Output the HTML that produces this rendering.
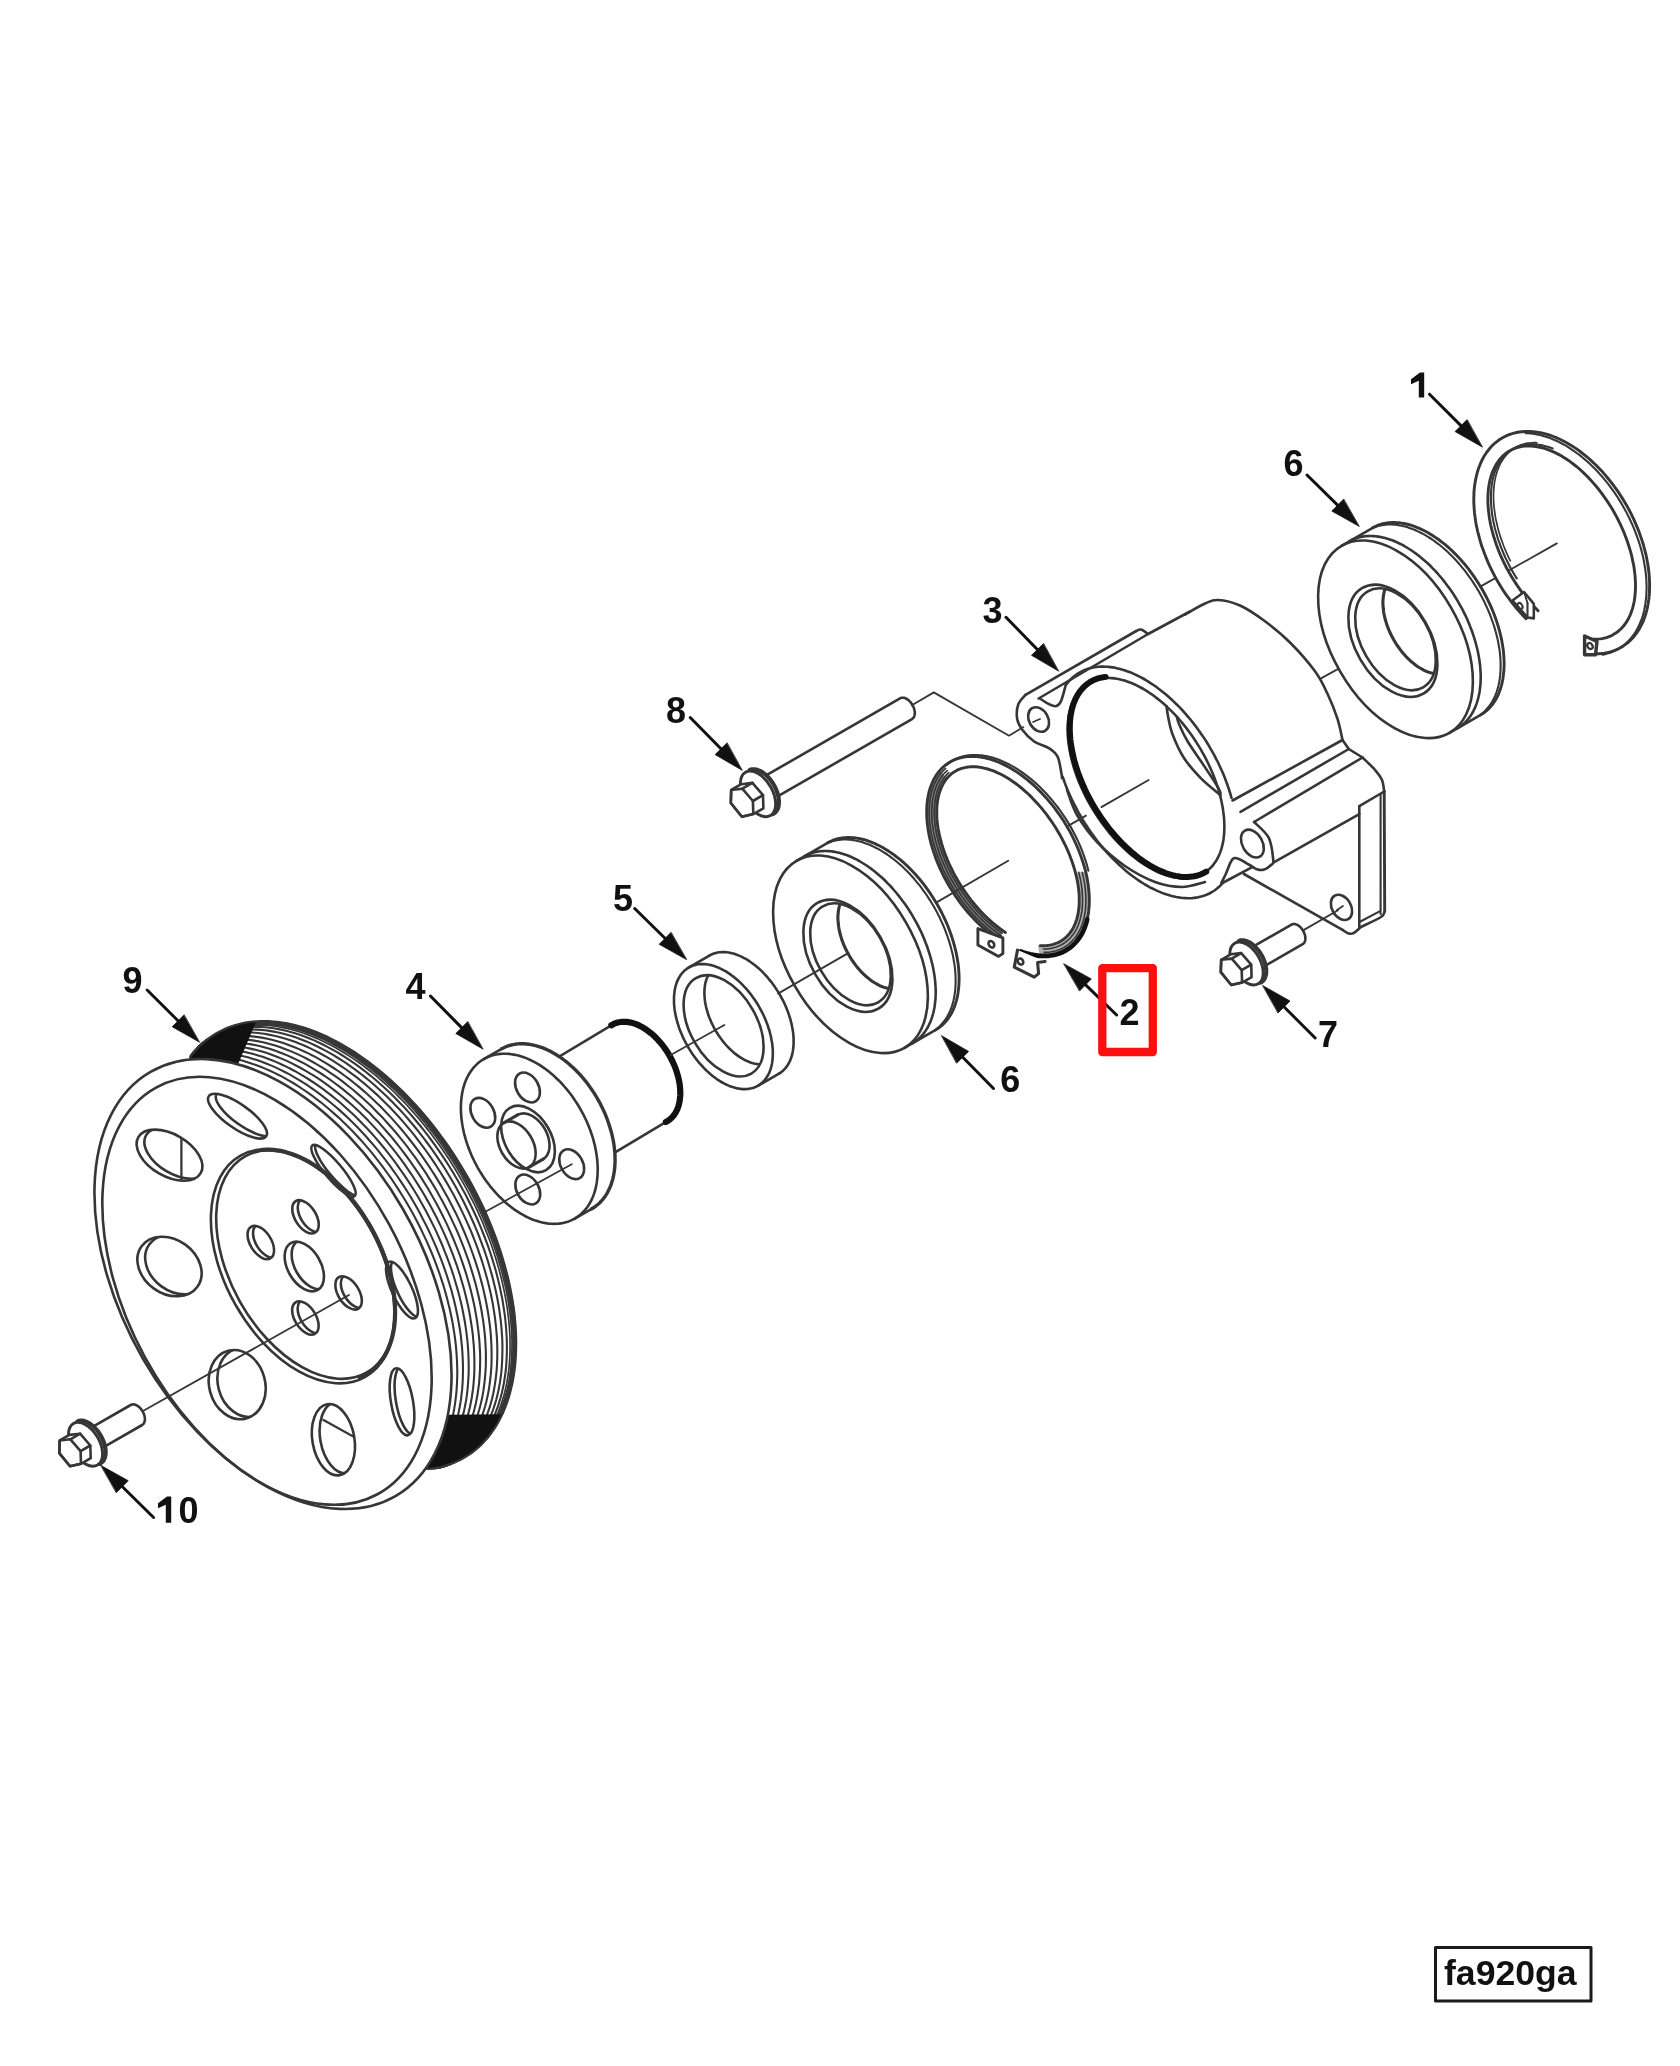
<!DOCTYPE html>
<html><head><meta charset="utf-8"><style>
html,body{margin:0;padding:0;background:#fff;width:1680px;height:2066px;overflow:hidden}
svg{display:block}
</style></head><body>
<svg xmlns="http://www.w3.org/2000/svg" width="1680" height="2066" viewBox="0 0 1680 2066" stroke-linecap="round" stroke-linejoin="round">
<rect width="1680" height="2066" fill="#fff"/>
<line x1="1321.4" y1="678.1" x2="1393" y2="638.8" stroke="#363636" stroke-width="1.8"/>
<line x1="1480.7" y1="586.4" x2="1556.8" y2="543.4" stroke="#363636" stroke-width="1.8"/>
<path d="M1526.1,618.7L1521.7,614.2L1517.5,609.5L1513.4,604.5L1509.5,599.4L1505.7,594.1L1502.1,588.6L1498.7,583L1495.4,577.3L1492.4,571.5L1489.5,565.6L1486.9,559.6L1484.5,553.6L1482.3,547.5L1480.4,541.4L1478.7,535.4L1477.2,529.3L1476,523.3L1475.1,517.4L1474.4,511.5L1474,505.7L1473.8,500L1473.9,494.5L1474.3,489.1L1474.9,483.8L1475.8,478.8L1476.9,473.9L1478.3,469.2L1479.9,464.8L1481.8,460.6L1483.9,456.6L1486.3,452.9L1488.9,449.4L1491.7,446.2L1494.7,443.3L1497.9,440.8L1501.3,438.5L1504.9,436.5L1508.6,434.8L1512.5,433.5L1516.6,432.5L1520.8,431.8L1525.1,431.5L1529.5,431.4L1534,431.7L1538.6,432.4L1543.3,433.4L1548,434.7L1552.7,436.3L1557.5,438.2L1562.3,440.5L1567.1,443L1571.9,445.9L1576.7,449L1581.4,452.4L1586,456.1L1590.6,460L1595.1,464.2L1599.5,468.7L1603.8,473.3L1607.9,478.2L1611.9,483.2L1615.8,488.4L1619.5,493.8L1623,499.3L1626.4,505L1629.5,510.8L1632.5,516.6L1635.2,522.6L1637.7,528.6L1640,534.6L1642.1,540.7L1643.9,546.8L1645.5,552.8L1646.8,558.8L1647.9,564.8L1648.7,570.7L1649.3,576.6L1649.6,582.3L1649.6,587.9L1649.4,593.4L1648.9,598.7L1648.1,603.9L1647.1,608.8L1645.8,613.6L1644.3,618.2L1642.6,622.5L1640.6,626.6L1638.3,630.5L1635.9,634.1L1633.2,637.4L1630.3,640.4L1627.2,643.2L1623.9,645.6L1620.4,647.7L1616.7,649.6L1612.9,651.1L1608.9,652.2L1604.8,653.1L1600.5,653.6L1596.2,653.8L1593.3,639.2L1596.9,639.2L1600.4,638.9L1603.8,638.3L1607,637.4L1610.2,636.2L1613.1,634.7L1615.9,633L1618.6,631L1621.1,628.7L1623.4,626.2L1625.5,623.4L1627.4,620.4L1629.2,617.1L1630.7,613.7L1632,610L1633.2,606.1L1634.1,602L1634.7,597.8L1635.2,593.4L1635.5,588.8L1635.5,584.1L1635.3,579.3L1634.9,574.3L1634.3,569.3L1633.4,564.2L1632.4,559L1631.1,553.8L1629.6,548.5L1628,543.3L1626.1,538L1624,532.7L1621.8,527.5L1619.3,522.3L1616.7,517.2L1614,512.1L1611,507.1L1608,502.3L1604.8,497.6L1601.4,493L1598,488.5L1594.4,484.2L1590.7,480.1L1587,476.2L1583.2,472.4L1579.3,468.9L1575.3,465.6L1571.3,462.5L1567.3,459.7L1563.3,457.1L1559.3,454.8L1555.3,452.7L1551.2,450.9L1547.3,449.4L1543.3,448.1L1539.5,447.1L1535.7,446.5L1531.9,446.1L1528.3,446L1524.7,446.1L1521.3,446.6L1518,447.4L1514.8,448.4L1511.8,449.7L1508.9,451.3L1506.1,453.2L1503.6,455.3L1501.2,457.7L1498.9,460.4L1496.9,463.2L1495.1,466.4L1493.4,469.7L1492,473.3L1490.8,477.1L1489.8,481.1L1489,485.2L1488.4,489.6L1488,494.1L1487.9,498.7L1488,503.5L1488.3,508.3L1488.8,513.3L1489.5,518.4L1490.5,523.5L1491.6,528.7L1493,534L1494.6,539.3L1496.3,544.5L1498.3,549.8L1500.5,555.1L1502.8,560.3L1505.3,565.4L1508,570.5L1510.9,575.5L1513.9,580.5L1517,585.3L1520.3,589.9L1523.7,594.5L1527.2,598.8L1530.8,603L1534.5,607.1Z" stroke="#363636" stroke-width="0" fill="#fff" stroke-opacity="0"/>
<path d="M1526.1,618.7L1523.4,615.9L1520.7,613L1518,610.1L1515.5,607L1512.9,603.9L1510.5,600.7L1508.1,597.4L1505.7,594.1L1503.4,590.7L1501.2,587.2L1499.1,583.7L1497,580.2L1495,576.6L1493.1,572.9L1491.3,569.3L1489.5,565.6L1487.8,561.8L1486.3,558.1L1484.8,554.3L1483.4,550.5L1482,546.8L1480.8,543L1479.7,539.2L1478.7,535.4L1477.7,531.6L1476.9,527.8L1476.1,524.1L1475.5,520.3L1475,516.6L1474.5,512.9L1474.2,509.3L1474,505.7L1473.8,502.1L1473.8,498.6L1473.9,495.2L1474,491.8L1474.3,488.4L1474.7,485.1L1475.2,481.9L1475.8,478.8L1476.5,475.7L1477.2,472.7L1478.1,469.8L1479.1,467L1480.2,464.2L1481.3,461.6L1482.6,459L1483.9,456.6L1485.4,454.2L1486.9,452L1488.6,449.8L1490.3,447.8L1492,445.9L1493.9,444L1495.9,442.3L1497.9,440.8L1500,439.3L1502.2,438L1504.4,436.7L1506.7,435.6L1509.1,434.7L1511.5,433.8L1514,433.1L1516.6,432.5L1519.2,432L1521.8,431.7L1524.5,431.5L1527.3,431.4L1530,431.5L1532.9,431.6L1535.7,431.9L1538.6,432.4L1541.5,433L1544.4,433.7L1547.4,434.5L1550.4,435.4L1553.3,436.5L1556.3,437.7L1559.3,439L1562.3,440.5L1565.3,442L1568.3,443.7L1571.3,445.5L1574.3,447.4L1577.3,449.4L1580.2,451.5L1583.1,453.8L1586,456.1L1588.9,458.5L1591.7,461.1L1594.5,463.7L1597.3,466.4L1600,469.2L1602.7,472.1L1605.3,475.1L1607.9,478.2L1610.4,481.3L1612.9,484.5L1615.3,487.8L1617.7,491.1L1619.9,494.5L1622.1,497.9L1624.3,501.4L1626.4,505L1628.4,508.6L1630.3,512.2L1632.1,515.9L1633.9,519.6L1635.5,523.3L1637.1,527.1L1638.6,530.8L1640,534.6L1641.3,538.4L1642.6,542.2L1643.7,546L1644.7,549.8L1645.7,553.6L1646.5,557.3L1647.2,561.1L1647.9,564.8L1648.4,568.5L1648.9,572.2L1649.2,575.8L1649.4,579.5L1649.6,583L1649.6,586.5L1649.5,590L1649.4,593.4L1649.1,596.7L1648.7,600L1648.2,603.2L1647.6,606.4L1647,609.5L1646.2,612.5L1645.3,615.4L1644.3,618.2L1643.3,620.9L1642.1,623.6L1640.8,626.1L1639.5,628.6L1638,630.9L1636.5,633.2L1634.9,635.3L1633.2,637.4L1631.4,639.3L1629.5,641.1L1627.6,642.8L1625.5,644.4L1623.4,645.9L1621.3,647.2L1619,648.5L1616.7,649.6L1614.3,650.5L1611.9,651.4L1609.4,652.1L1606.9,652.7L1604.3,653.2L1601.6,653.5L1598.9,653.7L1596.2,653.8" stroke="#363636" stroke-width="2.9" fill="none"/>
<path d="M1538.1,610.7L1535.7,608.3L1533.3,605.8L1531,603.3L1528.7,600.6L1526.4,597.9L1524.2,595.1L1522,592.3L1519.9,589.4L1517.8,586.4L1515.8,583.4L1513.8,580.3L1511.9,577.2L1510,574.1L1508.2,570.9L1506.5,567.7L1504.8,564.4L1503.2,561.1L1501.7,557.8L1500.2,554.5L1498.8,551.2L1497.5,547.8L1496.3,544.5L1495.2,541.1L1494.1,537.8L1493.1,534.4L1492.2,531.1L1491.4,527.8L1490.6,524.5L1490,521.2L1489.4,517.9L1489,514.7L1488.6,511.5L1488.3,508.4L1488,505.2L1487.9,502.2L1487.9,499.2L1487.9,496.2L1488.1,493.3L1488.3,490.4L1488.6,487.6L1489,484.9L1489.5,482.3L1490.1,479.7L1490.8,477.2L1491.5,474.7L1492.4,472.4L1493.3,470.1L1494.3,468L1495.4,465.9L1496.5,463.9L1497.8,462L1499.1,460.2L1500.5,458.5L1501.9,456.9L1503.5,455.4L1505.1,454L1506.8,452.7L1508.5,451.5L1510.3,450.5L1512.2,449.5L1514.1,448.7L1516.1,447.9L1518.1,447.3L1520.2,446.8L1522.4,446.4L1524.6,446.1L1526.8,446L1529.1,446L1531.4,446L1533.7,446.2L1536.1,446.5L1538.5,447L1541,447.5L1543.5,448.1L1546,448.9L1548.5,449.8L1551,450.8L1553.5,451.9L1556.1,453.1L1558.6,454.4L1561.2,455.8L1563.8,457.4L1566.3,459L1568.9,460.7L1571.4,462.6L1573.9,464.5L1576.5,466.5L1579,468.6L1581.4,470.8L1583.9,473.1L1586.3,475.5L1588.7,477.9L1591.1,480.5L1593.4,483.1L1595.7,485.8L1598,488.5L1600.2,491.3L1602.3,494.2L1604.4,497.1L1606.5,500.1L1608.5,503.1L1610.5,506.2L1612.4,509.3L1614.2,512.5L1616,515.7L1617.7,519L1619.3,522.2L1620.9,525.5L1622.4,528.8L1623.8,532.1L1625.1,535.5L1626.4,538.8L1627.6,542.2L1628.7,545.5L1629.7,548.9L1630.7,552.2L1631.6,555.5L1632.3,558.9L1633,562.2L1633.7,565.4L1634.2,568.7L1634.6,571.9L1635,575.1L1635.2,578.2L1635.4,581.3L1635.5,584.3L1635.5,587.3L1635.4,590.3L1635.2,593.2L1635,596L1634.6,598.8L1634.2,601.5L1633.6,604.1L1633,606.6L1632.3,609.1L1631.5,611.5L1630.7,613.8L1629.7,616L1628.7,618.2L1627.5,620.2L1626.4,622.2L1625.1,624L1623.7,625.8L1622.3,627.4L1620.8,629L1619.2,630.4L1617.6,631.8L1615.9,633L1614.1,634.1L1612.3,635.2L1610.4,636.1L1608.4,636.9L1606.4,637.6L1604.4,638.1L1602.2,638.6L1600.1,638.9L1597.9,639.1L1595.6,639.2L1593.3,639.2L1591,639.1" stroke="#363636" stroke-width="2.9" fill="none"/>
<path d="M1525.6,433.2L1528.1,433.3L1530.6,433.5L1533.1,433.7L1535.6,434.1L1538.2,434.6L1540.7,435.2L1543.3,435.9L1545.9,436.7L1548.5,437.6L1551.2,438.6L1553.8,439.7L1556.4,440.8L1559.1,442.1L1561.7,443.5L1564.4,444.9L1567,446.4L1569.6,448.1L1572.2,449.8L1574.8,451.6L1577.4,453.5L1580,455.4L1582.5,457.5L1585.1,459.6L1587.6,461.8L1590,464.1L1592.5,466.4L1594.9,468.8L1597.3,471.3L1599.6,473.9L1602,476.5L1604.2,479.1L1606.5,481.9L1608.7,484.7L1610.8,487.5L1612.9,490.4L1615,493.3L1617,496.3L1618.9,499.4L1620.8,502.4L1622.6,505.5L1624.4,508.7L1626.2,511.9L1627.8,515.1L1629.4,518.3L1630.9,521.6L1632.4,524.8L1633.8,528.1L1635.1,531.4L1636.4,534.8L1637.6,538.1L1638.7,541.4L1639.8,544.8L1640.8,548.1L1641.7,551.4L1642.5,554.8L1643.3,558.1L1643.9,561.4L1644.5,564.7L1645.1,568L1645.5,571.2L1645.9,574.4L1646.2,577.6L1646.4,580.8L1646.5,583.9L1646.6,587L1646.5,590.1L1646.4,593.1L1646.3,596.1L1646,599L1645.6,601.9L1645.2,604.7L1644.7,607.5L1644.2,610.2L1643.5,612.9L1642.8,615.5L1642,618L1641.1,620.5L1640.1,622.9L1639.1,625.2L1638,627.5L1636.8,629.7L1635.6,631.8L1634.3,633.8L1632.9,635.7L1631.4,637.6L1629.9,639.4L1628.4,641L1626.7,642.7L1625,644.2L1623.3,645.6L1621.4,646.9L1619.6,648.2L1617.6,649.3L1615.7,650.4L1613.6,651.3L1611.5,652.2L1609.4,653L1607.2,653.6L1605,654.2L1602.7,654.7" stroke="#363636" stroke-width="2.1" fill="none"/>
<path d="M1516.7,578.4L1515.1,575.8L1513.6,573.3L1512.1,570.7L1510.6,568L1509.2,565.4L1507.9,562.7L1506.6,560.1L1505.3,557.4L1504.1,554.7L1502.9,551.9L1501.8,549.2L1500.7,546.5L1499.7,543.7L1498.7,541L1497.8,538.3L1497,535.5L1496.2,532.8L1495.4,530.1L1494.7,527.3L1494.1,524.6L1493.5,521.9L1493,519.3L1492.5,516.6L1492.1,514L1491.8,511.3L1491.5,508.7L1491.3,506.2L1491.1,503.6L1491,501.1L1490.9,498.6L1490.9,496.2L1491,493.8L1491.1,491.4L1491.3,489L1491.5,486.8L1491.8,484.5L1492.2,482.3L1492.6,480.1L1493.1,478L1493.6,476L1494.2,474L1494.9,472L1495.6,470.1L1496.3,468.3L1497.2,466.5L1498,464.8L1499,463.1L1499.9,461.5L1501,460L1502,458.5L1503.2,457.1L1504.4,455.8L1505.6,454.5L1506.9,453.3L1508.2,452.2L1509.5,451.1L1511,450.2L1512.4,449.2L1513.9,448.4L1515.5,447.6L1517,447L1518.6,446.3L1520.3,445.8L1522,445.4L1523.7,445L1525.5,444.7L1527.3,444.4L1529.1,444.3L1530.9,444.2L1532.8,444.2L1534.7,444.3L1536.6,444.5L1538.6,444.7L1540.5,445L1542.5,445.4L1544.5,445.9L1546.6,446.4L1548.6,447L1550.6,447.7L1552.7,448.5" stroke="#363636" stroke-width="2.1" fill="none"/>
<path d="M1510.3,560.8L1509.2,558.7L1508.2,556.5L1507.2,554.3L1506.2,552.1L1505.3,549.9L1504.4,547.7L1503.5,545.5L1502.7,543.3L1501.9,541.1L1501.1,538.9L1500.4,536.7L1499.7,534.4L1499,532.2L1498.4,530L1497.8,527.8L1497.3,525.6L1496.8,523.4L1496.3,521.3L1495.8,519.1L1495.4,516.9L1495.1,514.8L1494.8,512.7L1494.5,510.5L1494.2,508.4L1494,506.3L1493.8,504.3L1493.7,502.2L1493.6,500.2L1493.5,498.2L1493.5,496.2L1493.5,494.2L1493.6,492.3L1493.7,490.3L1493.8,488.4L1494,486.6L1494.2,484.7L1494.5,482.9L1494.7,481.1L1495.1,479.4L1495.4,477.7L1495.8,476L1496.3,474.3L1496.8,472.7L1497.3,471.1L1497.8,469.6L1498.4,468.1L1499,466.6L1499.7,465.1L1500.4,463.7L1501.1,462.4L1501.9,461.1L1502.7,459.8L1503.5,458.6L1504.4,457.4L1505.3,456.2L1506.2,455.1L1507.2,454L1508.2,453L1509.2,452.1L1510.3,451.1L1511.4,450.2L1512.5,449.4L1513.6,448.6L1514.8,447.9L1516,447.2L1517.2,446.6L1518.5,446L1519.8,445.4L1521.1,444.9L1522.4,444.5L1523.7,444.1L1525.1,443.7L1526.5,443.4L1527.9,443.2L1529.4,443L1530.8,442.8L1532.3,442.8L1533.8,442.7L1535.3,442.7L1536.9,442.8" stroke="#363636" stroke-width="1.7" fill="none"/>
<path d="M1512.5,600.5L1527.5,617.5L1533.8,618.4L1533.8,603.9L1524,592Z" stroke="#363636" stroke-width="2.6" fill="#fff"/>
<line x1="1527.5" y1="617.5" x2="1527.5" y2="603" stroke="#363636" stroke-width="2.1"/>
<line x1="1524" y1="592" x2="1527.5" y2="603" stroke="#363636" stroke-width="1.8"/>
<ellipse cx="1520" cy="606" rx="3.2" ry="2.2" transform="rotate(55 1520 606)" stroke="#363636" stroke-width="2.1" fill="none"/>
<path d="M1584.6,636L1584.6,654.7L1595.5,654.7L1597,641.5Z" stroke="#363636" stroke-width="3.4" fill="#fff"/>
<ellipse cx="1590" cy="646" rx="3.2" ry="2.4" transform="rotate(55 1590 646)" stroke="#363636" stroke-width="2.3" fill="none"/>
<path d="M1449.5,732.8L1447,734.1L1444.5,735.3L1441.8,736.2L1439.1,737L1436.2,737.5L1433.3,737.9L1430.3,738.1L1427.3,738.1L1424.2,738L1421,737.6L1417.8,737L1414.6,736.3L1411.3,735.4L1407.9,734.3L1404.6,733L1401.2,731.5L1397.9,729.9L1394.5,728.1L1391.1,726.1L1387.8,723.9L1384.4,721.6L1381.1,719.2L1377.8,716.5L1374.5,713.8L1371.3,710.9L1368.1,707.8L1365,704.7L1361.9,701.4L1358.9,697.9L1355.9,694.4L1353.1,690.8L1350.3,687.1L1347.6,683.2L1345,679.3L1342.5,675.3L1340.1,671.3L1337.8,667.2L1335.6,663L1333.5,658.8L1331.5,654.6L1329.7,650.3L1328,646L1326.4,641.7L1324.9,637.4L1323.6,633.1L1322.4,628.8L1321.4,624.5L1320.5,620.2L1319.7,616L1319.1,611.9L1318.7,607.7L1318.3,603.7L1318.2,599.7L1318.1,595.8L1318.2,592L1318.5,588.2L1318.9,584.6L1319.5,581L1320.2,577.6L1321,574.3L1322,571.1L1323.1,568.1L1324.4,565.1L1325.8,562.4L1327.3,559.7L1329,557.2L1330.8,554.9L1332.7,552.7L1334.7,550.7L1336.9,548.9L1339.1,547.3L1341.5,545.8L1372.7,527.8L1375.2,526.5L1377.7,525.4L1380.4,524.4L1383.1,523.7L1386,523.1L1388.9,522.7L1391.9,522.5L1394.9,522.5L1398,522.7L1401.2,523L1404.4,523.6L1407.6,524.3L1410.9,525.3L1414.3,526.4L1417.6,527.7L1421,529.1L1424.3,530.8L1427.7,532.6L1431.1,534.6L1434.4,536.7L1437.8,539L1441.1,541.5L1444.4,544.1L1447.7,546.9L1450.9,549.8L1454.1,552.8L1457.2,556L1460.3,559.3L1463.3,562.7L1466.3,566.2L1469.1,569.9L1471.9,573.6L1474.6,577.4L1477.2,581.3L1479.7,585.3L1482.1,589.3L1484.4,593.4L1486.6,597.6L1488.7,601.8L1490.7,606.1L1492.5,610.3L1494.2,614.6L1495.8,618.9L1497.3,623.3L1498.6,627.6L1499.8,631.9L1500.8,636.1L1501.7,640.4L1502.5,644.6L1503.1,648.8L1503.5,652.9L1503.9,656.9L1504,660.9L1504.1,664.8L1504,668.7L1503.7,672.4L1503.3,676.1L1502.7,679.6L1502,683L1501.2,686.3L1500.2,689.5L1499.1,692.6L1497.8,695.5L1496.4,698.3L1494.9,700.9L1493.2,703.4L1491.4,705.7L1489.5,707.9L1487.5,709.9L1485.3,711.7L1483.1,713.4L1480.7,714.9Z" stroke="#363636" stroke-width="0" fill="#fff" stroke-opacity="0"/>
<path d="M1372.7,527.8L1374.5,526.8L1376.3,526L1378.2,525.2L1380.1,524.5L1382,524L1384,523.5L1386.1,523.1L1388.2,522.8L1390.3,522.6L1392.5,522.5L1394.7,522.5L1396.9,522.6L1399.2,522.8L1401.4,523.1L1403.7,523.5L1406.1,524L1408.4,524.5L1410.8,525.2L1413.2,526L1415.6,526.9L1418,527.8L1420.4,528.9L1422.8,530L1425.3,531.3L1427.7,532.6L1430.1,534L1432.6,535.5L1435,537.1L1437.4,538.7L1439.8,540.5L1442.2,542.3L1444.6,544.2L1446.9,546.2L1449.3,548.2L1451.6,550.4L1453.9,552.6L1456.1,554.8L1458.4,557.2L1460.6,559.5L1462.7,562L1464.9,564.5L1467,567.1L1469,569.7L1471,572.4L1473,575.1L1474.9,577.9L1476.8,580.7L1478.6,583.5L1480.4,586.4L1482.1,589.3L1483.8,592.3L1485.4,595.3L1487,598.3L1488.5,601.3L1489.9,604.4L1491.3,607.4L1492.6,610.5L1493.8,613.6L1495,616.7L1496.1,619.8L1497.1,622.9L1498.1,626L1499,629.1L1499.8,632.2L1500.6,635.3L1501.3,638.4L1501.9,641.4L1502.4,644.4L1502.9,647.4L1503.3,650.4L1503.6,653.4L1503.8,656.3L1504,659.2L1504.1,662L1504.1,664.8L1504,667.6L1503.9,670.3L1503.6,673L1503.3,675.6L1503,678.2L1502.5,680.7L1502,683.2L1501.4,685.6L1500.7,687.9L1500,690.1L1499.2,692.3L1498.3,694.5L1497.3,696.5L1496.3,698.5L1495.2,700.4L1494,702.2L1492.8,704L1491.5,705.6L1490.1,707.2L1488.7,708.7L1487.2,710.1L1485.7,711.4L1484.1,712.7L1482.4,713.8L1480.7,714.9" stroke="#363636" stroke-width="2.9" fill="none"/>
<path d="M1374.3,527.4L1376.1,526.7L1377.9,526.1L1379.8,525.6L1381.7,525.2L1383.7,524.9L1385.7,524.7L1387.7,524.5L1389.7,524.5L1391.8,524.5L1393.9,524.6L1396.1,524.8L1398.2,525.1L1400.4,525.5L1402.6,526L1404.8,526.5L1407.1,527.1L1409.3,527.9L1411.6,528.7L1413.9,529.5L1416.1,530.5L1418.4,531.6L1420.7,532.7L1423,533.9L1425.3,535.2L1427.6,536.6L1429.9,538L1432.2,539.5L1434.5,541.1L1436.7,542.8L1439,544.5L1441.2,546.3L1443.5,548.2L1445.7,550.1L1447.8,552.1L1450,554.2L1452.2,556.3L1454.3,558.5L1456.4,560.7L1458.4,563L1460.4,565.4L1462.4,567.8L1464.4,570.2L1466.3,572.7L1468.2,575.3L1470.1,577.9L1471.9,580.5L1473.6,583.1L1475.4,585.8L1477,588.6L1478.7,591.3L1480.2,594.1L1481.8,596.9L1483.2,599.8L1484.7,602.6L1486,605.5L1487.3,608.4L1488.6,611.3L1489.8,614.2L1490.9,617.1L1492,620.1L1493,623L1494,625.9L1494.9,628.9L1495.7,631.8L1496.5,634.7L1497.2,637.6L1497.9,640.5L1498.4,643.4L1498.9,646.3L1499.4,649.1L1499.8,651.9L1500.1,654.7L1500.3,657.5L1500.5,660.2L1500.6,662.9L1500.6,665.6L1500.6,668.2L1500.5,670.8L1500.3,673.4L1500.1,675.9L1499.8,678.3L1499.4,680.8L1499,683.1L1498.5,685.4L1497.9,687.7L1497.3,689.9L1496.6,692L1495.8,694.1L1495,696.1L1494.1,698.1L1493.1,700L1492.1,701.8L1491,703.5L1489.9,705.2L1488.7,706.8L1487.4,708.3L1486.1,709.8L1484.7,711.2L1483.3,712.5L1481.9,713.7" stroke="#363636" stroke-width="2.1" fill="none"/>
<line x1="1449.5" y1="732.8" x2="1480.7" y2="714.9" stroke="#363636" stroke-width="2.6"/>
<line x1="1341.5" y1="545.8" x2="1372.7" y2="527.8" stroke="#363636" stroke-width="2.6"/>
<path d="M1349.3,541.3L1351.1,540.3L1352.9,539.5L1354.8,538.7L1356.7,538L1358.6,537.4L1360.6,536.9L1362.7,536.6L1364.8,536.3L1366.9,536.1L1369.1,536L1371.3,536L1373.5,536.1L1375.8,536.3L1378,536.6L1380.3,536.9L1382.7,537.4L1385,538L1387.4,538.7L1389.8,539.5L1392.2,540.3L1394.6,541.3L1397,542.3L1399.4,543.5L1401.9,544.7L1404.3,546L1406.7,547.5L1409.2,549L1411.6,550.5L1414,552.2L1416.4,553.9L1418.8,555.8L1421.2,557.7L1423.5,559.7L1425.9,561.7L1428.2,563.8L1430.5,566L1432.7,568.3L1435,570.6L1437.2,573L1439.3,575.5L1441.5,578L1443.6,580.6L1445.6,583.2L1447.6,585.9L1449.6,588.6L1451.5,591.3L1453.4,594.1L1455.2,597L1457,599.9L1458.7,602.8L1460.4,605.8L1462,608.7L1463.6,611.8L1465.1,614.8L1466.5,617.8L1467.9,620.9L1469.2,624L1470.4,627.1L1471.6,630.2L1472.7,633.3L1473.7,636.4L1474.7,639.5L1475.6,642.6L1476.4,645.7L1477.2,648.8L1477.9,651.8L1478.5,654.9L1479,657.9L1479.5,660.9L1479.9,663.9L1480.2,666.9L1480.4,669.8L1480.6,672.7L1480.7,675.5L1480.7,678.3L1480.6,681.1L1480.5,683.8L1480.2,686.5L1479.9,689.1L1479.6,691.7L1479.1,694.2L1478.6,696.6L1478,699L1477.3,701.4L1476.6,703.6L1475.8,705.8L1474.9,707.9L1473.9,710L1472.9,712L1471.8,713.9L1470.6,715.7L1469.4,717.4L1468.1,719.1L1466.7,720.7L1465.3,722.2L1463.8,723.6L1462.3,724.9L1460.7,726.1L1459,727.3L1457.3,728.3" stroke="#363636" stroke-width="2.6" fill="none"/>
<ellipse cx="1395.5" cy="639.3" rx="108" ry="64" transform="rotate(60 1395.5 639.3)" stroke="#363636" stroke-width="2.6" fill="none"/>
<ellipse cx="1392.9" cy="640.8" rx="61" ry="37.5" transform="rotate(60 1392.9 640.8)" stroke="#363636" stroke-width="2.6" fill="none"/>
<ellipse cx="1395.5" cy="639.3" rx="55.4" ry="33.8" transform="rotate(60 1395.5 639.3)" stroke="#363636" stroke-width="2.6" fill="none"/>
<clipPath id="c1"><path d="M1423.2,687.3L1421.6,688.1L1420,688.8L1418.3,689.3L1416.5,689.7L1414.7,690L1412.8,690.2L1410.9,690.1L1408.9,690L1406.9,689.7L1404.9,689.3L1402.8,688.7L1400.7,688L1398.6,687.2L1396.5,686.3L1394.4,685.2L1392.3,684L1390.2,682.6L1388.1,681.2L1386,679.6L1384,677.9L1382,676.1L1380,674.3L1378.1,672.3L1376.2,670.2L1374.4,668L1372.6,665.8L1370.9,663.5L1369.3,661.1L1367.7,658.7L1366.2,656.2L1364.8,653.7L1363.5,651.1L1362.3,648.5L1361.1,645.9L1360.1,643.2L1359.1,640.5L1358.2,637.9L1357.5,635.2L1356.8,632.6L1356.3,629.9L1355.9,627.3L1355.5,624.8L1355.3,622.2L1355.2,619.8L1355.2,617.3L1355.3,615L1355.6,612.6L1355.9,610.4L1356.3,608.3L1356.9,606.2L1357.5,604.2L1358.3,602.3L1359.1,600.6L1360.1,598.9L1361.2,597.3L1362.3,595.9L1363.6,594.6L1364.9,593.4L1366.3,592.3L1367.8,591.3L1369.4,590.5L1371,589.8L1372.7,589.3L1374.5,588.9L1376.3,588.6L1378.2,588.4L1380.1,588.5L1382.1,588.6L1384.1,588.9L1386.1,589.3L1388.2,589.9L1390.3,590.6L1392.4,591.4L1394.5,592.3L1396.6,593.4L1398.7,594.6L1400.8,596L1402.9,597.4L1405,599L1407,600.7L1409,602.5L1411,604.3L1412.9,606.3L1414.8,608.4L1416.6,610.6L1418.4,612.8L1420.1,615.1L1421.7,617.5L1423.3,619.9L1424.8,622.4L1426.2,624.9L1427.5,627.5L1428.7,630.1L1429.9,632.7L1430.9,635.4L1431.9,638.1L1432.8,640.7L1433.5,643.4L1434.2,646L1434.7,648.7L1435.1,651.3L1435.5,653.8L1435.7,656.4L1435.8,658.8L1435.8,661.3L1435.7,663.6L1435.4,666L1435.1,668.2L1434.7,670.3L1434.1,672.4L1433.5,674.4L1432.7,676.3L1431.9,678L1430.9,679.7L1429.8,681.3L1428.7,682.7L1427.4,684L1426.1,685.2L1424.7,686.3L1423.2,687.3Z"/></clipPath>
<g clip-path="url(#c1)">
<path d="M1450.9,671.3L1449.4,672.1L1447.7,672.8L1446,673.4L1444.2,673.8L1442.4,674.1L1440.5,674.2L1438.6,674.2L1436.6,674L1434.6,673.8L1432.6,673.3L1430.5,672.8L1428.4,672.1L1426.3,671.3L1424.2,670.3L1422.1,669.2L1420,668L1417.9,666.7L1415.8,665.2L1413.8,663.6L1411.7,662L1409.7,660.2L1407.8,658.3L1405.8,656.3L1404,654.2L1402.1,652.1L1400.4,649.8L1398.7,647.5L1397,645.2L1395.5,642.7L1394,640.2L1392.6,637.7L1391.2,635.1L1390,632.5L1388.8,629.9L1387.8,627.2L1386.8,624.6L1386,621.9L1385.2,619.3L1384.6,616.6L1384,614L1383.6,611.4L1383.3,608.8L1383.1,606.3L1382.9,603.8L1382.9,601.4L1383.1,599L1383.3,596.7L1383.6,594.5L1384.1,592.3L1384.6,590.2L1385.3,588.3L1386,586.4L1386.9,584.6L1387.8,582.9L1388.9,581.4L1390.1,579.9L1391.3,578.6L1392.6,577.4L1394,576.3L1395.5,575.4L1397.1,574.5L1398.7,573.9L1400.5,573.3L1402.2,572.9L1404.1,572.6L1405.9,572.5L1407.9,572.5L1409.8,572.6L1411.8,572.9L1413.9,573.3L1415.9,573.9L1418,574.6L1420.1,575.4L1422.2,576.4L1424.3,577.5L1426.5,578.7L1428.5,580L1430.6,581.5L1432.7,583L1434.7,584.7L1436.7,586.5L1438.7,588.4L1440.6,590.4L1442.5,592.4L1444.3,594.6L1446.1,596.8L1447.8,599.1L1449.4,601.5L1451,603.9L1452.5,606.4L1453.9,609L1455.2,611.5L1456.5,614.1L1457.6,616.8L1458.7,619.4L1459.6,622.1L1460.5,624.8L1461.2,627.4L1461.9,630.1L1462.4,632.7L1462.9,635.3L1463.2,637.9L1463.4,640.4L1463.5,642.9L1463.5,645.3L1463.4,647.7L1463.2,650L1462.8,652.2L1462.4,654.4L1461.9,656.4L1461.2,658.4L1460.4,660.3L1459.6,662.1L1458.6,663.7L1457.6,665.3L1456.4,666.7L1455.2,668.1L1453.8,669.3L1452.4,670.4L1450.9,671.3Z" stroke="#363636" stroke-width="3.1" fill="none"/>
</g>
<path d="M1025.5,694.8L1136.2,631L1141,629.9L1148.1,634L1210,600.7L1240,607.5L1265,621.3L1290,642.5L1315,671.3L1337.5,718.8L1342.5,740L1362.5,757.5L1375.1,770L1384.2,787L1384.7,911.4L1360.4,927.2L1351.4,933L1343,930.2L1243.9,874L1221.3,883.1L1223.2,882.4L1221.4,884.5L1219.5,886.4L1217.5,888.2L1215.3,889.9L1213.1,891.4L1210.8,892.7L1208.4,893.9L1205.9,895L1203.4,895.9L1200.7,896.7L1198,897.3L1195.2,897.7L1192.4,898L1189.5,898.2L1186.5,898.2L1183.5,898L1180.4,897.7L1177.3,897.2L1174.1,896.6L1170.9,895.8L1167.7,894.8L1164.4,893.7L1161.1,892.5L1157.8,891.1L1154.5,889.6L1151.1,887.9L1147.8,886.1L1144.4,884.1L1141.1,882L1137.7,879.8L1134.4,877.4L1131.1,874.9L1127.8,872.3L1124.5,869.6L1121.2,866.8L1118,863.8L1114.9,860.7L1111.7,857.5L1108.6,854.3L1105.6,850.9L1102.6,847.4L1099.7,843.9L1096.8,840.2L1094,836.5L1091.3,832.7L1088.6,828.9L1086,825L1083.5,821L1081.1,816.9L1078.8,812.9L1076.5,808.8L1074.4,804.6L1072.3,800.4L1070.3,796.2L1068.5,792L1066.7,787.8L1065.1,783.5L1063.5,779.3L1062.1,775L1060.8,770.8L1057.6,756.7L1049.3,748.3L1033.8,741.2L1021.9,729.3L1017.1,718.6L1018.3,704.3Z" stroke="#363636" stroke-width="0" fill="#fff" stroke-opacity="0"/>
<path d="M1066.3,684.5L1067.6,682.8L1069,681.1L1070.5,679.6L1072,678.1L1073.6,676.7L1075.2,675.4L1076.9,674.2L1078.6,673.1L1080.4,672.1L1082.3,671.1L1084.2,670.2L1086.1,669.5L1088.1,668.8L1090.1,668.2L1092.2,667.7L1094.4,667.3L1096.5,667L1098.7,666.8L1101,666.6L1103.3,666.6L1105.6,666.7L1107.9,666.8L1110.3,667.1L1112.7,667.4L1115.2,667.8L1117.6,668.4L1120.1,669L1122.6,669.7L1125.1,670.5L1127.7,671.4L1130.2,672.3L1132.8,673.4L1135.3,674.6L1137.9,675.8L1140.5,677.1L1143.1,678.5L1145.7,680L1148.3,681.6L1150.9,683.3L1153.5,685L1156.1,686.8L1158.6,688.7L1161.2,690.7L1163.7,692.7L1166.3,694.8L1168.8,697L1171.3,699.3L1173.8,701.6L1176.2,704L1178.7,706.4L1181.1,708.9L1183.5,711.5L1185.8,714.1L1188.1,716.8L1190.4,719.5L1192.6,722.3L1194.8,725.1L1197,728L1199.1,730.9L1201.2,733.9L1203.3,736.9L1205.3,739.9L1207.2,743L1209.1,746.1L1210.9,749.3L1212.7,752.4L1214.5,755.6L1216.1,758.8L1217.8,762L1219.3,765.3L1220.8,768.5L1222.3,771.8L1223.7,775.1L1225,778.3L1226.2,781.6L1227.4,784.9L1228.6,788.2L1229.6,791.5L1230.6,794.7L1231.5,798" stroke="#363636" stroke-width="2.6" fill="none"/>
<path d="M1223.2,882.4L1221.9,883.9L1220.5,885.4L1219.1,886.8L1217.6,888.1L1216.1,889.3L1214.5,890.5L1212.8,891.5L1211.2,892.5L1209.4,893.5L1207.6,894.3L1205.8,895.1L1203.9,895.7L1202,896.3L1200.1,896.8L1198.1,897.3L1196.1,897.6L1194,897.9L1191.9,898.1L1189.7,898.2L1187.6,898.2L1185.4,898.1L1183.2,898L1180.9,897.7L1178.6,897.4L1176.3,897L1174,896.5L1171.7,896L1169.3,895.3L1166.9,894.6L1164.5,893.8L1162.1,892.9L1159.7,891.9L1157.3,890.9L1154.8,889.7L1152.4,888.5L1149.9,887.3L1147.5,885.9L1145,884.5L1142.6,883L1140.1,881.4L1137.7,879.8L1135.2,878L1132.8,876.3L1130.4,874.4L1127.9,872.5L1125.5,870.5L1123.2,868.4L1120.8,866.3L1118.4,864.2L1116.1,861.9L1113.8,859.6L1111.5,857.3L1109.2,854.9L1107,852.5L1104.8,850L1102.6,847.4L1100.4,844.8L1098.3,842.2L1096.2,839.5L1094.2,836.8L1092.2,834L1090.2,831.2L1088.3,828.4L1086.4,825.5L1084.5,822.6L1082.7,819.7L1081,816.7L1079.2,813.8L1077.6,810.8L1076,807.7L1074.4,804.7L1072.9,801.6L1071.4,798.6L1070,795.5L1068.6,792.4L1067.3,789.3L1066.1,786.2L1064.9,783.1L1063.8,780L1062.7,776.9" stroke="#363636" stroke-width="2.6" fill="none"/>
<path d="M1067,790C1068.7,794.2 1071.8,806.2 1077,815C1082.2,823.8 1090,834.5 1098,843C1106,851.5 1115.5,859.5 1125,866C1134.5,872.5 1145.5,878.5 1155,882C1164.5,885.5 1173.7,887 1182,887C1190.3,887 1201.2,882.8 1205,882" stroke="#363636" stroke-width="2.6" fill="none"/>
<path d="M1204.1,872.9L1202.2,874L1200.3,874.9L1198.3,875.8L1196.2,876.5L1194.1,877.1L1191.9,877.5L1189.6,877.9L1187.4,878.1L1185,878.2L1182.6,878.2L1180.2,878.1L1177.7,877.8L1175.2,877.5L1172.6,877L1170,876.3L1167.4,875.6L1164.8,874.7L1162.1,873.8L1159.4,872.7L1156.7,871.5L1154,870.1L1151.3,868.7L1148.5,867.2L1145.8,865.5L1143,863.7L1140.3,861.9L1137.6,859.9L1134.9,857.8L1132.2,855.7L1129.5,853.4L1126.8,851.1L1124.2,848.6L1121.6,846.1L1119,843.5L1116.4,840.8L1113.9,838.1L1111.4,835.2L1109,832.3L1106.6,829.3L1104.3,826.3L1102,823.2L1099.8,820.1L1097.6,816.9L1095.5,813.6L1093.4,810.3L1091.4,807L1089.5,803.6L1087.6,800.3L1085.8,796.8L1084.1,793.4L1082.5,789.9L1080.9,786.4L1079.4,783L1078,779.5L1076.7,776L1075.5,772.5L1074.3,769L1073.2,765.5L1072.3,762.1L1071.4,758.6L1070.6,755.2L1069.9,751.8L1069.3,748.5L1068.8,745.1L1068.4,741.9L1068,738.6L1067.8,735.4L1067.7,732.3L1067.6,729.2L1067.7,726.2L1067.8,723.2L1068.1,720.3L1068.4,717.5L1068.8,714.8L1069.4,712.1L1070,709.5L1070.7,707L1071.5,704.6L1072.4,702.3L1073.4,700L1074.5,697.9L1075.6,695.8L1076.9,693.9L1078.2,692.1L1079.6,690.3L1081.1,688.7L1082.7,687.2L1084.4,685.8L1086.1,684.5L1087.9,683.3L1089.8,682.2L1091.7,681.3L1093.7,680.4L1095.8,679.7L1097.9,679.1L1100.1,678.7L1102.4,678.3L1104.6,678.1L1107,678L1109.4,678L1111.8,678.1L1114.3,678.4L1116.8,678.7L1119.4,679.2L1122,679.9L1124.6,680.6L1127.2,681.5L1129.9,682.4L1132.6,683.5L1135.3,684.7L1138,686.1L1140.7,687.5L1143.5,689L1146.2,690.7L1149,692.5L1151.7,694.3L1154.4,696.3L1157.1,698.4L1159.8,700.5L1162.5,702.8L1165.2,705.1L1167.8,707.6L1170.4,710.1L1173,712.7L1175.6,715.4L1178.1,718.1L1180.6,721L1183,723.9L1185.4,726.9L1187.7,729.9L1190,733L1192.2,736.1L1194.4,739.3L1196.5,742.6L1198.6,745.9L1200.6,749.2L1202.5,752.6L1204.4,755.9L1206.2,759.4L1207.9,762.8L1209.5,766.3L1211.1,769.8L1212.6,773.2L1214,776.7L1215.3,780.2L1216.5,783.7L1217.7,787.2L1218.8,790.7L1219.7,794.1L1220.6,797.6L1221.4,801L1222.1,804.4L1222.7,807.7L1223.2,811.1L1223.6,814.3L1224,817.6L1224.2,820.8L1224.3,823.9L1224.4,827L1224.3,830L1224.2,833L1223.9,835.9L1223.6,838.7L1223.2,841.4L1222.6,844.1L1222,846.7L1221.3,849.2L1220.5,851.6L1219.6,853.9L1218.6,856.2L1217.5,858.3L1216.4,860.4L1215.1,862.3L1213.8,864.1L1212.4,865.9L1210.9,867.5L1209.3,869L1207.6,870.4L1205.9,871.7L1204.1,872.9" stroke="#363636" stroke-width="2.6" fill="none"/>
<path d="M1206.3,871.7L1204.4,872.7L1202.6,873.6L1200.6,874.5L1198.6,875.2L1196.5,875.8L1194.4,876.2L1192.2,876.6L1190,876.8L1187.7,877L1185.4,877L1183,876.9L1180.6,876.7L1178.1,876.3L1175.7,875.9L1173.2,875.3L1170.6,874.7L1168,873.9L1165.5,873L1162.8,871.9L1160.2,870.8L1157.6,869.6L1154.9,868.3L1152.3,866.8L1149.6,865.3L1146.9,863.6L1144.3,861.9L1141.6,860L1138.9,858.1L1136.3,856L1133.7,853.9L1131.1,851.7L1128.5,849.3L1125.9,847L1123.3,844.5L1120.8,841.9L1118.4,839.3L1115.9,836.6L1113.5,833.8L1111.1,831L1108.8,828.1L1106.5,825.1L1104.3,822.1L1102.1,819.1L1100,815.9L1097.9,812.8L1095.9,809.6L1093.9,806.3L1092,803.1L1090.2,799.8L1088.4,796.4L1086.7,793.1L1085.1,789.7L1083.6,786.3L1082.1,782.9L1080.7,779.5L1079.4,776.1L1078.1,772.7L1077,769.3L1075.9,765.9L1074.9,762.5L1074,759.2L1073.2,755.8L1072.5,752.5L1071.8,749.2L1071.3,746L1070.8,742.7L1070.4,739.5L1070.1,736.4L1069.9,733.3L1069.8,730.3L1069.8,727.3L1069.9,724.3L1070,721.5L1070.3,718.7L1070.6,715.9L1071.1,713.3L1071.6,710.7L1072.2,708.1L1072.9,705.7L1073.7,703.3L1074.6,701.1L1075.5,698.9L1076.6,696.8L1077.7,694.8L1078.9,692.9L1080.2,691.1L1081.6,689.4L1083,687.8L1084.5,686.3L1086.1,684.9L1087.8,683.6L1089.5,682.4L1091.3,681.3L1093.2,680.3L1095.1,679.5L1097.1,678.7L1099.2,678.1L1101.3,677.6L1103.4,677.2L1105.7,676.9" stroke="#111" stroke-width="6" fill="none"/>
<path d="M1166.5,706C1166.8,707.7 1167,711.3 1168,716C1169,720.7 1169.8,727.2 1172.5,734.2C1175.2,741.2 1179.2,750.6 1184,758C1188.8,765.4 1194.9,772.1 1201,778.3C1207.1,784.5 1217.3,792.4 1220.6,795.2" stroke="#363636" stroke-width="2.6" fill="none"/>
<path d="M1177,717C1177.3,718.2 1177.3,720 1179,724C1180.7,728 1183.7,734.8 1187.4,741C1191.1,747.2 1196.1,754 1201,761.3C1205.9,768.6 1213.3,779.7 1216.6,785C1219.9,790.3 1219.9,791.7 1220.6,793" stroke="#363636" stroke-width="2.6" fill="none"/>
<path d="M1025.5,694.8C1024.3,696.4 1019.7,700.3 1018.3,704.3C1016.9,708.3 1016.5,714.4 1017.1,718.6C1017.7,722.8 1019.1,725.5 1021.9,729.3C1024.7,733.1 1029.2,738 1033.8,741.2C1038.4,744.4 1045.3,745.7 1049.3,748.3C1053.3,750.9 1055.6,752.7 1057.6,756.7C1059.6,760.7 1060.5,768.6 1061.2,772.1C1061.9,775.6 1061.9,777 1062,778" stroke="#363636" stroke-width="2.6" fill="none"/>
<path d="M1025.5,694.8L1136.2,631" stroke="#363636" stroke-width="2.6" fill="none"/>
<path d="M1136.2,631C1137,630.8 1139,629.1 1141,629.6C1143,630.1 1146.9,633.3 1148.1,634" stroke="#363636" stroke-width="2.6" fill="none"/>
<path d="M1038.6,698.5L1148.1,634L1190,611.5" stroke="#363636" stroke-width="2.6" fill="none"/>
<path d="M1039.8,698.5C1041.4,699.5 1046.5,703 1049.3,704.3C1052.1,705.6 1054.4,706.7 1056.4,706.1C1058.4,705.5 1059.6,704.4 1061.2,700.7C1062.8,697 1065.2,686.8 1066,684" stroke="#363636" stroke-width="2.6" fill="none"/>
<ellipse cx="1038.6" cy="719.5" rx="13" ry="9.5" transform="rotate(60 1038.6 719.5)" stroke="#363636" stroke-width="2.6" fill="none"/>
<line x1="1033" y1="722" x2="1040" y2="719" stroke="#363636" stroke-width="1.8"/>
<path d="M1185,614.5C1188.3,612.7 1199.5,605.9 1205,603.5C1210.5,601.1 1212.2,599.7 1218,600C1223.8,600.3 1232.2,602 1240,605.5C1247.8,609 1256.7,615.1 1265,621.3C1273.3,627.5 1281.7,634.2 1290,642.5C1298.3,650.8 1308.8,662.8 1315,671.3C1321.2,679.8 1323.8,685.9 1327.5,693.8C1331.2,701.7 1335,711.1 1337.5,718.8C1340,726.5 1341.7,736.5 1342.5,740" stroke="#363636" stroke-width="2.6" fill="none"/>
<path d="M1342.5,740L1232.6,800.5" stroke="#363636" stroke-width="2.6" fill="none"/>
<path d="M1342.5,740L1348.8,749L1240.5,811.8" stroke="#363636" stroke-width="2.6" fill="none"/>
<path d="M1348.8,749L1362.5,757.5L1254.1,822" stroke="#363636" stroke-width="2.6" fill="none"/>
<path d="M1362.5,757.5C1364.6,759.6 1371.8,766.2 1375.1,770C1378.3,773.8 1380.5,776.4 1382,780C1383.5,783.6 1383.8,789.6 1384.2,791.5" stroke="#363636" stroke-width="2.6" fill="none"/>
<path d="M1254.1,822C1256.5,824.6 1265.6,831.5 1268.8,837.9C1272,844.3 1272.9,856 1273.3,860.5C1273.7,865 1272.5,863.5 1271,865C1269.5,866.5 1266.5,868.8 1264.3,869.5C1262,870.2 1260,870.2 1257.5,869.5C1255,868.8 1252.6,866.7 1249.6,865C1246.6,863.3 1242,860.4 1239.4,859.3C1236.8,858.2 1235.3,857.6 1233.8,858.2C1232.3,858.8 1231.7,860.1 1230.4,862.7C1229.1,865.3 1227.3,870.6 1225.8,874C1224.3,877.4 1222,881.6 1221.3,883.1" stroke="#363636" stroke-width="2.6" fill="none"/>
<ellipse cx="1252.4" cy="843.6" rx="15" ry="10" transform="rotate(60 1252.4 843.6)" stroke="#363636" stroke-width="2.6" fill="none"/>
<path d="M1273.3,862.7L1359.3,814.1" stroke="#363636" stroke-width="2.6" fill="none"/>
<path d="M1222.4,883L1251.8,867.3" stroke="#363636" stroke-width="2.6" fill="none"/>
<path d="M1359.3,806.2L1384.2,791.5" stroke="#363636" stroke-width="2.6" fill="none"/>
<path d="M1359.3,806.2L1359.3,927.2" stroke="#363636" stroke-width="2.6" fill="none"/>
<path d="M1384.2,791.5L1384.7,911.4" stroke="#363636" stroke-width="2.9" fill="none"/>
<path d="M1380.6,794L1380.6,914" stroke="#363636" stroke-width="2.1" fill="none"/>
<path d="M1384.7,911.4C1384.1,912.3 1385,914.4 1381,917C1377,919.6 1363.8,925.5 1360.4,927.2" stroke="#363636" stroke-width="2.6" fill="none"/>
<path d="M1360.4,921.5L1379.6,911.4" stroke="#363636" stroke-width="2.1" fill="none"/>
<path d="M1243.9,874L1343,930.2" stroke="#363636" stroke-width="2.6" fill="none"/>
<path d="M1343,930.2C1343.8,930.7 1346.3,932.7 1348,933.2C1349.7,933.7 1350.9,934.3 1353,933.4C1355.1,932.5 1359.2,928.6 1360.4,927.6" stroke="#363636" stroke-width="2.6" fill="none"/>
<ellipse cx="1341.5" cy="907.4" rx="13.5" ry="9.5" transform="rotate(60 1341.5 907.4)" stroke="#363636" stroke-width="2.6" fill="none"/>
<line x1="1337" y1="910" x2="1343" y2="906" stroke="#363636" stroke-width="1.7"/>
<path d="M763,777.2L900,698.3L900,698.3L900.8,698L901.5,697.8L902.3,697.7L903.2,697.7L904.1,697.8L905,698.1L905.9,698.5L906.8,699L907.7,699.6L908.6,700.3L909.5,701.1L910.3,701.9L911.1,702.9L911.8,703.9L912.5,705L913,706.1L913.6,707.2L914,708.4L914.3,709.5L914.6,710.7L914.7,711.8L914.8,712.9L914.8,713.9L914.6,714.9L914.4,715.8L914.1,716.7L913.7,717.4L913.2,718.1L912.6,718.6L912,719.1L912,719.1L775,797.9Z" stroke="#363636" stroke-width="2.6" fill="#fff"/>
<path d="M770.5,815.5L769.4,816L768.3,816.3L767.2,816.6L766,816.7L764.7,816.6L763.4,816.4L762,816.1L760.7,815.6L759.3,815L757.9,814.3L756.5,813.4L755.1,812.5L753.8,811.4L752.4,810.2L751.1,808.9L749.9,807.5L748.7,806L747.5,804.4L746.4,802.8L745.4,801.2L744.5,799.4L743.6,797.7L742.9,795.9L742.2,794.1L741.6,792.4L741.1,790.6L740.8,788.8L740.5,787.1L740.3,785.4L740.3,783.8L740.4,782.2L740.5,780.7L740.8,779.3L741.2,778L741.7,776.7L742.3,775.6L743,774.6L743.7,773.7L744.6,773L745.5,772.3L748.8,770.5L749.8,770L750.9,769.6L752,769.4L753.3,769.3L754.5,769.3L755.8,769.5L757.2,769.9L758.5,770.3L759.9,770.9L761.3,771.7L762.7,772.5L764.1,773.5L765.4,774.6L766.8,775.8L768.1,777.1L769.3,778.5L770.5,780L771.7,781.5L772.8,783.1L773.8,784.8L774.7,786.5L775.6,788.3L776.4,790L777,791.8L777.6,793.6L778.1,795.4L778.4,797.1L778.7,798.9L778.9,800.5L778.9,802.2L778.9,803.7L778.7,805.2L778.4,806.6L778,808L777.5,809.2L776.9,810.3L776.3,811.3L775.5,812.2L774.6,813L773.7,813.6Z" stroke="#363636" stroke-width="0" fill="#fff" stroke-opacity="0"/>
<path d="M749.9,769.9L751,769.6L752.2,769.4L753.4,769.3L754.7,769.4L756,769.6L757.3,769.9L758.7,770.4L760.1,771L761.5,771.7L762.8,772.6L764.2,773.6L765.6,774.7L766.9,775.9L768.2,777.2L769.5,778.6L770.7,780.1L771.8,781.7L772.9,783.3L773.9,785L774.8,786.7L775.7,788.4L776.4,790.2L777.1,792L777.7,793.8L778.1,795.6L778.5,797.3L778.7,799L778.9,800.7L778.9,802.3L778.8,803.9L778.7,805.4L778.4,806.8L778,808.1L777.5,809.3L776.9,810.4L776.2,811.4L775.4,812.3L774.5,813.1L773.6,813.7L772.5,814.2" stroke="#363636" stroke-width="4.2" fill="none"/>
<ellipse cx="758" cy="793.9" rx="24.9" ry="14.5" transform="rotate(60 758 793.9)" stroke="#363636" stroke-width="2.9" fill="#fff"/>
<path d="M731.2,790L741.3,784.2L752.4,782.9L763,795.2L763.4,808.3L753.3,814.1L741.9,816.7L730.8,803Z" stroke="#363636" stroke-width="2.6" fill="#fff"/>
<path d="M731.2,790L742.3,788.7L752.9,801L753.3,814.1L741.9,816.7L730.8,803Z" stroke="#363636" stroke-width="2.6" fill="none"/>
<line x1="742.3" y1="788.7" x2="752.4" y2="782.9" stroke="#363636" stroke-width="2.6"/>
<line x1="752.9" y1="801" x2="763" y2="795.2" stroke="#363636" stroke-width="2.6"/>
<path d="M911.9,705.2L933.8,692.4L1009,735.7L1023.3,727.1" stroke="#363636" stroke-width="1.8" fill="none"/>
<path d="M1251.3,947.7L1291.5,924.6L1291.5,924.6L1292.1,924.3L1292.9,924.1L1293.6,924L1294.4,924L1295.3,924.1L1296.1,924.4L1297,924.7L1297.9,925.2L1298.7,925.8L1299.6,926.4L1300.4,927.2L1301.1,928L1301.9,928.9L1302.6,929.9L1303.2,930.9L1303.7,931.9L1304.2,933L1304.6,934.1L1305,935.2L1305.2,936.2L1305.3,937.3L1305.4,938.3L1305.4,939.3L1305.2,940.2L1305,941.1L1304.7,941.9L1304.3,942.6L1303.9,943.2L1303.4,943.7L1302.7,944.2L1302.7,944.2L1262.5,967.3Z" stroke="#363636" stroke-width="2.6" fill="#fff"/>
<path d="M1258.2,983.9L1257.3,984.3L1256.2,984.7L1255.2,984.9L1254,985L1252.8,984.9L1251.6,984.7L1250.3,984.4L1249,984L1247.7,983.4L1246.4,982.7L1245.1,981.9L1243.8,981L1242.5,980L1241.3,978.8L1240,977.6L1238.8,976.3L1237.7,974.9L1236.6,973.4L1235.6,971.9L1234.6,970.4L1233.8,968.7L1232.9,967.1L1232.2,965.4L1231.6,963.7L1231,962L1230.6,960.4L1230.2,958.7L1230,957.1L1229.8,955.5L1229.8,954L1229.9,952.5L1230,951.1L1230.3,949.7L1230.6,948.5L1231.1,947.3L1231.7,946.3L1232.3,945.3L1233,944.5L1233.9,943.7L1234.8,943.1L1237.8,941.4L1238.8,940.9L1239.8,940.6L1240.9,940.4L1242,940.3L1243.2,940.3L1244.5,940.5L1245.7,940.8L1247,941.3L1248.3,941.8L1249.6,942.5L1250.9,943.3L1252.2,944.2L1253.5,945.3L1254.8,946.4L1256,947.6L1257.2,948.9L1258.3,950.3L1259.4,951.8L1260.4,953.3L1261.4,954.9L1262.3,956.5L1263.1,958.2L1263.8,959.8L1264.4,961.5L1265,963.2L1265.4,964.9L1265.8,966.5L1266,968.2L1266.2,969.8L1266.2,971.3L1266.2,972.8L1266,974.2L1265.8,975.5L1265.4,976.8L1264.9,977.9L1264.4,979L1263.7,979.9L1263,980.8L1262.2,981.5L1261.3,982.1Z" stroke="#363636" stroke-width="0" fill="#fff" stroke-opacity="0"/>
<path d="M1238.9,940.9L1239.9,940.6L1241,940.3L1242.2,940.3L1243.4,940.3L1244.6,940.5L1245.9,940.9L1247.1,941.3L1248.4,941.9L1249.8,942.6L1251.1,943.4L1252.4,944.4L1253.7,945.4L1254.9,946.5L1256.1,947.8L1257.3,949.1L1258.5,950.5L1259.5,952L1260.5,953.5L1261.5,955.1L1262.4,956.7L1263.2,958.4L1263.9,960L1264.5,961.7L1265,963.4L1265.5,965.1L1265.8,966.7L1266.1,968.4L1266.2,969.9L1266.2,971.5L1266.2,972.9L1266,974.3L1265.7,975.7L1265.3,976.9L1264.9,978.1L1264.3,979.1L1263.7,980L1262.9,980.9L1262.1,981.6L1261.2,982.2L1260.2,982.6" stroke="#363636" stroke-width="4.2" fill="none"/>
<ellipse cx="1246.5" cy="963.5" rx="23.5" ry="13.7" transform="rotate(60 1246.5 963.5)" stroke="#363636" stroke-width="2.9" fill="#fff"/>
<path d="M1221.2,959.8L1230.7,954.3L1241.2,953.1L1251.2,964.7L1251.6,977.1L1242.1,982.6L1231.3,985L1220.8,972.1Z" stroke="#363636" stroke-width="2.6" fill="#fff"/>
<path d="M1221.2,959.8L1231.7,958.6L1241.7,970.2L1242.1,982.6L1231.3,985L1220.8,972.1Z" stroke="#363636" stroke-width="2.6" fill="none"/>
<line x1="1231.7" y1="958.6" x2="1241.2" y2="953.1" stroke="#363636" stroke-width="2.6"/>
<line x1="1241.7" y1="970.2" x2="1251.2" y2="964.7" stroke="#363636" stroke-width="2.6"/>
<line x1="1302.7" y1="930.6" x2="1338" y2="910.2" stroke="#363636" stroke-width="1.8"/>
<line x1="1068.6" y1="825.6" x2="1086" y2="815.6" stroke="#363636" stroke-width="1.8"/>
<line x1="1101.4" y1="807.1" x2="1148.6" y2="780" stroke="#363636" stroke-width="1.8"/>
<path d="M999.4,940.6L994.8,937.4L990.2,933.9L985.6,930.1L981.2,926.1L976.8,921.9L972.5,917.5L968.3,912.8L964.3,908L960.4,903L956.7,897.8L953.1,892.5L949.7,887.1L946.6,881.6L943.6,875.9L940.8,870.3L938.3,864.5L936,858.8L933.9,853L932.1,847.3L930.6,841.6L929.3,835.9L928.2,830.3L927.4,824.8L926.9,819.3L926.7,814.1L926.7,808.9L927.1,803.9L927.6,799.1L928.5,794.5L929.6,790L931,785.8L932.6,781.9L934.5,778.2L936.6,774.7L939,771.5L941.6,768.6L944.4,766L947.4,763.7L950.6,761.7L954.1,760L957.7,758.6L961.4,757.6L965.4,756.9L969.4,756.5L973.6,756.5L977.9,756.8L982.4,757.4L986.8,758.3L991.4,759.6L996,761.2L1000.7,763.1L1005.4,765.3L1010.1,767.9L1014.8,770.7L1019.4,773.8L1024.1,777.2L1028.6,780.8L1033.2,784.7L1037.6,788.8L1041.9,793.2L1046.1,797.8L1050.2,802.5L1054.1,807.5L1057.9,812.6L1061.5,817.9L1065,823.2L1068.2,828.7L1071.3,834.3L1074.1,840L1076.8,845.7L1079.1,851.4L1081.3,857.2L1083.2,862.9L1084.9,868.7L1086.3,874.4L1087.4,880L1088.3,885.6L1088.9,891L1089.2,896.3L1089.3,901.6L1089.1,906.6L1088.6,911.5L1087.9,916.2L1086.9,920.7L1085.6,925L1084.1,929L1082.3,932.9L1080.2,936.4L1078,939.7L1075.5,942.7L1072.7,945.4L1069.8,947.9L1066.6,950L1063.3,951.8L1059.7,953.3L1056,954.4L1052.2,955.3L1048.1,955.8L1044,956L1039.7,955.8L1038,945.4L1041.7,945.6L1045.3,945.6L1048.7,945.3L1052,944.6L1055.2,943.7L1058.2,942.5L1061,941L1063.7,939.2L1066.2,937.1L1068.5,934.8L1070.5,932.2L1072.4,929.3L1074.1,926.2L1075.5,922.9L1076.7,919.3L1077.7,915.6L1078.4,911.6L1078.9,907.4L1079.2,903.1L1079.2,898.6L1079,894L1078.6,889.3L1077.9,884.4L1077,879.5L1075.9,874.5L1074.5,869.4L1072.9,864.2L1071.1,859.1L1069.1,853.9L1066.9,848.8L1064.5,843.6L1061.9,838.5L1059.1,833.5L1056.2,828.5L1053,823.7L1049.8,818.9L1046.4,814.3L1042.9,809.8L1039.2,805.5L1035.5,801.3L1031.6,797.3L1027.7,793.5L1023.7,789.9L1019.7,786.6L1015.6,783.4L1011.5,780.6L1007.4,777.9L1003.3,775.6L999.2,773.5L995.1,771.6L991.1,770.1L987.1,768.8L983.2,767.9L979.4,767.2L975.7,766.8L972,766.8L968.6,767L965.2,767.5L962,768.3L958.9,769.4L956,770.8L953.3,772.5L950.7,774.5L948.4,776.7L946.2,779.2L944.3,782L942.5,785L941,788.2L939.7,791.7L938.7,795.4L937.8,799.3L937.2,803.4L936.9,807.6L936.7,812L936.9,816.6L937.2,821.3L937.8,826.1L938.6,831L939.6,836L940.9,841.1L942.4,846.2L944.1,851.4L946.1,856.5L948.2,861.7L950.6,866.8L953.1,871.9L955.8,877L958.7,882L961.7,886.9L965,891.7L968.3,896.4L971.8,900.9L975.4,905.3L979.1,909.6L982.9,913.6L986.8,917.5L990.8,921.1L994.8,924.6L998.9,927.8L1003,930.8Z" stroke="#363636" stroke-width="0" fill="#fff" stroke-opacity="0"/>
<path d="M999.4,940.6L997.8,939.5L996.1,938.3L994.5,937.2L992.9,935.9L991.2,934.7L989.6,933.4L988,932.1L986.4,930.8L984.8,929.4L983.2,928L981.6,926.6L980.1,925.1L978.5,923.7L977,922.1L975.5,920.6L973.9,919L972.4,917.4L971,915.8L969.5,914.2L968,912.5L966.6,910.8L965.2,909.1L963.8,907.3L962.4,905.6L961,903.8L959.7,902L958.4,900.2L957.1,898.4L955.8,896.5L954.5,894.6L953.3,892.7L952.1,890.8L950.9,888.9L949.7,887L948.5,885L947.4,883.1L946.3,881.1L945.3,879.1L944.2,877.2L943.2,875.2L942.2,873.2L941.2,871.1L940.3,869.1L939.4,867.1L938.5,865.1L937.7,863.1L936.9,861L936.1,859L935.3,856.9L934.6,854.9L933.9,852.9L933.2,850.8L932.6,848.8L932,846.8L931.4,844.7L930.9,842.7L930.4,840.7L929.9,838.7L929.4,836.7L929,834.7L928.6,832.7L928.3,830.7L928,828.8L927.7,826.8L927.5,824.9L927.3,823L927.1,821L926.9,819.2L926.8,817.3L926.7,815.4L926.7,813.5L926.7,811.7L926.7,809.9L926.8,808.1L926.9,806.3L927,804.6L927.2,802.8L927.4,801.1L927.6,799.5L927.8,797.8L928.1,796.1L928.5,794.5L928.8,792.9L929.2,791.4L929.6,789.9L930.1,788.3L930.6,786.9L931.1,785.4L931.7,784L932.3,782.6L932.9,781.2L933.5,779.9L934.2,778.6L934.9,777.4L935.7,776.1L936.5,774.9L937.3,773.8L938.1,772.6L938.9,771.5L939.8,770.5L947,778.3L946.2,779.2L945.5,780.2L944.8,781.2L944.2,782.2L943.5,783.2L942.9,784.3L942.3,785.4L941.8,786.5L941.3,787.7L940.8,788.9L940.3,790.1L939.9,791.3L939.5,792.6L939.1,793.9L938.7,795.2L938.4,796.6L938.1,797.9L937.8,799.3L937.6,800.8L937.4,802.2L937.2,803.7L937,805.2L936.9,806.7L936.8,808.2L936.8,809.8L936.7,811.3L936.7,812.9L936.8,814.5L936.8,816.1L936.9,817.8L937,819.4L937.2,821.1L937.4,822.8L937.6,824.5L937.8,826.2L938.1,828L938.4,829.7L938.7,831.4L939,833.2L939.4,835L939.8,836.8L940.3,838.5L940.7,840.3L941.2,842.1L941.7,843.9L942.3,845.8L942.9,847.6L943.5,849.4L944.1,851.2L944.8,853L945.4,854.9L946.2,856.7L946.9,858.5L947.6,860.3L948.4,862.2L949.2,864L950.1,865.8L950.9,867.6L951.8,869.4L952.7,871.2L953.7,873L954.6,874.8L955.6,876.6L956.6,878.4L957.6,880.1L958.6,881.9L959.7,883.6L960.8,885.4L961.9,887.1L963,888.8L964.1,890.5L965.3,892.2L966.5,893.8L967.7,895.5L968.9,897.1L970.1,898.7L971.3,900.3L972.6,901.9L973.9,903.5L975.1,905L976.4,906.5L977.7,908L979.1,909.5L980.4,911L981.8,912.4L983.1,913.8L984.5,915.2L985.9,916.6L987.2,917.9L988.6,919.2L990,920.5L991.5,921.7L992.9,923L994.3,924.2L995.7,925.3L997.2,926.5L998.6,927.6L1000.1,928.7L1001.5,929.7L1003,930.8Z" stroke="#363636" stroke-width="0" fill="#8a8a8a" stroke-opacity="0"/>
<path d="M1085.8,872.2L1086.1,873.7L1086.4,875.1L1086.7,876.5L1087,878L1087.3,879.4L1087.6,880.8L1087.8,882.2L1088,883.6L1088.2,885L1088.4,886.4L1088.6,887.8L1088.7,889.2L1088.9,890.6L1089,892L1089.1,893.3L1089.2,894.7L1089.2,896L1089.3,897.3L1089.3,898.7L1089.3,900L1089.3,901.3L1089.3,902.6L1089.2,903.9L1089.2,905.2L1089.1,906.4L1089,907.7L1088.9,908.9L1088.8,910.2L1088.6,911.4L1088.5,912.6L1088.3,913.8L1088.1,915L1087.9,916.2L1087.6,917.3L1087.4,918.5L1087.1,919.6L1086.9,920.7L1086.6,921.9L1086.2,923L1085.9,924L1085.6,925.1L1085.2,926.1L1084.8,927.2L1084.4,928.2L1084,929.2L1083.6,930.2L1083.1,931.2L1082.6,932.1L1082.2,933.1L1081.7,934L1081.2,934.9L1080.6,935.8L1080.1,936.7L1079.5,937.5L1078.9,938.4L1078.4,939.2L1077.8,940L1077.1,940.8L1076.5,941.5L1075.8,942.3L1075.2,943L1074.5,943.7L1073.8,944.4L1073.1,945.1L1072.4,945.7L1071.6,946.4L1070.9,947L1070.1,947.6L1069.4,948.2L1068.6,948.7L1067.8,949.3L1067,949.8L1066.1,950.3L1065.3,950.7L1064.4,951.2L1063.6,951.6L1062.7,952.1L1061.8,952.4L1060.9,952.8L1060,953.2L1059.1,953.5L1058.1,953.8L1057.2,954.1L1056.2,954.4L1055.3,954.6L1054.3,954.9L1053.3,955.1L1052.3,955.2L1051.3,955.4L1050.3,955.6L1049.3,955.7L1048.3,955.8L1047.2,955.8L1046.2,955.9L1045.1,955.9L1044,956L1043,955.9L1041.9,955.9L1040.8,955.9L1039.7,955.8L1038,945.4L1039,945.5L1039.9,945.5L1040.9,945.6L1041.8,945.6L1042.7,945.7L1043.6,945.7L1044.5,945.6L1045.4,945.6L1046.3,945.5L1047.2,945.5L1048,945.4L1048.9,945.2L1049.7,945.1L1050.6,944.9L1051.4,944.8L1052.2,944.6L1053.1,944.4L1053.9,944.1L1054.7,943.9L1055.4,943.6L1056.2,943.3L1057,943L1057.7,942.7L1058.5,942.3L1059.2,942L1059.9,941.6L1060.6,941.2L1061.3,940.8L1062,940.4L1062.7,939.9L1063.4,939.4L1064,938.9L1064.7,938.4L1065.3,937.9L1065.9,937.4L1066.5,936.8L1067.1,936.2L1067.7,935.6L1068.2,935L1068.8,934.4L1069.3,933.7L1069.8,933.1L1070.4,932.4L1070.9,931.7L1071.3,931L1071.8,930.3L1072.3,929.5L1072.7,928.8L1073.1,928L1073.6,927.2L1074,926.4L1074.4,925.6L1074.7,924.7L1075.1,923.9L1075.4,923L1075.8,922.1L1076.1,921.2L1076.4,920.3L1076.7,919.4L1076.9,918.5L1077.2,917.5L1077.4,916.6L1077.7,915.6L1077.9,914.6L1078.1,913.6L1078.3,912.6L1078.4,911.6L1078.6,910.5L1078.7,909.5L1078.8,908.4L1078.9,907.4L1079,906.3L1079.1,905.2L1079.2,904.1L1079.2,903L1079.2,901.9L1079.3,900.7L1079.3,899.6L1079.2,898.4L1079.2,897.3L1079.2,896.1L1079.1,894.9L1079,893.7L1078.9,892.5L1078.8,891.3L1078.7,890.1L1078.6,888.9L1078.4,887.7L1078.2,886.5L1078.1,885.2L1077.9,884L1077.6,882.7L1077.4,881.5L1077.2,880.2L1076.9,878.9L1076.6,877.7L1076.4,876.4L1076.1,875.1L1075.7,873.8L1075.4,872.5Z" stroke="#363636" stroke-width="0" fill="#b0b0b0" stroke-opacity="0"/>
<path d="M1002.1,933.2L1000.1,931.9L998.2,930.4L996.2,929L994.3,927.4L992.4,925.9L990.5,924.2L988.6,922.6L986.7,920.8L984.8,919.1L982.9,917.3L981.1,915.4L979.3,913.5L977.5,911.6L975.7,909.6L974,907.6L972.2,905.5L970.5,903.5L968.8,901.3L967.2,899.2L965.6,897L964,894.8L962.4,892.6L960.9,890.3L959.4,888L957.9,885.7L956.5,883.4L955.1,881L953.8,878.7L952.5,876.3L951.2,873.9L950,871.5L948.8,869L947.6,866.6L946.5,864.2L945.5,861.7L944.4,859.3L943.5,856.8L942.5,854.4L941.7,851.9L940.8,849.5L940,847.1L939.3,844.6L938.6,842.2L938,839.8L937.4,837.4L936.8,835L936.3,832.6L935.9,830.2L935.5,827.9L935.2,825.6L934.9,823.3L934.7,821L934.5,818.8L934.3,816.5L934.3,814.3L934.2,812.2L934.3,810L934.3,807.9L934.5,805.9L934.7,803.8L934.9,801.8L935.2,799.9L935.5,798L935.9,796.1L936.3,794.3L936.8,792.5L937.4,790.7L938,789L938.6,787.4L939.3,785.8L940,784.2L940.8,782.7L941.7,781.3L942.5,779.9L943.5,778.5L944.4,777.3L945.5,776L946.5,774.8L947.6,773.7L948.8,772.7" stroke="#363636" stroke-width="1.7" fill="none"/>
<path d="M1001.2,935.7L999.2,934.3L997.2,932.8L995.2,931.3L993.2,929.8L991.2,928.2L989.2,926.5L987.2,924.8L985.3,923L983.4,921.2L981.5,919.4L979.6,917.5L977.7,915.5L975.8,913.6L974,911.5L972.2,909.5L970.4,907.4L968.7,905.2L966.9,903.1L965.2,900.9L963.6,898.6L961.9,896.4L960.3,894.1L958.8,891.8L957.2,889.4L955.7,887L954.3,884.6L952.9,882.2L951.5,879.8L950.1,877.4L948.8,874.9L947.6,872.4L946.4,869.9L945.2,867.4L944.1,864.9L943,862.4L941.9,859.9L940.9,857.4L940,854.9L939.1,852.4L938.3,849.8L937.5,847.3L936.7,844.8L936,842.3L935.4,839.9L934.8,837.4L934.2,834.9L933.7,832.5L933.3,830L932.9,827.6L932.6,825.2L932.3,822.9L932.1,820.5L931.9,818.2L931.8,815.9L931.7,813.7L931.7,811.4L931.8,809.2L931.9,807.1L932,804.9L932.2,802.8L932.5,800.8L932.8,798.7L933.2,796.8L933.6,794.8L934.1,792.9L934.6,791.1L935.2,789.3L935.8,787.5L936.5,785.8L937.2,784.2L938,782.6L938.8,781L939.7,779.5L940.6,778.1L941.6,776.7L942.6,775.3L943.7,774L944.8,772.8L946,771.7L947.2,770.6" stroke="#363636" stroke-width="1.7" fill="none"/>
<path d="M1000.3,938.1L998.2,936.7L996.2,935.2L994.1,933.7L992,932.1L990,930.5L987.9,928.8L985.9,927L983.9,925.2L981.9,923.4L980,921.5L978,919.6L976.1,917.6L974.2,915.5L972.3,913.5L970.4,911.4L968.6,909.2L966.8,907L965,904.8L963.3,902.5L961.6,900.3L959.9,897.9L958.3,895.6L956.7,893.2L955.1,890.8L953.5,888.4L952.1,885.9L950.6,883.5L949.2,881L947.8,878.5L946.5,875.9L945.2,873.4L943.9,870.8L942.7,868.3L941.6,865.7L940.5,863.1L939.4,860.5L938.4,858L937.5,855.4L936.6,852.8L935.7,850.2L934.9,847.6L934.1,845.1L933.4,842.5L932.8,839.9L932.2,837.4L931.6,834.9L931.1,832.3L930.7,829.8L930.3,827.4L930,824.9L929.7,822.5L929.5,820.1L929.4,817.7L929.3,815.3L929.2,813L929.2,810.7L929.3,808.4L929.4,806.2L929.6,804L929.8,801.8L930.1,799.7L930.4,797.6L930.8,795.6L931.3,793.6L931.8,791.6L932.4,789.7L933,787.8L933.6,786L934.4,784.3L935.1,782.5L936,780.9L936.8,779.3L937.7,777.7L938.7,776.2L939.7,774.8L940.8,773.4L941.9,772.1L943.1,770.8L944.3,769.6L945.6,768.5" stroke="#363636" stroke-width="1.7" fill="none"/>
<path d="M1078.8,872.4L1079.3,874.6L1079.8,876.7L1080.3,878.8L1080.7,880.9L1081.1,882.9L1081.4,885L1081.7,887L1081.9,889.1L1082.1,891.1L1082.3,893.1L1082.4,895.1L1082.5,897L1082.6,898.9L1082.6,900.8L1082.5,902.7L1082.5,904.6L1082.3,906.4L1082.2,908.2L1082,910L1081.8,911.7L1081.5,913.5L1081.2,915.1L1080.8,916.8L1080.4,918.4L1080,920L1079.5,921.6L1079,923.1L1078.5,924.6L1077.9,926L1077.2,927.4L1076.6,928.8L1075.9,930.1L1075.1,931.4L1074.4,932.6L1073.6,933.8L1072.7,935L1071.8,936.1L1070.9,937.2L1070,938.2L1069,939.2L1068,940.2L1066.9,941.1L1065.9,941.9L1064.8,942.7L1063.6,943.5L1062.4,944.2L1061.2,944.9L1060,945.5L1058.8,946.1L1057.5,946.6L1056.2,947L1054.8,947.5L1053.5,947.8L1052.1,948.2L1050.7,948.4L1049.2,948.7L1047.8,948.8L1046.3,949L1044.8,949L1043.3,949" stroke="#363636" stroke-width="1.6" fill="none"/>
<path d="M1082.2,872.3L1082.8,874.5L1083.3,876.7L1083.7,878.9L1084.1,881.1L1084.5,883.2L1084.8,885.4L1085.1,887.5L1085.3,889.6L1085.5,891.7L1085.7,893.8L1085.8,895.8L1085.9,897.9L1085.9,899.9L1085.9,901.9L1085.8,903.8L1085.7,905.7L1085.6,907.7L1085.4,909.5L1085.2,911.4L1084.9,913.2L1084.6,915L1084.2,916.7L1083.9,918.5L1083.4,920.2L1083,921.8L1082.4,923.4L1081.9,925L1081.3,926.6L1080.7,928.1L1080,929.5L1079.3,931L1078.5,932.4L1077.7,933.7L1076.9,935L1076.1,936.3L1075.2,937.5L1074.2,938.7L1073.2,939.8L1072.2,940.9L1071.2,941.9L1070.1,942.9L1069,943.9L1067.9,944.8L1066.7,945.6L1065.5,946.4L1064.3,947.2L1063,947.9L1061.7,948.6L1060.4,949.2L1059,949.7L1057.6,950.2L1056.2,950.7L1054.8,951.1L1053.3,951.4L1051.8,951.7L1050.3,952L1048.8,952.2L1047.2,952.3L1045.6,952.4L1044.1,952.4" stroke="#363636" stroke-width="1.6" fill="none"/>
<path d="M999.4,940.6L996.4,938.5L993.4,936.3L990.4,934L987.4,931.6L984.5,929.1L981.6,926.5L978.7,923.8L975.9,921L973.1,918.1L970.3,915.1L967.6,912L965,908.9L962.4,905.7L959.9,902.4L957.5,899L955.1,895.6L952.9,892.1L950.7,888.6L948.5,885L946.5,881.4L944.5,877.8L942.7,874.1L940.9,870.4L939.2,866.6L937.6,862.9L936.1,859.2L934.8,855.4L933.5,851.6L932.3,847.9L931.2,844.2L930.3,840.4L929.4,836.8L928.7,833.1L928.1,829.4L927.6,825.9L927.2,822.3L926.9,818.8L926.7,815.3L926.7,811.9L926.8,808.6L926.9,805.3L927.2,802.2L927.6,799L928.2,796L928.8,793.1L929.5,790.2L930.4,787.4L931.4,784.8L932.5,782.2L933.6,779.7L934.9,777.4L936.3,775.1L937.8,773L939.4,771L941.1,769.1L942.9,767.3L944.8,765.7L946.7,764.2L948.8,762.8L950.9,761.5L953.1,760.4L955.4,759.4L957.8,758.6L960.3,757.9L962.8,757.3L965.3,756.9L968,756.6L970.7,756.5L973.4,756.5L976.2,756.6L979,756.9L981.9,757.3L984.8,757.9L987.8,758.6L990.8,759.4L993.8,760.4L996.8,761.5L999.8,762.7L1002.9,764.1L1005.9,765.6L1009,767.2L1012,769L1015.1,770.9L1018.1,772.9L1021.2,775L1024.2,777.3L1027.2,779.6L1030.1,782.1L1033.1,784.6L1035.9,787.3L1038.8,790.1L1041.6,792.9L1044.4,795.9L1047.1,798.9L1049.7,802L1052.3,805.2L1054.9,808.4L1057.3,811.8L1059.7,815.2L1062.1,818.6L1064.3,822.1L1066.5,825.7L1068.6,829.3L1070.6,832.9L1072.5,836.6L1074.3,840.3L1076,844L1077.6,847.7L1079.2,851.5L1080.6,855.2L1081.9,859L1083.1,862.7L1084.3,866.5L1085.3,870.2L1086.2,873.9L1087,877.6L1087.6,881.2L1088.2,884.8L1088.6,888.4L1089,891.9L1089.2,895.4L1089.3,898.8L1089.3,902.2L1089.2,905.5L1088.9,908.7L1088.6,911.9L1088.1,915L1087.5,917.9L1086.8,920.9L1086,923.7L1085.1,926.4L1084.1,929L1082.9,931.5L1081.7,933.9L1080.4,936.2L1078.9,938.4L1077.4,940.5L1075.7,942.4L1074,944.2L1072.1,945.9L1070.2,947.5L1068.2,949L1066.1,950.3L1063.9,951.5L1061.7,952.5L1059.3,953.4L1056.9,954.2L1054.4,954.8L1051.9,955.3L1049.3,955.7L1046.6,955.9L1043.9,956L1041.1,955.9L1038.3,955.7L1035.5,955.3L1032.6,954.8L1029.6,954.2L1026.7,953.4L1023.7,952.5L1020.7,951.5" stroke="#363636" stroke-width="2.9" fill="none"/>
<path d="M1087.2,919.3L1086.8,920.8L1086.4,922.3L1086,923.8L1085.5,925.2L1085,926.6L1084.5,928L1083.9,929.4L1083.3,930.7L1082.7,932L1082.1,933.3L1081.4,934.5L1080.7,935.7L1079.9,936.9L1079.2,938L1078.4,939.1L1077.6,940.2L1076.7,941.3L1075.8,942.3L1074.9,943.3L1074,944.2L1073.1,945.1L1072.1,946L1071.1,946.8L1070.1,947.6L1069,948.4L1067.9,949.1L1066.8,949.8L1065.7,950.5L1064.6,951.1L1063.4,951.7L1062.2,952.3L1061,952.8L1059.8,953.3L1058.5,953.7L1057.3,954.1L1056,954.5L1054.7,954.8L1053.3,955.1L1052,955.3L1050.6,955.5L1049.3,955.7L1047.9,955.8L1046.5,955.9L1045,955.9L1043.6,956L1042.1,955.9L1040.7,955.9L1039.2,955.8L1037.7,955.6L1036.2,955.4L1034.7,955.2L1033.2,954.9L1031.6,954.6L1030.1,954.3L1028.5,953.9L1027,953.5L1025.4,953.1L1023.8,952.6L1022.2,952L1020.7,951.5" stroke="#111" stroke-width="4.7" fill="none"/>
<path d="M1005.4,932.5L1002.9,930.7L1000.3,928.9L997.8,926.9L995.2,924.9L992.7,922.8L990.2,920.6L987.7,918.3L985.3,916L982.8,913.5L980.4,911L978.1,908.4L975.8,905.8L973.5,903L971.3,900.3L969.1,897.4L967,894.5L964.9,891.6L962.9,888.6L960.9,885.6L959,882.5L957.2,879.4L955.4,876.3L953.7,873.1L952.1,869.9L950.5,866.7L949,863.5L947.6,860.3L946.3,857.1L945,853.8L943.9,850.6L942.8,847.4L941.8,844.2L940.9,841L940.1,837.8L939.3,834.7L938.7,831.5L938.1,828.5L937.7,825.4L937.3,822.4L937,819.4L936.8,816.5L936.8,813.6L936.8,810.8L936.8,808.1L937,805.4L937.3,802.8L937.7,800.2L938.1,797.7L938.7,795.3L939.3,793L940.1,790.7L940.9,788.6L941.8,786.5L942.8,784.5L943.9,782.6L945,780.9L946.3,779.2L947.6,777.6L949,776.1L950.5,774.7L952,773.4L953.7,772.3L955.4,771.2L957.1,770.2L959,769.4L960.9,768.7L962.8,768.1L964.9,767.6L966.9,767.2L969.1,766.9L971.2,766.8L973.5,766.7L975.7,766.8L978.1,767L980.4,767.4L982.8,767.8L985.2,768.3L987.7,769L990.1,769.8L992.7,770.7L995.2,771.7L997.7,772.8L1000.3,774L1002.8,775.3L1005.4,776.8L1008,778.3L1010.5,779.9L1013.1,781.7L1015.7,783.5L1018.2,785.4L1020.8,787.5L1023.3,789.6L1025.8,791.8L1028.3,794L1030.7,796.4L1033.1,798.9L1035.5,801.4L1037.9,804L1040.2,806.6L1042.5,809.3L1044.7,812.1L1046.9,814.9L1049,817.8L1051.1,820.8L1053.1,823.8L1055.1,826.8L1057,829.9L1058.8,833L1060.6,836.1L1062.3,839.3L1063.9,842.5L1065.5,845.7L1067,848.9L1068.4,852.1L1069.7,855.3L1070.9,858.5L1072.1,861.8L1073.2,865L1074.2,868.2L1075.1,871.4L1075.9,874.6L1076.7,877.7L1077.3,880.8L1077.9,883.9L1078.3,887L1078.7,890L1079,893L1079.2,895.9L1079.2,898.7L1079.2,901.6L1079.2,904.3L1079,907L1078.7,909.6L1078.3,912.2L1077.9,914.7L1077.3,917.1L1076.7,919.4L1075.9,921.6L1075.1,923.8L1074.2,925.9L1073.2,927.9L1072.1,929.7L1071,931.5L1069.7,933.2L1068.4,934.8L1067,936.3L1065.5,937.7L1064,939L1062.3,940.1L1060.6,941.2L1058.9,942.2L1057,943L1055.1,943.7L1053.2,944.3L1051.2,944.8L1049.1,945.2L1047,945.5L1044.8,945.6L1042.6,945.7L1040.3,945.6" stroke="#363636" stroke-width="2.9" fill="none"/>
<path d="M946.6,764.9L948,763.7L949.4,762.6L950.9,761.6L952.4,760.7L954,759.8L955.6,759L957.2,758.3L958.9,757.6L960.7,757L962.4,756.5L964.2,756.1L966.1,755.7L967.9,755.4L969.8,755.2L971.8,755L973.7,755L975.7,755L977.7,755L979.8,755.2L981.8,755.4L983.9,755.7L986,756.1L988.2,756.5L990.3,757L992.5,757.6L994.6,758.3L996.8,759L999,759.8L1001.2,760.7L1003.4,761.6L1005.6,762.7L1007.8,763.7L1010,764.9L1012.3,766.1L1014.5,767.4L1016.7,768.7L1018.9,770.2L1021.1,771.6L1023.3,773.2L1025.5,774.8L1027.6,776.4L1029.8,778.1L1032,779.9L1034.1,781.7L1036.2,783.6L1038.3,785.6L1040.4,787.5L1042.4,789.6L1044.5,791.7L1046.5,793.8L1048.4,796L1050.4,798.2L1052.3,800.5L1054.2,802.8L1056,805.1L1057.9,807.5L1059.7,809.9L1061.4,812.3L1063.1,814.8L1064.8,817.3L1066.4,819.9L1068,822.4L1069.6,825L1071.1,827.6L1072.5,830.2L1073.9,832.9L1075.3,835.5L1076.6,838.2L1077.9,840.9L1079.1,843.6L1080.3,846.3L1081.4,849L1082.5,851.8L1083.5,854.5L1084.4,857.2L1085.3,859.9L1086.2,862.6L1087,865.3L1087.7,868L1088.4,870.7" stroke="#363636" stroke-width="2.1" fill="none"/>
<path d="M977.9,928.6L977.9,945L998.6,956.4L1002.9,953.6L1002.9,937.9Z" stroke="#363636" stroke-width="2.9" fill="#fff"/>
<ellipse cx="991.4" cy="944.3" rx="3.5" ry="2.5" transform="rotate(55 991.4 944.3)" stroke="#363636" stroke-width="2.6" fill="none"/>
<path d="M1017.5,950L1014.3,967.1L1034.3,977.1L1038.6,973.6L1037.6,962.5L1045,961.5" stroke="#363636" stroke-width="3.1" fill="#fff"/>
<ellipse cx="1020.5" cy="961.5" rx="3.3" ry="2.5" transform="rotate(55 1020.5 961.5)" stroke="#363636" stroke-width="2.6" fill="none"/>
<path d="M904.5,1047.8L902,1049.1L899.5,1050.3L896.8,1051.2L894.1,1052L891.2,1052.5L888.3,1052.9L885.3,1053.1L882.3,1053.1L879.2,1053L876,1052.6L872.8,1052L869.6,1051.3L866.3,1050.4L862.9,1049.3L859.6,1048L856.2,1046.5L852.9,1044.9L849.5,1043.1L846.1,1041.1L842.8,1038.9L839.4,1036.6L836.1,1034.2L832.8,1031.5L829.5,1028.8L826.3,1025.9L823.1,1022.8L820,1019.7L816.9,1016.4L813.9,1012.9L810.9,1009.4L808.1,1005.8L805.3,1002.1L802.6,998.2L800,994.3L797.5,990.3L795.1,986.3L792.8,982.2L790.6,978L788.5,973.8L786.5,969.6L784.7,965.3L783,961L781.4,956.7L779.9,952.4L778.6,948.1L777.4,943.8L776.4,939.5L775.5,935.2L774.7,931L774.1,926.9L773.7,922.7L773.3,918.7L773.2,914.7L773.1,910.8L773.2,907L773.5,903.2L773.9,899.6L774.5,896L775.2,892.6L776,889.3L777,886.1L778.1,883.1L779.4,880.1L780.8,877.4L782.3,874.7L784,872.2L785.8,869.9L787.7,867.7L789.7,865.7L791.9,863.9L794.1,862.3L796.5,860.8L827.7,842.8L830.2,841.5L832.7,840.4L835.4,839.4L838.1,838.7L841,838.1L843.9,837.7L846.9,837.5L849.9,837.5L853,837.7L856.2,838L859.4,838.6L862.6,839.3L865.9,840.3L869.3,841.4L872.6,842.7L876,844.1L879.3,845.8L882.7,847.6L886.1,849.6L889.4,851.7L892.8,854L896.1,856.5L899.4,859.1L902.7,861.9L905.9,864.8L909.1,867.8L912.2,871L915.3,874.3L918.3,877.7L921.3,881.2L924.1,884.9L926.9,888.6L929.6,892.4L932.2,896.3L934.7,900.3L937.1,904.3L939.4,908.4L941.6,912.6L943.7,916.8L945.7,921.1L947.5,925.3L949.2,929.6L950.8,933.9L952.3,938.3L953.6,942.6L954.8,946.9L955.8,951.1L956.7,955.4L957.5,959.6L958.1,963.8L958.5,967.9L958.9,971.9L959,975.9L959.1,979.8L959,983.7L958.7,987.4L958.3,991.1L957.7,994.6L957,998L956.2,1001.3L955.2,1004.5L954.1,1007.6L952.8,1010.5L951.4,1013.3L949.9,1015.9L948.2,1018.4L946.4,1020.7L944.5,1022.9L942.5,1024.9L940.3,1026.7L938.1,1028.4L935.7,1029.9Z" stroke="#363636" stroke-width="0" fill="#fff" stroke-opacity="0"/>
<path d="M827.7,842.8L829.5,841.8L831.3,841L833.2,840.2L835.1,839.5L837,839L839,838.5L841.1,838.1L843.2,837.8L845.3,837.6L847.5,837.5L849.7,837.5L851.9,837.6L854.2,837.8L856.4,838.1L858.7,838.5L861.1,839L863.4,839.5L865.8,840.2L868.2,841L870.6,841.9L873,842.8L875.4,843.9L877.8,845L880.3,846.3L882.7,847.6L885.1,849L887.6,850.5L890,852.1L892.4,853.7L894.8,855.5L897.2,857.3L899.6,859.2L901.9,861.2L904.3,863.2L906.6,865.4L908.9,867.6L911.1,869.8L913.4,872.2L915.6,874.5L917.7,877L919.9,879.5L922,882.1L924,884.7L926,887.4L928,890.1L929.9,892.9L931.8,895.7L933.6,898.5L935.4,901.4L937.1,904.3L938.8,907.3L940.4,910.3L942,913.3L943.5,916.3L944.9,919.4L946.3,922.4L947.6,925.5L948.8,928.6L950,931.7L951.1,934.8L952.1,937.9L953.1,941L954,944.1L954.8,947.2L955.6,950.3L956.3,953.4L956.9,956.4L957.4,959.4L957.9,962.4L958.3,965.4L958.6,968.4L958.8,971.3L959,974.2L959.1,977L959.1,979.8L959,982.6L958.9,985.3L958.6,988L958.3,990.6L958,993.2L957.5,995.7L957,998.2L956.4,1000.6L955.7,1002.9L955,1005.1L954.2,1007.3L953.3,1009.5L952.3,1011.5L951.3,1013.5L950.2,1015.4L949,1017.2L947.8,1019L946.5,1020.6L945.1,1022.2L943.7,1023.7L942.2,1025.1L940.7,1026.4L939.1,1027.7L937.4,1028.8L935.7,1029.9" stroke="#363636" stroke-width="2.9" fill="none"/>
<path d="M829.3,842.4L831.1,841.7L832.9,841.1L834.8,840.6L836.7,840.2L838.7,839.9L840.7,839.7L842.7,839.5L844.7,839.5L846.8,839.5L848.9,839.6L851.1,839.8L853.2,840.1L855.4,840.5L857.6,841L859.8,841.5L862.1,842.1L864.3,842.9L866.6,843.7L868.9,844.5L871.1,845.5L873.4,846.6L875.7,847.7L878,848.9L880.3,850.2L882.6,851.6L884.9,853L887.2,854.5L889.5,856.1L891.7,857.8L894,859.5L896.2,861.3L898.5,863.2L900.7,865.1L902.8,867.1L905,869.2L907.2,871.3L909.3,873.5L911.4,875.7L913.4,878L915.4,880.4L917.4,882.8L919.4,885.2L921.3,887.7L923.2,890.3L925.1,892.9L926.9,895.5L928.6,898.1L930.4,900.8L932,903.6L933.7,906.3L935.2,909.1L936.8,911.9L938.2,914.8L939.7,917.6L941,920.5L942.3,923.4L943.6,926.3L944.8,929.2L945.9,932.1L947,935.1L948,938L949,940.9L949.9,943.9L950.7,946.8L951.5,949.7L952.2,952.6L952.9,955.5L953.4,958.4L953.9,961.3L954.4,964.1L954.8,966.9L955.1,969.7L955.3,972.5L955.5,975.2L955.6,977.9L955.6,980.6L955.6,983.2L955.5,985.8L955.3,988.4L955.1,990.9L954.8,993.3L954.4,995.8L954,998.1L953.5,1000.4L952.9,1002.7L952.3,1004.9L951.6,1007L950.8,1009.1L950,1011.1L949.1,1013.1L948.1,1015L947.1,1016.8L946,1018.5L944.9,1020.2L943.7,1021.8L942.4,1023.3L941.1,1024.8L939.7,1026.2L938.3,1027.5L936.9,1028.7" stroke="#363636" stroke-width="2.1" fill="none"/>
<line x1="904.5" y1="1047.8" x2="935.7" y2="1029.9" stroke="#363636" stroke-width="2.6"/>
<line x1="796.5" y1="860.8" x2="827.7" y2="842.8" stroke="#363636" stroke-width="2.6"/>
<path d="M804.3,856.3L806.1,855.3L807.9,854.5L809.8,853.7L811.7,853L813.6,852.4L815.6,851.9L817.7,851.6L819.8,851.3L821.9,851.1L824.1,851L826.3,851L828.5,851.1L830.8,851.3L833,851.6L835.3,851.9L837.7,852.4L840,853L842.4,853.7L844.8,854.5L847.2,855.3L849.6,856.3L852,857.3L854.4,858.5L856.9,859.7L859.3,861L861.7,862.5L864.2,864L866.6,865.5L869,867.2L871.4,868.9L873.8,870.8L876.2,872.7L878.5,874.7L880.9,876.7L883.2,878.8L885.5,881L887.7,883.3L890,885.6L892.2,888L894.3,890.5L896.5,893L898.6,895.6L900.6,898.2L902.6,900.9L904.6,903.6L906.5,906.3L908.4,909.1L910.2,912L912,914.9L913.7,917.8L915.4,920.8L917,923.7L918.6,926.8L920.1,929.8L921.5,932.8L922.9,935.9L924.2,939L925.4,942.1L926.6,945.2L927.7,948.3L928.7,951.4L929.7,954.5L930.6,957.6L931.4,960.7L932.2,963.8L932.9,966.8L933.5,969.9L934,972.9L934.5,975.9L934.9,978.9L935.2,981.9L935.4,984.8L935.6,987.7L935.7,990.5L935.7,993.3L935.6,996.1L935.5,998.8L935.2,1001.5L934.9,1004.1L934.6,1006.7L934.1,1009.2L933.6,1011.6L933,1014L932.3,1016.4L931.6,1018.6L930.8,1020.8L929.9,1022.9L928.9,1025L927.9,1027L926.8,1028.9L925.6,1030.7L924.4,1032.4L923.1,1034.1L921.7,1035.7L920.3,1037.2L918.8,1038.6L917.3,1039.9L915.7,1041.1L914,1042.3L912.3,1043.3" stroke="#363636" stroke-width="2.6" fill="none"/>
<ellipse cx="850.5" cy="954.3" rx="108" ry="64" transform="rotate(60 850.5 954.3)" stroke="#363636" stroke-width="2.6" fill="none"/>
<ellipse cx="847.9" cy="955.8" rx="61" ry="37.5" transform="rotate(60 847.9 955.8)" stroke="#363636" stroke-width="2.6" fill="none"/>
<ellipse cx="850.5" cy="954.3" rx="55.4" ry="33.8" transform="rotate(60 850.5 954.3)" stroke="#363636" stroke-width="2.6" fill="none"/>
<clipPath id="c2"><path d="M878.2,1002.3L876.6,1003.1L875,1003.8L873.3,1004.3L871.5,1004.7L869.7,1005L867.8,1005.2L865.9,1005.1L863.9,1005L861.9,1004.7L859.9,1004.3L857.8,1003.7L855.7,1003L853.6,1002.2L851.5,1001.3L849.4,1000.2L847.3,999L845.2,997.6L843.1,996.2L841,994.6L839,992.9L837,991.1L835,989.3L833.1,987.3L831.2,985.2L829.4,983L827.6,980.8L825.9,978.5L824.3,976.1L822.7,973.7L821.2,971.2L819.8,968.7L818.5,966.1L817.3,963.5L816.1,960.9L815.1,958.2L814.1,955.5L813.2,952.9L812.5,950.2L811.8,947.6L811.3,944.9L810.9,942.3L810.5,939.8L810.3,937.2L810.2,934.8L810.2,932.3L810.3,930L810.6,927.6L810.9,925.4L811.3,923.3L811.9,921.2L812.5,919.2L813.3,917.3L814.1,915.6L815.1,913.9L816.2,912.3L817.3,910.9L818.6,909.6L819.9,908.4L821.3,907.3L822.8,906.3L824.4,905.5L826,904.8L827.7,904.3L829.5,903.9L831.3,903.6L833.2,903.4L835.1,903.5L837.1,903.6L839.1,903.9L841.1,904.3L843.2,904.9L845.3,905.6L847.4,906.4L849.5,907.3L851.6,908.4L853.7,909.6L855.8,911L857.9,912.4L860,914L862,915.7L864,917.5L866,919.3L867.9,921.3L869.8,923.4L871.6,925.6L873.4,927.8L875.1,930.1L876.7,932.5L878.3,934.9L879.8,937.4L881.2,939.9L882.5,942.5L883.7,945.1L884.9,947.7L885.9,950.4L886.9,953.1L887.8,955.7L888.5,958.4L889.2,961L889.7,963.7L890.1,966.3L890.5,968.8L890.7,971.4L890.8,973.8L890.8,976.3L890.7,978.6L890.4,981L890.1,983.2L889.7,985.3L889.1,987.4L888.5,989.4L887.7,991.3L886.9,993L885.9,994.7L884.8,996.3L883.7,997.7L882.4,999L881.1,1000.2L879.7,1001.3L878.2,1002.3Z"/></clipPath>
<g clip-path="url(#c2)">
<path d="M905.9,986.3L904.4,987.1L902.7,987.8L901,988.4L899.2,988.8L897.4,989.1L895.5,989.2L893.6,989.2L891.6,989L889.6,988.8L887.6,988.3L885.5,987.8L883.4,987.1L881.3,986.3L879.2,985.3L877.1,984.2L875,983L872.9,981.7L870.8,980.2L868.8,978.6L866.7,977L864.7,975.2L862.8,973.3L860.8,971.3L859,969.2L857.1,967.1L855.4,964.8L853.7,962.5L852,960.2L850.5,957.7L849,955.2L847.6,952.7L846.2,950.1L845,947.5L843.8,944.9L842.8,942.2L841.8,939.6L841,936.9L840.2,934.3L839.6,931.6L839,929L838.6,926.4L838.3,923.8L838.1,921.3L837.9,918.8L837.9,916.4L838.1,914L838.3,911.7L838.6,909.5L839.1,907.3L839.6,905.2L840.3,903.3L841,901.4L841.9,899.6L842.8,897.9L843.9,896.4L845.1,894.9L846.3,893.6L847.6,892.4L849,891.3L850.5,890.4L852.1,889.5L853.7,888.9L855.5,888.3L857.2,887.9L859.1,887.6L860.9,887.5L862.9,887.5L864.8,887.6L866.8,887.9L868.9,888.3L870.9,888.9L873,889.6L875.1,890.4L877.2,891.4L879.3,892.5L881.5,893.7L883.5,895L885.6,896.5L887.7,898L889.7,899.7L891.7,901.5L893.7,903.4L895.6,905.4L897.5,907.4L899.3,909.6L901.1,911.8L902.8,914.1L904.4,916.5L906,918.9L907.5,921.4L908.9,924L910.2,926.5L911.5,929.1L912.6,931.8L913.7,934.4L914.6,937.1L915.5,939.8L916.2,942.4L916.9,945.1L917.4,947.7L917.9,950.3L918.2,952.9L918.4,955.4L918.5,957.9L918.5,960.3L918.4,962.7L918.2,965L917.8,967.2L917.4,969.4L916.9,971.4L916.2,973.4L915.4,975.3L914.6,977.1L913.6,978.7L912.6,980.3L911.4,981.7L910.2,983.1L908.8,984.3L907.4,985.4L905.9,986.3Z" stroke="#363636" stroke-width="3.1" fill="none"/>
</g>
<path d="M758.2,1085.6L756.6,1086.5L755,1087.2L753.3,1087.8L751.5,1088.3L749.7,1088.7L747.9,1089L746,1089.1L744,1089.1L742.1,1089.1L740.1,1088.8L738,1088.5L735.9,1088.1L733.8,1087.5L731.7,1086.8L729.6,1086L727.4,1085.1L725.3,1084.1L723.1,1083L721,1081.7L718.8,1080.4L716.7,1079L714.5,1077.4L712.4,1075.8L710.3,1074L708.3,1072.2L706.2,1070.3L704.2,1068.3L702.3,1066.2L700.3,1064.1L698.4,1061.9L696.6,1059.6L694.8,1057.2L693.1,1054.8L691.4,1052.4L689.8,1049.9L688.2,1047.3L686.8,1044.7L685.3,1042.1L684,1039.4L682.7,1036.7L681.6,1034L680.4,1031.3L679.4,1028.6L678.5,1025.9L677.6,1023.1L676.8,1020.4L676.2,1017.7L675.6,1015L675.1,1012.4L674.7,1009.7L674.3,1007.1L674.1,1004.5L674,1002L674,999.5L674,997.1L674.2,994.7L674.4,992.4L674.8,990.1L675.2,987.9L675.7,985.8L676.3,983.8L677,981.9L677.8,980L678.7,978.2L679.7,976.5L680.7,974.9L681.8,973.5L683.1,972.1L684.3,970.8L685.7,969.6L687.1,968.5L688.6,967.6L709.4,955.6L711,954.8L712.6,954L714.3,953.4L716.1,952.9L717.9,952.5L719.7,952.3L721.6,952.1L723.6,952.1L725.5,952.2L727.5,952.4L729.6,952.7L731.7,953.2L733.8,953.7L735.9,954.4L738,955.2L740.2,956.1L742.3,957.1L744.5,958.2L746.6,959.5L748.8,960.8L750.9,962.3L753.1,963.8L755.2,965.4L757.3,967.2L759.3,969L761.4,970.9L763.4,972.9L765.3,975L767.3,977.1L769.2,979.3L771,981.6L772.8,984L774.5,986.4L776.2,988.9L777.8,991.4L779.4,993.9L780.8,996.5L782.3,999.1L783.6,1001.8L784.9,1004.5L786,1007.2L787.2,1009.9L788.2,1012.6L789.1,1015.4L790,1018.1L790.8,1020.8L791.4,1023.5L792,1026.2L792.5,1028.9L792.9,1031.5L793.3,1034.1L793.5,1036.7L793.6,1039.2L793.6,1041.7L793.6,1044.2L793.4,1046.5L793.2,1048.8L792.8,1051.1L792.4,1053.3L791.9,1055.4L791.3,1057.4L790.6,1059.4L789.8,1061.2L788.9,1063L787.9,1064.7L786.9,1066.3L785.8,1067.8L784.5,1069.2L783.3,1070.4L781.9,1071.6L780.5,1072.7L779,1073.6Z" stroke="#363636" stroke-width="0" fill="#fff" stroke-opacity="0"/>
<path d="M709.4,955.6L710.7,954.9L712,954.3L713.3,953.8L714.7,953.3L716.1,952.9L717.5,952.6L719,952.3L720.5,952.2L722,952.1L723.6,952.1L725.1,952.1L726.7,952.3L728.4,952.5L730,952.8L731.7,953.2L733.3,953.6L735,954.1L736.7,954.7L738.4,955.4L740.2,956.1L741.9,956.9L743.6,957.8L745.3,958.7L747.1,959.7L748.8,960.8L750.5,962L752.2,963.2L753.9,964.5L755.6,965.8L757.3,967.2L758.9,968.6L760.6,970.1L762.2,971.7L763.8,973.3L765.3,975L766.9,976.7L768.4,978.5L769.9,980.3L771.4,982.1L772.8,984L774.2,985.9L775.5,987.9L776.8,989.9L778.1,991.9L779.4,993.9L780.5,996L781.7,998.1L782.8,1000.2L783.9,1002.3L784.9,1004.5L785.8,1006.6L786.7,1008.8L787.6,1011L788.4,1013.2L789.1,1015.4L789.8,1017.5L790.5,1019.7L791,1021.9L791.6,1024.1L792,1026.2L792.4,1028.3L792.8,1030.5L793.1,1032.6L793.3,1034.6L793.5,1036.7L793.6,1038.7L793.6,1040.7L793.6,1042.7L793.6,1044.6L793.4,1046.5L793.2,1048.4L793,1050.2L792.7,1052L792.3,1053.7L791.9,1055.4L791.4,1057L790.9,1058.6L790.3,1060.1L789.6,1061.6L788.9,1063L788.1,1064.4L787.3,1065.7L786.4,1066.9L785.5,1068.1L784.5,1069.2L783.5,1070.2L782.4,1071.2L781.3,1072.1L780.2,1072.9L779,1073.6" stroke="#363636" stroke-width="2.6" fill="none"/>
<line x1="758.2" y1="1085.6" x2="779" y2="1073.6" stroke="#363636" stroke-width="2.6"/>
<line x1="688.6" y1="967.6" x2="709.4" y2="955.6" stroke="#363636" stroke-width="2.6"/>
<path d="M758.2,1085.6L756.9,1086.3L755.6,1086.9L754.3,1087.5L752.9,1087.9L751.5,1088.3L750.1,1088.6L748.6,1088.9L747.1,1089L745.6,1089.1L744,1089.1L742.5,1089.1L740.9,1088.9L739.2,1088.7L737.6,1088.4L735.9,1088.1L734.3,1087.6L732.6,1087.1L730.9,1086.5L729.2,1085.9L727.4,1085.1L725.7,1084.3L724,1083.4L722.3,1082.5L720.5,1081.5L718.8,1080.4L717.1,1079.3L715.4,1078L713.7,1076.8L712,1075.4L710.3,1074L708.7,1072.6L707,1071.1L705.4,1069.5L703.8,1067.9L702.3,1066.2L700.7,1064.5L699.2,1062.8L697.7,1061L696.2,1059.1L694.8,1057.2L693.4,1055.3L692.1,1053.4L690.8,1051.4L689.5,1049.4L688.2,1047.3L687.1,1045.2L685.9,1043.1L684.8,1041L683.7,1038.9L682.7,1036.7L681.8,1034.6L680.9,1032.4L680,1030.2L679.2,1028.1L678.5,1025.9L677.8,1023.7L677.1,1021.5L676.6,1019.3L676,1017.2L675.6,1015L675.2,1012.9L674.8,1010.8L674.5,1008.7L674.3,1006.6L674.1,1004.5L674,1002.5L674,1000.5L674,998.5L674,996.6L674.2,994.7L674.4,992.8L674.6,991L674.9,989.2L675.3,987.5L675.7,985.8L676.2,984.2L676.7,982.6L677.3,981.1L678,979.6L678.7,978.2L679.5,976.9L680.3,975.6L681.2,974.3L682.1,973.2L683.1,972.1L684.1,971L685.1,970.1L686.3,969.2L687.4,968.3L688.6,967.6L689.9,966.9L691.2,966.3L692.5,965.7L693.9,965.3L695.3,964.9L696.7,964.6L698.2,964.3L699.7,964.2L701.2,964.1L702.8,964.1L704.3,964.1L705.9,964.3L707.6,964.5L709.2,964.8L710.9,965.1L712.5,965.6L714.2,966.1L715.9,966.7L717.6,967.3L719.4,968.1L721.1,968.9L722.8,969.8L724.5,970.7L726.3,971.7L728,972.8L729.7,973.9L731.4,975.2L733.1,976.4L734.8,977.8L736.5,979.2L738.1,980.6L739.8,982.1L741.4,983.7L743,985.3L744.5,987L746.1,988.7L747.6,990.4L749.1,992.2L750.6,994.1L752,996L753.4,997.9L754.7,999.8L756,1001.8L757.3,1003.8L758.6,1005.9L759.7,1008L760.9,1010.1L762,1012.2L763.1,1014.3L764.1,1016.5L765,1018.6L765.9,1020.8L766.8,1023L767.6,1025.1L768.3,1027.3L769,1029.5L769.7,1031.7L770.2,1033.9L770.8,1036L771.2,1038.2L771.6,1040.3L772,1042.4L772.3,1044.5L772.5,1046.6L772.7,1048.7L772.8,1050.7L772.8,1052.7L772.8,1054.7L772.8,1056.6L772.6,1058.5L772.4,1060.4L772.2,1062.2L771.9,1064L771.5,1065.7L771.1,1067.4L770.6,1069L770.1,1070.6L769.5,1072.1L768.8,1073.6L768.1,1075L767.3,1076.3L766.5,1077.6L765.6,1078.9L764.7,1080L763.7,1081.1L762.7,1082.2L761.7,1083.1L760.5,1084L759.4,1084.9L758.2,1085.6Z" stroke="#363636" stroke-width="2.6" fill="none"/>
<ellipse cx="723.6" cy="1025.8" rx="55.2" ry="33.3" transform="rotate(59.8 723.6 1025.8)" stroke="#363636" stroke-width="2.6" fill="none"/>
<clipPath id="c3"><path d="M751.4,1073.5L749.8,1074.3L748.2,1075L746.5,1075.5L744.8,1075.9L743,1076.2L741.1,1076.3L739.2,1076.3L737.3,1076.2L735.3,1075.9L733.3,1075.5L731.2,1074.9L729.1,1074.2L727.1,1073.4L725,1072.5L722.9,1071.4L720.8,1070.2L718.7,1068.8L716.6,1067.4L714.6,1065.8L712.6,1064.2L710.6,1062.4L708.6,1060.5L706.7,1058.5L704.8,1056.5L703,1054.3L701.2,1052.1L699.5,1049.8L697.9,1047.4L696.3,1045L694.8,1042.6L693.4,1040L692.1,1037.5L690.8,1034.9L689.7,1032.3L688.6,1029.6L687.6,1027L686.8,1024.3L686,1021.7L685.4,1019.1L684.8,1016.5L684.3,1013.9L684,1011.3L683.8,1008.8L683.6,1006.3L683.6,1003.9L683.7,1001.6L683.9,999.3L684.2,997L684.6,994.9L685.2,992.9L685.8,990.9L686.5,989L687.4,987.3L688.3,985.6L689.3,984.1L690.5,982.6L691.7,981.3L693,980.1L694.4,979L695.8,978.1L697.4,977.3L699,976.6L700.7,976.1L702.4,975.7L704.2,975.4L706.1,975.3L708,975.3L709.9,975.4L711.9,975.7L713.9,976.1L716,976.7L718.1,977.4L720.1,978.2L722.2,979.1L724.3,980.2L726.4,981.4L728.5,982.8L730.6,984.2L732.6,985.8L734.6,987.4L736.6,989.2L738.6,991.1L740.5,993.1L742.4,995.1L744.2,997.3L746,999.5L747.7,1001.8L749.3,1004.2L750.9,1006.6L752.4,1009L753.8,1011.6L755.1,1014.1L756.4,1016.7L757.5,1019.3L758.6,1022L759.6,1024.6L760.4,1027.3L761.2,1029.9L761.8,1032.5L762.4,1035.1L762.9,1037.7L763.2,1040.3L763.4,1042.8L763.6,1045.3L763.6,1047.7L763.5,1050L763.3,1052.3L763,1054.6L762.6,1056.7L762,1058.7L761.4,1060.7L760.7,1062.6L759.8,1064.3L758.9,1066L757.9,1067.5L756.7,1069L755.5,1070.3L754.2,1071.5L752.8,1072.6L751.4,1073.5Z"/></clipPath>
<g clip-path="url(#c3)">
<path d="M772.2,1061.5L770.6,1062.3L769,1063L767.3,1063.6L765.6,1064L763.8,1064.2L761.9,1064.4L760,1064.4L758.1,1064.2L756.1,1063.9L754.1,1063.5L752,1063L749.9,1062.3L747.9,1061.4L745.8,1060.5L743.7,1059.4L741.6,1058.2L739.5,1056.9L737.4,1055.4L735.4,1053.9L733.4,1052.2L731.4,1050.4L729.4,1048.5L727.5,1046.6L725.6,1044.5L723.8,1042.4L722,1040.1L720.3,1037.8L718.7,1035.5L717.1,1033L715.6,1030.6L714.2,1028.1L712.9,1025.5L711.6,1022.9L710.5,1020.3L709.4,1017.7L708.4,1015L707.6,1012.4L706.8,1009.7L706.1,1007.1L705.6,1004.5L705.1,1001.9L704.8,999.3L704.6,996.8L704.4,994.4L704.4,991.9L704.5,989.6L704.7,987.3L705,985.1L705.4,982.9L706,980.9L706.6,978.9L707.3,977.1L708.2,975.3L709.1,973.6L710.1,972.1L711.3,970.6L712.5,969.3L713.8,968.1L715.2,967.1L716.6,966.1L718.2,965.3L719.8,964.6L721.5,964.1L723.2,963.7L725,963.4L726.9,963.3L728.8,963.3L730.7,963.4L732.7,963.7L734.7,964.1L736.8,964.7L738.9,965.4L740.9,966.2L743,967.2L745.1,968.2L747.2,969.5L749.3,970.8L751.4,972.2L753.4,973.8L755.4,975.5L757.4,977.2L759.4,979.1L761.3,981.1L763.2,983.2L765,985.3L766.8,987.5L768.5,989.8L770.1,992.2L771.7,994.6L773.2,997.1L774.6,999.6L775.9,1002.2L777.2,1004.7L778.3,1007.4L779.4,1010L780.4,1012.6L781.2,1015.3L782,1017.9L782.6,1020.6L783.2,1023.2L783.7,1025.8L784,1028.3L784.2,1030.8L784.4,1033.3L784.4,1035.7L784.3,1038.1L784.1,1040.4L783.8,1042.6L783.4,1044.7L782.8,1046.8L782.2,1048.7L781.5,1050.6L780.6,1052.4L779.7,1054L778.7,1055.6L777.5,1057L776.3,1058.3L775,1059.5L773.6,1060.6L772.2,1061.5Z" stroke="#363636" stroke-width="2.6" fill="none"/>
</g>
<path d="M572.1,1178.2L570.8,1178.9L569.4,1179.5L568,1180L566.5,1180.4L565,1180.7L563.4,1180.9L561.8,1181L560.2,1181.1L558.6,1181L556.9,1180.8L555.2,1180.5L553.5,1180.2L551.7,1179.7L550,1179.1L548.2,1178.5L546.5,1177.7L544.7,1176.9L542.9,1176L541.1,1175L539.4,1173.9L537.6,1172.7L535.9,1171.4L534.2,1170.1L532.5,1168.7L530.8,1167.2L529.2,1165.6L527.6,1164L526,1162.3L524.4,1160.5L522.9,1158.7L521.5,1156.8L520,1154.9L518.7,1152.9L517.3,1150.9L516.1,1148.9L514.8,1146.8L513.7,1144.6L512.6,1142.5L511.5,1140.3L510.6,1138.1L509.7,1135.9L508.8,1133.7L508,1131.4L507.3,1129.2L506.7,1127L506.1,1124.7L505.7,1122.5L505.2,1120.3L504.9,1118.1L504.7,1116L504.5,1113.8L504.4,1111.7L504.3,1109.6L504.4,1107.6L504.5,1105.6L504.7,1103.7L505,1101.8L505.3,1099.9L505.8,1098.1L506.3,1096.4L506.9,1094.8L507.5,1093.2L508.2,1091.6L509,1090.2L509.9,1088.8L510.8,1087.5L511.8,1086.3L512.9,1085.1L514,1084.1L515.1,1083.1L516.4,1082.3L517.7,1081.5L613.4,1026.3L614.8,1025.6L616.2,1025L617.6,1024.5L619.1,1024.1L620.6,1023.8L622.1,1023.6L623.7,1023.5L625.4,1023.4L627,1023.5L628.7,1023.7L630.4,1024L632.1,1024.3L633.9,1024.8L635.6,1025.4L637.4,1026L639.1,1026.8L640.9,1027.6L642.7,1028.5L644.4,1029.5L646.2,1030.6L647.9,1031.8L649.7,1033.1L651.4,1034.4L653.1,1035.8L654.8,1037.3L656.4,1038.9L658,1040.5L659.6,1042.2L661.2,1044L662.7,1045.8L664.1,1047.7L665.6,1049.6L666.9,1051.6L668.3,1053.6L669.5,1055.6L670.7,1057.7L671.9,1059.9L673,1062L674,1064.2L675,1066.4L675.9,1068.6L676.8,1070.8L677.5,1073.1L678.2,1075.3L678.9,1077.5L679.4,1079.8L679.9,1082L680.3,1084.2L680.7,1086.4L680.9,1088.5L681.1,1090.7L681.2,1092.8L681.3,1094.9L681.2,1096.9L681.1,1098.9L680.9,1100.8L680.6,1102.7L680.2,1104.6L679.8,1106.4L679.3,1108.1L678.7,1109.7L678.1,1111.3L677.4,1112.9L676.6,1114.3L675.7,1115.7L674.8,1117L673.8,1118.2L672.7,1119.4L671.6,1120.4L670.4,1121.4L669.2,1122.2L667.9,1123Z" stroke="#363636" stroke-width="0" fill="#fff" stroke-opacity="0"/>
<line x1="572.1" y1="1178.2" x2="666.9" y2="1121.4" stroke="#363636" stroke-width="2.6"/>
<line x1="517.7" y1="1081.5" x2="612.5" y2="1024.6" stroke="#363636" stroke-width="2.6"/>
<path d="M611.4,1025.3L612.6,1024.6L613.8,1023.9L615.1,1023.4L616.4,1022.9L617.8,1022.5L619.2,1022.2L620.6,1022L622,1021.8L623.5,1021.8L625,1021.8L626.6,1021.9L628.1,1022.1L629.7,1022.3L631.3,1022.7L632.9,1023.1L634.5,1023.6L636.1,1024.2L637.7,1024.9L639.4,1025.6L641,1026.5L642.6,1027.3L644.2,1028.3L645.8,1029.4L647.4,1030.5L649,1031.7L650.6,1032.9L652.2,1034.2L653.7,1035.6L655.2,1037L656.7,1038.5L658.2,1040.1L659.6,1041.7L661,1043.3L662.4,1045L663.7,1046.8L665,1048.6L666.3,1050.4L667.5,1052.2L668.6,1054.1L669.8,1056.1L670.8,1058L671.8,1060L672.8,1062L673.7,1064L674.6,1066L675.4,1068.1L676.1,1070.1L676.8,1072.2L677.4,1074.2L678,1076.3L678.5,1078.4L679,1080.4L679.3,1082.4L679.7,1084.4L679.9,1086.4L680.1,1088.4L680.2,1090.4L680.3,1092.3L680.3,1094.2L680.2,1096L680,1097.8L679.8,1099.6L679.6,1101.3L679.2,1103L678.8,1104.7L678.4,1106.3L677.8,1107.8L677.3,1109.3L676.6,1110.7L675.9,1112.1L675.1,1113.4L674.3,1114.6L673.4,1115.8L672.5,1116.9L671.5,1117.9L670.5,1118.8L669.4,1119.7L668.3,1120.5L667.1,1121.3L665.9,1121.9" stroke="#111" stroke-width="6.2" fill="none"/>
<path d="M574.4,1218.8L572.1,1220L569.7,1221L567.3,1221.9L564.7,1222.6L562.2,1223.2L559.5,1223.6L556.8,1223.8L554,1223.9L551.2,1223.8L548.4,1223.5L545.5,1223.1L542.6,1222.6L539.6,1221.8L536.7,1221L533.7,1219.9L530.7,1218.7L527.7,1217.4L524.8,1215.9L521.8,1214.2L518.8,1212.4L515.9,1210.5L513,1208.4L510.1,1206.2L507.2,1203.9L504.4,1201.5L501.7,1198.9L499,1196.2L496.3,1193.4L493.7,1190.5L491.2,1187.5L488.8,1184.4L486.4,1181.3L484.1,1178L481.9,1174.7L479.8,1171.3L477.8,1167.8L475.9,1164.3L474.1,1160.7L472.4,1157.1L470.8,1153.5L469.3,1149.8L467.9,1146.1L466.6,1142.4L465.5,1138.7L464.5,1135L463.6,1131.3L462.8,1127.6L462.2,1123.9L461.7,1120.3L461.3,1116.7L461,1113.1L460.9,1109.6L460.9,1106.2L461,1102.8L461.3,1099.4L461.7,1096.2L462.2,1093L462.9,1089.9L463.6,1086.9L464.5,1084L465.6,1081.3L466.7,1078.6L468,1076L469.3,1073.6L470.8,1071.2L472.4,1069.1L474.2,1067L476,1065.1L477.9,1063.3L479.9,1061.7L482,1060.2L484.2,1058.8L501.6,1048.8L503.9,1047.7L506.2,1046.6L508.7,1045.7L511.2,1045L513.8,1044.5L516.4,1044.1L519.1,1043.8L521.9,1043.7L524.7,1043.8L527.6,1044.1L530.4,1044.5L533.3,1045.1L536.3,1045.8L539.3,1046.7L542.2,1047.7L545.2,1048.9L548.2,1050.3L551.2,1051.8L554.1,1053.4L557.1,1055.2L560,1057.1L563,1059.2L565.8,1061.4L568.7,1063.7L571.5,1066.2L574.3,1068.7L577,1071.4L579.6,1074.2L582.2,1077.1L584.7,1080.1L587.1,1083.2L589.5,1086.4L591.8,1089.6L594,1092.9L596.1,1096.3L598.1,1099.8L600,1103.3L601.9,1106.9L603.6,1110.5L605.2,1114.1L606.7,1117.8L608,1121.5L609.3,1125.2L610.4,1128.9L611.4,1132.6L612.3,1136.3L613.1,1140L613.8,1143.7L614.3,1147.3L614.7,1150.9L614.9,1154.5L615,1158L615,1161.5L614.9,1164.9L614.6,1168.2L614.3,1171.4L613.7,1174.6L613.1,1177.7L612.3,1180.7L611.4,1183.6L610.4,1186.4L609.2,1189L608,1191.6L606.6,1194.1L605.1,1196.4L603.5,1198.6L601.8,1200.6L600,1202.5L598,1204.3L596,1206L593.9,1207.5L591.7,1208.8Z" stroke="#363636" stroke-width="0" fill="#fff" stroke-opacity="0"/>
<path d="M501.6,1048.8L503.4,1047.9L505.3,1047L507.2,1046.2L509.2,1045.6L511.2,1045L513.3,1044.6L515.4,1044.2L517.5,1043.9L519.7,1043.8L521.9,1043.7L524.1,1043.8L526.4,1044L528.7,1044.2L531,1044.6L533.3,1045.1L535.7,1045.6L538.1,1046.3L540.4,1047.1L542.8,1047.9L545.2,1048.9L547.6,1050L550,1051.1L552.4,1052.4L554.7,1053.7L557.1,1055.2L559.5,1056.7L561.8,1058.3L564.1,1060L566.4,1061.8L568.7,1063.7L570.9,1065.7L573.2,1067.7L575.3,1069.8L577.5,1072L579.6,1074.2L581.7,1076.5L583.7,1078.9L585.7,1081.3L587.6,1083.8L589.5,1086.4L591.3,1089L593.1,1091.6L594.9,1094.3L596.5,1097L598.1,1099.8L599.7,1102.6L601.1,1105.5L602.5,1108.3L603.9,1111.2L605.2,1114.1L606.4,1117.1L607.5,1120L608.5,1123L609.5,1125.9L610.4,1128.9L611.3,1131.9L612,1134.8L612.7,1137.8L613.3,1140.8L613.8,1143.7L614.2,1146.6L614.5,1149.5L614.8,1152.4L615,1155.2L615,1158L615.1,1160.8L615,1163.5L614.8,1166.2L614.6,1168.8L614.3,1171.4L613.8,1174L613.4,1176.5L612.8,1178.9L612.1,1181.3L611.4,1183.6L610.6,1185.8L609.7,1188L608.7,1190.1L607.7,1192.1L606.6,1194.1L605.4,1195.9L604.1,1197.7L602.8,1199.4L601.4,1201L600,1202.5L598.4,1204L596.8,1205.3L595.2,1206.6L593.5,1207.7L591.7,1208.8" stroke="#363636" stroke-width="3.4" fill="none"/>
<line x1="574.4" y1="1218.8" x2="591.7" y2="1208.8" stroke="#363636" stroke-width="2.6"/>
<line x1="484.2" y1="1058.8" x2="501.6" y2="1048.8" stroke="#363636" stroke-width="2.6"/>
<path d="M574.4,1218.8L572.5,1219.7L570.7,1220.6L568.7,1221.4L566.8,1222L564.7,1222.6L562.7,1223.1L560.6,1223.4L558.4,1223.7L556.2,1223.8L554,1223.9L551.8,1223.8L549.5,1223.7L547.2,1223.4L544.9,1223L542.6,1222.6L540.2,1222L537.9,1221.3L535.5,1220.6L533.1,1219.7L530.7,1218.7L528.3,1217.6L525.9,1216.5L523.6,1215.2L521.2,1213.9L518.8,1212.4L516.5,1210.9L514.1,1209.3L511.8,1207.6L509.5,1205.8L507.2,1203.9L505,1202L502.8,1199.9L500.6,1197.8L498.4,1195.7L496.3,1193.4L494.3,1191.1L492.2,1188.7L490.2,1186.3L488.3,1183.8L486.4,1181.3L484.6,1178.7L482.8,1176L481.1,1173.3L479.4,1170.6L477.8,1167.8L476.3,1165L474.8,1162.2L473.4,1159.3L472,1156.4L470.8,1153.5L469.6,1150.6L468.4,1147.6L467.4,1144.6L466.4,1141.7L465.5,1138.7L464.7,1135.7L463.9,1132.8L463.3,1129.8L462.7,1126.9L462.2,1123.9L461.8,1121L461.4,1118.1L461.2,1115.3L461,1112.4L460.9,1109.6L460.9,1106.8L461,1104.1L461.1,1101.4L461.4,1098.8L461.7,1096.2L462.1,1093.6L462.6,1091.1L463.1,1088.7L463.8,1086.3L464.5,1084L465.3,1081.8L466.2,1079.6L467.2,1077.5L468.2,1075.5L469.3,1073.6L470.5,1071.7L471.8,1069.9L473.1,1068.2L474.5,1066.6L476,1065.1L477.5,1063.6L479.1,1062.3L480.8,1061L482.5,1059.9L484.2,1058.8L486.1,1057.9L487.9,1057L489.9,1056.2L491.8,1055.6L493.9,1055L495.9,1054.5L498,1054.2L500.2,1053.9L502.4,1053.8L504.6,1053.7L506.8,1053.8L509.1,1053.9L511.4,1054.2L513.7,1054.6L516,1055L518.4,1055.6L520.7,1056.3L523.1,1057L525.5,1057.9L527.9,1058.9L530.3,1060L532.7,1061.1L535,1062.4L537.4,1063.7L539.8,1065.2L542.1,1066.7L544.5,1068.3L546.8,1070L549.1,1071.8L551.4,1073.7L553.6,1075.6L555.8,1077.7L558,1079.8L560.2,1081.9L562.3,1084.2L564.3,1086.5L566.4,1088.9L568.4,1091.3L570.3,1093.8L572.2,1096.3L574,1098.9L575.8,1101.6L577.5,1104.3L579.2,1107L580.8,1109.8L582.3,1112.6L583.8,1115.4L585.2,1118.3L586.6,1121.2L587.8,1124.1L589,1127L590.2,1130L591.2,1133L592.2,1135.9L593.1,1138.9L593.9,1141.9L594.7,1144.8L595.3,1147.8L595.9,1150.7L596.4,1153.7L596.8,1156.6L597.2,1159.5L597.4,1162.3L597.6,1165.2L597.7,1168L597.7,1170.8L597.6,1173.5L597.5,1176.2L597.2,1178.8L596.9,1181.4L596.5,1184L596,1186.5L595.5,1188.9L594.8,1191.3L594.1,1193.6L593.3,1195.8L592.4,1198L591.4,1200.1L590.4,1202.1L589.3,1204L588.1,1205.9L586.8,1207.7L585.5,1209.4L584.1,1211L582.6,1212.5L581.1,1214L579.5,1215.3L577.8,1216.6L576.1,1217.7L574.4,1218.8Z" stroke="#363636" stroke-width="2.6" fill="none"/>
<ellipse cx="527.5" cy="1087.5" rx="16" ry="11" transform="rotate(60 527.5 1087.5)" stroke="#363636" stroke-width="2.6" fill="none"/>
<ellipse cx="482.8" cy="1112.8" rx="16" ry="11" transform="rotate(60 482.8 1112.8)" stroke="#363636" stroke-width="2.6" fill="none"/>
<ellipse cx="571.7" cy="1164.2" rx="16" ry="11" transform="rotate(60 571.7 1164.2)" stroke="#363636" stroke-width="2.6" fill="none"/>
<ellipse cx="527.8" cy="1189.5" rx="16" ry="11" transform="rotate(60 527.8 1189.5)" stroke="#363636" stroke-width="2.6" fill="none"/>
<ellipse cx="528" cy="1139" rx="36" ry="23" transform="rotate(60 528 1139)" stroke="#363636" stroke-width="2.6" fill="none"/>
<path d="M536.2,1163.1L535.4,1163.5L534.6,1163.8L533.8,1164.1L532.9,1164.3L532.1,1164.5L531.1,1164.6L530.2,1164.6L529.3,1164.5L528.3,1164.4L527.3,1164.3L526.3,1164L525.3,1163.7L524.3,1163.4L523.3,1162.9L522.3,1162.5L521.3,1161.9L520.4,1161.3L519.4,1160.7L518.4,1160L517.4,1159.2L516.5,1158.4L515.6,1157.5L514.7,1156.6L513.8,1155.7L512.9,1154.7L512.1,1153.7L511.3,1152.6L510.6,1151.5L509.8,1150.4L509.1,1149.3L508.5,1148.1L507.9,1146.9L507.3,1145.7L506.8,1144.5L506.3,1143.3L505.9,1142L505.5,1140.8L505.2,1139.6L504.9,1138.3L504.7,1137.1L504.5,1135.9L504.4,1134.7L504.3,1133.5L504.3,1132.4L504.3,1131.2L504.4,1130.1L504.5,1129L504.7,1128L505,1127L505.2,1126L505.6,1125.1L506,1124.2L506.4,1123.3L506.9,1122.6L507.4,1121.8L508,1121.1L508.6,1120.5L509.3,1119.9L510,1119.4L510.7,1118.9L511.4,1118.5L512.2,1118.2L513.1,1117.9L513.9,1117.7L514.8,1117.5L515.7,1117.5L516.7,1117.4L517.6,1117.5L518.6,1117.6L519.5,1117.8L520.5,1118L521.5,1118.3L522.5,1118.7L523.5,1119.1L524.5,1119.6L525.5,1120.1L526.5,1120.7L527.5,1121.4L528.5,1122.1L529.4,1122.8L530.4,1123.6L531.3,1124.5L532.2,1125.4L533.1,1126.3L533.9,1127.3L534.8,1128.3L535.6,1129.4L536.3,1130.5L537,1131.6L537.7,1132.8L538.4,1133.9L539,1135.1L539.5,1136.3L540.1,1137.5L540.5,1138.8L541,1140L541.3,1141.2L541.7,1142.5L542,1143.7L542.2,1144.9L542.4,1146.1L542.5,1147.3L542.6,1148.5L542.6,1149.7L542.6,1150.8L542.5,1151.9L542.3,1153L542.1,1154L541.9,1155L541.6,1156L541.3,1156.9L540.9,1157.8L540.5,1158.7L540,1159.5L539.4,1160.2L538.9,1160.9L538.3,1161.5L537.6,1162.1L536.9,1162.6L536.2,1163.1Z" stroke="#363636" stroke-width="0" fill="#fff" stroke-opacity="0"/>
<path d="M517.6,1114.9L518.4,1114.5L519.2,1114.2L520,1113.9L520.9,1113.7L521.7,1113.6L522.7,1113.5L523.6,1113.4L524.5,1113.5L525.5,1113.6L526.5,1113.8L527.5,1114L528.5,1114.3L529.5,1114.7L530.5,1115.1L531.5,1115.6L532.5,1116.1L533.4,1116.7L534.4,1117.4L535.4,1118.1L536.4,1118.8L537.3,1119.6L538.2,1120.5L539.1,1121.4L540,1122.3L540.9,1123.3L541.7,1124.4L542.5,1125.4L543.2,1126.5L544,1127.6L544.7,1128.8L545.3,1129.9L545.9,1131.1L546.5,1132.3L547,1133.5L547.5,1134.8L547.9,1136L548.3,1137.2L548.6,1138.5L548.9,1139.7L549.1,1140.9L549.3,1142.1L549.4,1143.3L549.5,1144.5L549.5,1145.7L549.5,1146.8L549.4,1147.9L549.3,1149L549.1,1150L548.8,1151L548.6,1152L548.2,1152.9L547.8,1153.8L547.4,1154.7L546.9,1155.5L546.4,1156.2L545.8,1156.9L545.2,1157.5L544.5,1158.1L543.8,1158.6L543.1,1159.1" stroke="#363636" stroke-width="2.6" fill="none"/>
<line x1="529.2" y1="1167.1" x2="543.1" y2="1159.1" stroke="#363636" stroke-width="3.1"/>
<line x1="503.8" y1="1122.9" x2="517.6" y2="1114.9" stroke="#363636" stroke-width="3.1"/>
<ellipse cx="516.5" cy="1145" rx="25.5" ry="16.5" transform="rotate(60 516.5 1145)" stroke="#363636" stroke-width="2.6" fill="none"/>
<clipPath id="outO"><path clip-rule="evenodd" d="M0,0H1680V2066H0Z M395.5,1496.2L392.1,1498.1L388.5,1499.8L384.9,1501.4L381.3,1502.9L377.5,1504.2L373.7,1505.3L369.8,1506.3L365.8,1507.1L361.8,1507.8L357.7,1508.4L353.6,1508.7L349.4,1509L345.1,1509L340.8,1509L336.5,1508.7L332.1,1508.3L327.6,1507.8L323.2,1507.1L318.7,1506.3L314.1,1505.2L309.6,1504.1L305,1502.8L300.4,1501.3L295.7,1499.7L291.1,1498L286.4,1496.1L281.8,1494L277.1,1491.9L272.4,1489.5L267.8,1487.1L263.1,1484.5L258.4,1481.7L253.8,1478.8L249.1,1475.8L244.5,1472.7L239.9,1469.4L235.3,1466L230.8,1462.5L226.2,1458.8L221.8,1455L217.3,1451.2L212.9,1447.2L208.5,1443L204.2,1438.8L199.9,1434.5L195.6,1430.1L191.4,1425.5L187.3,1420.9L183.2,1416.2L179.2,1411.4L175.3,1406.5L171.4,1401.5L167.6,1396.4L163.9,1391.3L160.2,1386.1L156.6,1380.8L153.1,1375.4L149.7,1370L146.3,1364.5L143.1,1359L139.9,1353.4L136.9,1347.8L133.9,1342.1L131,1336.4L128.2,1330.7L125.5,1324.9L122.9,1319.1L120.5,1313.2L118.1,1307.4L115.8,1301.5L113.7,1295.7L111.6,1289.8L109.7,1283.9L107.8,1278L106.1,1272.1L104.5,1266.2L103,1260.3L101.6,1254.5L100.4,1248.7L99.2,1242.9L98.2,1237.1L97.3,1231.3L96.6,1225.6L95.9,1220L95.4,1214.3L95,1208.8L94.7,1203.2L94.5,1197.8L94.4,1192.4L94.5,1187L94.7,1181.7L95,1176.5L95.5,1171.4L96,1166.3L96.7,1161.3L97.5,1156.4L98.5,1151.6L99.5,1146.9L100.7,1142.3L102,1137.8L103.4,1133.3L104.9,1129L106.5,1124.8L108.3,1120.7L110.1,1116.7L112.1,1112.8L114.2,1109L116.4,1105.4L118.6,1101.9L121.1,1098.5L123.6,1095.2L126.2,1092.1L128.9,1089L131.7,1086.2L134.6,1083.4L137.6,1080.8L140.7,1078.4L143.9,1076L147.1,1073.9L150.5,1071.8L153.9,1069.9L157.5,1068.2L161.1,1066.6L164.7,1065.1L168.5,1063.8L172.3,1062.7L176.2,1061.7L180.2,1060.9L184.2,1060.2L188.3,1059.6L192.4,1059.3L196.6,1059L200.9,1059L205.2,1059L209.5,1059.3L213.9,1059.7L218.4,1060.2L222.8,1060.9L227.3,1061.7L231.9,1062.8L236.4,1063.9L241,1065.2L245.6,1066.7L250.3,1068.3L254.9,1070L259.6,1071.9L264.2,1074L268.9,1076.1L273.6,1078.5L278.2,1080.9L282.9,1083.5L287.6,1086.3L292.2,1089.2L296.9,1092.2L301.5,1095.3L306.1,1098.6L310.7,1102L315.2,1105.5L319.8,1109.2L324.2,1113L328.7,1116.8L333.1,1120.8L337.5,1125L341.8,1129.2L346.1,1133.5L350.4,1137.9L354.6,1142.5L358.7,1147.1L362.8,1151.8L366.8,1156.6L370.7,1161.5L374.6,1166.5L378.4,1171.6L382.1,1176.7L385.8,1181.9L389.4,1187.2L392.9,1192.6L396.3,1198L399.7,1203.5L402.9,1209L406.1,1214.6L409.1,1220.2L412.1,1225.9L415,1231.6L417.8,1237.3L420.5,1243.1L423.1,1248.9L425.5,1254.8L427.9,1260.6L430.2,1266.5L432.3,1272.3L434.4,1278.2L436.3,1284.1L438.2,1290L439.9,1295.9L441.5,1301.8L443,1307.7L444.4,1313.5L445.6,1319.3L446.8,1325.1L447.8,1330.9L448.7,1336.7L449.4,1342.4L450.1,1348L450.6,1353.7L451,1359.2L451.3,1364.8L451.5,1370.2L451.6,1375.6L451.5,1381L451.3,1386.3L451,1391.5L450.5,1396.6L450,1401.7L449.3,1406.7L448.5,1411.6L447.5,1416.4L446.5,1421.1L445.3,1425.7L444,1430.2L442.6,1434.7L441.1,1439L439.5,1443.2L437.7,1447.3L435.9,1451.3L433.9,1455.2L431.8,1459L429.6,1462.6L427.4,1466.1L424.9,1469.5L422.4,1472.8L419.8,1475.9L417.1,1479L414.3,1481.8L411.4,1484.6L408.4,1487.2L405.3,1489.6L402.1,1492L398.9,1494.1L395.5,1496.2Z"/></clipPath>
<clipPath id="tipcut"><path d="M189.6,0L1680,0L1680,1469.5L189.6,1469.5Z"/></clipPath>
<clipPath id="inS"><path d="M465,1458.6L461.6,1460.4L458.2,1462.1L454.7,1463.7L451.2,1465.1L447.5,1466.3L443.8,1467.4L440,1468.4L436.1,1469.2L432.2,1469.8L428.2,1470.3L424.2,1470.6L420.1,1470.8L415.9,1470.8L411.7,1470.7L407.4,1470.4L403.1,1470L398.8,1469.4L394.4,1468.7L389.9,1467.8L385.5,1466.7L381,1465.5L376.5,1464.2L371.9,1462.7L367.3,1461L362.8,1459.2L358.1,1457.3L353.5,1455.2L348.9,1452.9L344.3,1450.6L339.7,1448L335,1445.4L330.4,1442.6L325.8,1439.7L321.2,1436.6L316.6,1433.4L312,1430.1L307.4,1426.6L302.9,1423.1L298.4,1419.4L293.9,1415.6L289.4,1411.6L285,1407.6L280.6,1403.4L276.3,1399.2L272,1394.8L267.8,1390.3L263.6,1385.8L259.4,1381.1L255.3,1376.3L251.3,1371.5L247.3,1366.5L243.4,1361.5L239.6,1356.4L235.8,1351.3L232.1,1346L228.5,1340.7L224.9,1335.3L221.5,1329.9L218.1,1324.4L214.8,1318.8L211.6,1313.2L208.4,1307.6L205.4,1301.9L202.4,1296.1L199.6,1290.4L196.8,1284.6L194.2,1278.7L191.6,1272.9L189.2,1267L186.8,1261.1L184.6,1255.2L182.4,1249.3L180.4,1243.4L178.5,1237.5L176.7,1231.6L175,1225.8L173.4,1219.9L171.9,1214L170.6,1208.2L169.3,1202.4L168.2,1196.6L167.2,1190.9L166.3,1185.2L165.5,1179.5L164.9,1173.9L164.4,1168.3L164,1162.8L163.7,1157.3L163.5,1151.9L163.5,1146.6L163.6,1141.3L163.8,1136.1L164.1,1131L164.5,1125.9L165.1,1121L165.8,1116.1L166.6,1111.3L167.5,1106.6L168.6,1102L169.7,1097.5L171,1093.1L172.4,1088.8L173.9,1084.6L175.5,1080.5L177.2,1076.5L179.1,1072.7L181,1069L183.1,1065.3L185.3,1061.9L187.6,1058.5L189.9,1055.3L192.4,1052.1L195,1049.2L197.7,1046.3L200.5,1043.6L203.4,1041.1L206.4,1038.6L209.4,1036.4L212.6,1034.2L215.8,1032.2L219.2,1030.4L222.6,1028.7L226.1,1027.1L229.6,1025.7L233.3,1024.5L237,1023.4L240.8,1022.4L244.7,1021.6L248.6,1021L252.6,1020.5L256.6,1020.2L260.7,1020L264.9,1020L269.1,1020.1L273.4,1020.4L277.7,1020.8L282,1021.4L286.4,1022.1L290.9,1023L295.3,1024.1L299.8,1025.3L304.3,1026.6L308.9,1028.1L313.5,1029.8L318,1031.6L322.7,1033.5L327.3,1035.6L331.9,1037.9L336.5,1040.2L341.1,1042.8L345.8,1045.4L350.4,1048.2L355,1051.1L359.6,1054.2L364.2,1057.4L368.8,1060.7L373.4,1064.2L377.9,1067.7L382.4,1071.4L386.9,1075.2L391.4,1079.2L395.8,1083.2L400.2,1087.4L404.5,1091.6L408.8,1096L413,1100.5L417.2,1105L421.4,1109.7L425.5,1114.5L429.5,1119.3L433.5,1124.3L437.4,1129.3L441.2,1134.4L445,1139.5L448.7,1144.8L452.3,1150.1L455.9,1155.5L459.3,1160.9L462.7,1166.4L466,1172L469.2,1177.6L472.4,1183.2L475.4,1188.9L478.4,1194.7L481.2,1200.4L484,1206.2L486.6,1212.1L489.2,1217.9L491.6,1223.8L494,1229.7L496.2,1235.6L498.4,1241.5L500.4,1247.4L502.3,1253.3L504.1,1259.2L505.8,1265L507.4,1270.9L508.9,1276.8L510.2,1282.6L511.5,1288.4L512.6,1294.2L513.6,1299.9L514.5,1305.6L515.3,1311.3L515.9,1316.9L516.4,1322.5L516.8,1328L517.1,1333.5L517.3,1338.9L517.3,1344.2L517.2,1349.5L517,1354.7L516.7,1359.8L516.3,1364.9L515.7,1369.8L515,1374.7L514.2,1379.5L513.3,1384.2L512.2,1388.8L511.1,1393.3L509.8,1397.7L508.4,1402L506.9,1406.2L505.3,1410.3L503.6,1414.3L501.7,1418.1L499.8,1421.8L497.7,1425.5L495.5,1428.9L493.2,1432.3L490.9,1435.5L488.4,1438.7L485.8,1441.6L483.1,1444.5L480.3,1447.2L477.4,1449.7L474.4,1452.2L471.4,1454.4L468.2,1456.6L465,1458.6Z"/></clipPath>
<g clip-path="url(#tipcut)"><g clip-path="url(#outO)"><g clip-path="url(#inS)">
<path d="M401.7,1492.6L398.2,1494.5L394.7,1496.2L391.1,1497.8L387.5,1499.3L383.7,1500.6L379.9,1501.7L376,1502.7L372.1,1503.5L368.1,1504.2L364,1504.7L359.9,1505.1L355.7,1505.3L351.4,1505.4L347.2,1505.3L342.8,1505.1L338.4,1504.7L334,1504.1L329.6,1503.4L325.1,1502.6L320.6,1501.6L316,1500.4L311.4,1499.1L306.8,1497.7L302.2,1496.1L297.6,1494.3L292.9,1492.4L288.3,1490.4L283.6,1488.2L279,1485.8L274.3,1483.4L269.6,1480.8L265,1478L260.3,1475.1L255.7,1472.1L251.1,1469L246.5,1465.7L241.9,1462.3L237.4,1458.7L232.8,1455.1L228.3,1451.3L223.9,1447.4L219.5,1443.4L215.1,1439.3L210.8,1435.1L206.5,1430.8L202.2,1426.3L198.1,1421.8L193.9,1417.2L189.9,1412.4L185.9,1407.6L181.9,1402.7L178,1397.7L174.2,1392.7L170.5,1387.5L166.8,1382.3L163.2,1377L159.7,1371.7L156.3,1366.3L153,1360.8L149.7,1355.3L146.6,1349.7L143.5,1344.1L140.5,1338.4L137.6,1332.7L134.8,1327L132.1,1321.2L129.5,1315.4L127.1,1309.6L124.7,1303.7L122.4,1297.8L120.2,1292L118.2,1286.1L116.2,1280.2L114.4,1274.3L112.7,1268.4L111,1262.6L109.5,1256.7L108.2,1250.8L106.9,1245L105.8,1239.2L104.7,1233.4L103.8,1227.7L103,1222L102.4,1216.3L101.8,1210.7L101.4,1205.1L101.1,1199.6L100.9,1194.2L100.9,1188.8L100.9,1183.4L101.1,1178.1L101.4,1172.9L101.8,1167.8L102.4,1162.7L103.1,1157.8L103.9,1152.9L104.8,1148.1L105.8,1143.4L107,1138.7L108.2,1134.2L109.6,1129.8L111.1,1125.5L112.7,1121.3L114.5,1117.2L116.3,1113.2L118.3,1109.3L120.3,1105.6L122.5,1101.9L124.8,1098.4L127.2,1095L129.7,1091.7L132.3,1088.6L135,1085.6L137.8,1082.7L140.6,1080L143.6,1077.4L146.7,1075L149.9,1072.6L153.1,1070.5L156.5,1068.4L159.9,1066.5L163.4,1064.8L167,1063.2L170.7,1061.8L174.4,1060.5L178.2,1059.3L182.1,1058.4L186.1,1057.5L190.1,1056.8L194.1,1056.3L198.3,1055.9L202.4,1055.7L206.7,1055.6L211,1055.7L215.3,1056L219.7,1056.4L224.1,1056.9L228.6,1057.6L233.1,1058.5L237.6,1059.5L242.1,1060.6L246.7,1061.9L251.3,1063.4L255.9,1065L260.6,1066.7L265.2,1068.6L269.9,1070.7L274.5,1072.9L279.2,1075.2L283.8,1077.7L288.5,1080.3L293.2,1083L297.8,1085.9L302.4,1089L307.1,1092.1L311.7,1095.4L316.2,1098.8L320.8,1102.3L325.3,1106L329.8,1109.7L334.2,1113.6L338.7,1117.6L343,1121.7L347.4,1126L351.7,1130.3L355.9,1134.7L360.1,1139.3L364.2,1143.9L368.3,1148.6L372.3,1153.4L376.2,1158.3L380.1,1163.3L383.9,1168.4L387.6,1173.5L391.3,1178.7L394.9,1184L398.4,1189.4L401.8,1194.8L405.2,1200.2L408.4,1205.8L411.6,1211.3L414.7,1217L417.6,1222.6L420.5,1228.3L423.3,1234.1L426,1239.9L428.6,1245.7L431.1,1251.5L433.5,1257.3L435.7,1263.2L437.9,1269.1L440,1275L441.9,1280.9L443.8,1286.7L445.5,1292.6L447.1,1298.5L448.6,1304.4L450,1310.2L451.2,1316L452.4,1321.8L453.4,1327.6L454.3,1333.3L455.1,1339L455.8,1344.7L456.3,1350.3L456.7,1355.9L457,1361.4L457.2,1366.9L457.3,1372.3L457.2,1377.6L457,1382.9L456.7,1388.1L456.3,1393.3L455.7,1398.3L455.1,1403.3L454.3,1408.2L453.4,1413L452.3,1417.7L451.2,1422.3L449.9,1426.8L448.5,1431.2L447,1435.6L445.4,1439.8L443.7,1443.9L441.8,1447.9L439.9,1451.7L437.8,1455.5L435.6,1459.1L433.3,1462.7L431,1466L428.5,1469.3L425.9,1472.4L423.2,1475.4L420.4,1478.3L417.5,1481L414.5,1483.6L411.4,1486.1L408.3,1488.4L405,1490.6L401.7,1492.6Z" stroke="#363636" stroke-width="2.1" fill="none"/>
<path d="M407.8,1489.1L404.4,1490.9L400.9,1492.7L397.3,1494.3L393.7,1495.7L389.9,1497L386.1,1498.1L382.3,1499.1L378.3,1499.9L374.4,1500.6L370.3,1501.1L366.2,1501.5L362,1501.7L357.8,1501.8L353.5,1501.7L349.2,1501.4L344.8,1501L340.4,1500.5L336,1499.8L331.5,1498.9L327,1497.9L322.4,1496.8L317.9,1495.4L313.3,1494L308.7,1492.4L304.1,1490.6L299.4,1488.7L294.8,1486.7L290.1,1484.5L285.5,1482.1L280.8,1479.7L276.2,1477L271.5,1474.3L266.9,1471.4L262.2,1468.4L257.6,1465.2L253,1462L248.5,1458.6L243.9,1455L239.4,1451.4L234.9,1447.6L230.5,1443.7L226.1,1439.7L221.7,1435.6L217.4,1431.4L213.1,1427L208.9,1422.6L204.7,1418.1L200.6,1413.4L196.5,1408.7L192.5,1403.9L188.5,1399L184.7,1394L180.9,1389L177.1,1383.8L173.5,1378.6L169.9,1373.3L166.4,1368L162.9,1362.6L159.6,1357.1L156.3,1351.6L153.2,1346L150.1,1340.4L147.1,1334.7L144.2,1329L141.4,1323.3L138.7,1317.5L136.1,1311.7L133.7,1305.9L131.3,1300L129,1294.2L126.8,1288.3L124.7,1282.4L122.8,1276.5L120.9,1270.6L119.2,1264.8L117.6,1258.9L116.1,1253L114.7,1247.2L113.4,1241.4L112.3,1235.6L111.2,1229.8L110.3,1224.1L109.5,1218.4L108.8,1212.7L108.3,1207.1L107.8,1201.5L107.5,1196L107.3,1190.6L107.3,1185.2L107.3,1179.8L107.5,1174.6L107.8,1169.4L108.2,1164.2L108.7,1159.2L109.4,1154.2L110.2,1149.3L111.1,1144.5L112.1,1139.8L113.2,1135.2L114.5,1130.7L115.9,1126.3L117.4,1122L119,1117.8L120.7,1113.7L122.5,1109.7L124.5,1105.8L126.5,1102.1L128.7,1098.4L130.9,1094.9L133.3,1091.5L135.8,1088.3L138.4,1085.2L141,1082.2L143.8,1079.3L146.7,1076.6L149.7,1074L152.7,1071.5L155.9,1069.2L159.1,1067.1L162.5,1065L165.9,1063.2L169.4,1061.4L172.9,1059.8L176.6,1058.4L180.3,1057.1L184.1,1056L188,1055L191.9,1054.2L195.9,1053.5L200,1053L204.1,1052.6L208.3,1052.4L212.5,1052.3L216.8,1052.4L221.1,1052.7L225.4,1053.1L229.9,1053.6L234.3,1054.3L238.8,1055.2L243.3,1056.2L247.8,1057.3L252.4,1058.7L257,1060.1L261.6,1061.7L266.2,1063.5L270.8,1065.4L275.5,1067.4L280.1,1069.6L284.8,1072L289.5,1074.4L294.1,1077.1L298.8,1079.8L303.4,1082.7L308,1085.7L312.6,1088.9L317.2,1092.1L321.8,1095.6L326.3,1099.1L330.8,1102.7L335.3,1106.5L339.8,1110.4L344.2,1114.4L348.6,1118.5L352.9,1122.7L357.2,1127.1L361.4,1131.5L365.6,1136L369.7,1140.7L373.8,1145.4L377.8,1150.2L381.7,1155.1L385.6,1160.1L389.4,1165.1L393.1,1170.3L396.8,1175.5L400.4,1180.8L403.9,1186.1L407.3,1191.5L410.7,1197L413.9,1202.5L417.1,1208.1L420.2,1213.7L423.1,1219.4L426,1225.1L428.8,1230.8L431.5,1236.6L434.1,1242.4L436.6,1248.2L439,1254.1L441.3,1259.9L443.5,1265.8L445.5,1271.7L447.5,1277.6L449.3,1283.5L451.1,1289.3L452.7,1295.2L454.2,1301.1L455.6,1306.9L456.8,1312.7L458,1318.5L459,1324.3L460,1330L460.8,1335.7L461.4,1341.4L462,1347L462.4,1352.6L462.7,1358.1L462.9,1363.5L463,1368.9L462.9,1374.3L462.8,1379.5L462.5,1384.7L462.1,1389.9L461.5,1394.9L460.9,1399.9L460.1,1404.8L459.2,1409.6L458.2,1414.3L457,1418.9L455.8,1423.4L454.4,1427.8L452.9,1432.1L451.3,1436.3L449.6,1440.4L447.8,1444.4L445.8,1448.3L443.8,1452L441.6,1455.7L439.3,1459.2L437,1462.6L434.5,1465.8L431.9,1468.9L429.2,1471.9L426.4,1474.8L423.6,1477.5L420.6,1480.1L417.5,1482.6L414.4,1484.9L411.1,1487L407.8,1489.1Z" stroke="#363636" stroke-width="2.1" fill="none"/>
<path d="M414,1485.5L410.6,1487.4L407.1,1489.1L403.5,1490.7L399.9,1492.1L396.2,1493.4L392.4,1494.5L388.5,1495.5L384.6,1496.3L380.6,1497L376.6,1497.5L372.5,1497.9L368.3,1498.1L364.1,1498.1L359.8,1498.1L355.5,1497.8L351.2,1497.4L346.8,1496.8L342.4,1496.1L337.9,1495.3L333.4,1494.3L328.9,1493.1L324.3,1491.8L319.7,1490.3L315.1,1488.7L310.5,1486.9L305.9,1485L301.3,1483L296.6,1480.8L292,1478.4L287.3,1476L282.7,1473.3L278,1470.6L273.4,1467.7L268.8,1464.7L264.2,1461.5L259.6,1458.2L255.1,1454.8L250.5,1451.3L246,1447.6L241.5,1443.9L237.1,1440L232.7,1436L228.3,1431.9L224,1427.6L219.7,1423.3L215.5,1418.9L211.3,1414.3L207.2,1409.7L203.1,1405L199.1,1400.2L195.2,1395.3L191.3,1390.3L187.5,1385.2L183.7,1380.1L180.1,1374.9L176.5,1369.6L173,1364.3L169.6,1358.8L166.2,1353.4L163,1347.9L159.8,1342.3L156.7,1336.7L153.7,1331L150.8,1325.3L148,1319.6L145.3,1313.8L142.7,1308L140.2,1302.2L137.9,1296.3L135.6,1290.5L133.4,1284.6L131.3,1278.7L129.3,1272.8L127.5,1267L125.7,1261.1L124.1,1255.2L122.6,1249.4L121.2,1243.5L119.9,1237.7L118.8,1231.9L117.7,1226.2L116.8,1220.4L116,1214.8L115.3,1209.1L114.7,1203.5L114.3,1197.9L114,1192.4L113.8,1187L113.7,1181.6L113.7,1176.2L113.9,1171L114.2,1165.8L114.6,1160.7L115.1,1155.6L115.7,1150.7L116.5,1145.8L117.4,1141L118.4,1136.3L119.5,1131.7L120.8,1127.2L122.1,1122.8L123.6,1118.5L125.2,1114.3L126.9,1110.2L128.7,1106.2L130.6,1102.3L132.7,1098.6L134.8,1095L137.1,1091.5L139.4,1088.1L141.9,1084.8L144.5,1081.7L147.1,1078.7L149.9,1075.9L152.8,1073.2L155.7,1070.6L158.8,1068.1L161.9,1065.8L165.1,1063.7L168.4,1061.6L171.8,1059.8L175.3,1058L178.9,1056.5L182.5,1055L186.2,1053.8L190,1052.6L193.9,1051.7L197.8,1050.8L201.8,1050.2L205.8,1049.6L209.9,1049.3L214.1,1049.1L218.3,1049L222.5,1049.1L226.9,1049.4L231.2,1049.8L235.6,1050.3L240,1051L244.5,1051.9L249,1052.9L253.5,1054.1L258.1,1055.4L262.7,1056.8L267.3,1058.5L271.9,1060.2L276.5,1062.1L281.1,1064.2L285.8,1066.4L290.4,1068.7L295.1,1071.2L299.7,1073.8L304.4,1076.6L309,1079.5L313.6,1082.5L318.2,1085.6L322.8,1088.9L327.3,1092.3L331.9,1095.9L336.4,1099.5L340.9,1103.3L345.3,1107.2L349.7,1111.2L354.1,1115.3L358.4,1119.5L362.7,1123.9L366.9,1128.3L371.1,1132.8L375.2,1137.4L379.3,1142.2L383.3,1147L387.2,1151.9L391.1,1156.9L394.9,1161.9L398.6,1167.1L402.3,1172.3L405.9,1177.6L409.4,1182.9L412.8,1188.3L416.2,1193.8L419.4,1199.3L422.6,1204.9L425.7,1210.5L428.7,1216.2L431.6,1221.9L434.4,1227.6L437.1,1233.4L439.7,1239.2L442.2,1245L444.5,1250.8L446.8,1256.7L449,1262.6L451.1,1268.4L453.1,1274.3L454.9,1280.2L456.6,1286.1L458.3,1291.9L459.8,1297.8L461.2,1303.6L462.5,1309.4L463.6,1315.2L464.7,1321L465.6,1326.7L466.4,1332.4L467.1,1338.1L467.7,1343.7L468.1,1349.2L468.4,1354.7L468.6,1360.2L468.7,1365.6L468.7,1370.9L468.5,1376.2L468.2,1381.4L467.8,1386.5L467.3,1391.5L466.7,1396.5L465.9,1401.4L465,1406.2L464,1410.9L462.9,1415.5L461.6,1420L460.3,1424.4L458.8,1428.7L457.2,1432.9L455.5,1437L453.7,1441L451.8,1444.8L449.7,1448.6L447.6,1452.2L445.3,1455.7L443,1459.1L440.5,1462.3L437.9,1465.4L435.3,1468.4L432.5,1471.3L429.6,1474L426.7,1476.6L423.6,1479L420.5,1481.3L417.3,1483.5L414,1485.5Z" stroke="#363636" stroke-width="2.1" fill="none"/>
<path d="M420.1,1482L416.7,1483.8L413.3,1485.5L409.7,1487.1L406.1,1488.5L402.4,1489.8L398.6,1490.9L394.8,1491.9L390.9,1492.7L386.9,1493.4L382.9,1493.9L378.8,1494.3L374.6,1494.5L370.4,1494.5L366.2,1494.4L361.9,1494.2L357.6,1493.8L353.2,1493.2L348.8,1492.5L344.3,1491.6L339.8,1490.6L335.3,1489.4L330.8,1488.1L326.2,1486.6L321.6,1485L317,1483.2L312.4,1481.3L307.8,1479.3L303.1,1477.1L298.5,1474.7L293.8,1472.3L289.2,1469.6L284.6,1466.9L280,1464L275.4,1461L270.8,1457.8L266.2,1454.5L261.6,1451.1L257.1,1447.6L252.6,1443.9L248.1,1440.1L243.7,1436.3L239.3,1432.2L234.9,1428.1L230.6,1423.9L226.3,1419.6L222.1,1415.1L217.9,1410.6L213.8,1406L209.7,1401.3L205.7,1396.4L201.8,1391.5L197.9,1386.6L194.1,1381.5L190.4,1376.4L186.7,1371.2L183.1,1365.9L179.6,1360.5L176.2,1355.1L172.8,1349.7L169.6,1344.1L166.4,1338.6L163.3,1332.9L160.3,1327.3L157.4,1321.6L154.6,1315.9L151.9,1310.1L149.3,1304.3L146.8,1298.5L144.4,1292.6L142.1,1286.8L140,1280.9L137.9,1275L135.9,1269.2L134,1263.3L132.3,1257.4L130.7,1251.6L129.1,1245.7L127.7,1239.9L126.4,1234.1L125.3,1228.3L124.2,1222.5L123.3,1216.8L122.5,1211.1L121.8,1205.5L121.2,1199.9L120.7,1194.3L120.4,1188.8L120.2,1183.4L120.1,1178L120.1,1172.7L120.3,1167.4L120.5,1162.2L120.9,1157.1L121.4,1152.1L122.1,1147.1L122.8,1142.2L123.7,1137.4L124.7,1132.8L125.8,1128.2L127,1123.7L128.4,1119.3L129.8,1115L131.4,1110.8L133.1,1106.7L134.9,1102.7L136.8,1098.9L138.8,1095.1L141,1091.5L143.2,1088L145.6,1084.6L148,1081.4L150.6,1078.3L153.2,1075.3L156,1072.4L158.8,1069.7L161.7,1067.2L164.8,1064.7L167.9,1062.4L171.1,1060.3L174.4,1058.3L177.8,1056.4L181.3,1054.7L184.8,1053.1L188.4,1051.7L192.1,1050.4L195.9,1049.3L199.7,1048.3L203.6,1047.5L207.6,1046.8L211.6,1046.3L215.7,1045.9L219.9,1045.7L224.1,1045.7L228.3,1045.8L232.6,1046L237,1046.5L241.4,1047L245.8,1047.7L250.2,1048.6L254.7,1049.6L259.2,1050.8L263.8,1052.1L268.3,1053.6L272.9,1055.2L277.5,1057L282.1,1058.9L286.8,1060.9L291.4,1063.1L296,1065.5L300.7,1068L305.3,1070.6L309.9,1073.3L314.6,1076.2L319.2,1079.2L323.8,1082.4L328.3,1085.7L332.9,1089.1L337.4,1092.6L341.9,1096.3L346.4,1100.1L350.9,1104L355.3,1108L359.6,1112.1L363.9,1116.3L368.2,1120.6L372.4,1125.1L376.6,1129.6L380.7,1134.2L384.8,1138.9L388.8,1143.8L392.7,1148.7L396.6,1153.6L400.4,1158.7L404.2,1163.8L407.8,1169.1L411.4,1174.3L414.9,1179.7L418.3,1185.1L421.7,1190.5L424.9,1196.1L428.1,1201.6L431.2,1207.3L434.2,1212.9L437.1,1218.6L439.9,1224.4L442.6,1230.1L445.2,1235.9L447.7,1241.7L450.1,1247.6L452.4,1253.4L454.6,1259.3L456.7,1265.2L458.6,1271L460.5,1276.9L462.2,1282.8L463.9,1288.6L465.4,1294.5L466.8,1300.3L468.1,1306.1L469.3,1311.9L470.3,1317.7L471.2,1323.4L472.1,1329.1L472.8,1334.7L473.3,1340.3L473.8,1345.9L474.1,1351.4L474.3,1356.8L474.4,1362.2L474.4,1367.6L474.3,1372.8L474,1378L473.6,1383.1L473.1,1388.2L472.4,1393.1L471.7,1398L470.8,1402.8L469.8,1407.5L468.7,1412.1L467.5,1416.6L466.1,1421L464.7,1425.3L463.1,1429.4L461.4,1433.5L459.6,1437.5L457.7,1441.4L455.7,1445.1L453.6,1448.7L451.3,1452.2L449,1455.6L446.5,1458.8L444,1461.9L441.3,1464.9L438.6,1467.8L435.7,1470.5L432.8,1473.1L429.7,1475.5L426.6,1477.8L423.4,1479.9L420.1,1482Z" stroke="#363636" stroke-width="2.1" fill="none"/>
<path d="M426.3,1478.4L422.9,1480.3L419.4,1482L415.9,1483.5L412.3,1485L408.6,1486.2L404.9,1487.3L401,1488.3L397.1,1489.1L393.2,1489.8L389.2,1490.3L385.1,1490.6L381,1490.8L376.8,1490.9L372.5,1490.8L368.3,1490.5L363.9,1490.1L359.6,1489.5L355.2,1488.8L350.7,1487.9L346.2,1486.9L341.7,1485.8L337.2,1484.4L332.6,1483L328.1,1481.3L323.5,1479.6L318.9,1477.6L314.3,1475.6L309.6,1473.4L305,1471L300.4,1468.6L295.7,1465.9L291.1,1463.2L286.5,1460.3L281.9,1457.2L277.3,1454.1L272.7,1450.8L268.2,1447.4L263.7,1443.9L259.2,1440.2L254.7,1436.4L250.3,1432.5L245.9,1428.5L241.5,1424.4L237.2,1420.2L232.9,1415.8L228.7,1411.4L224.5,1406.9L220.4,1402.3L216.4,1397.5L212.4,1392.7L208.4,1387.8L204.5,1382.8L200.7,1377.8L197,1372.6L193.3,1367.4L189.8,1362.2L186.2,1356.8L182.8,1351.4L179.5,1345.9L176.2,1340.4L173,1334.9L170,1329.2L167,1323.6L164.1,1317.9L161.3,1312.1L158.5,1306.4L155.9,1300.6L153.4,1294.8L151,1288.9L148.7,1283.1L146.5,1277.2L144.4,1271.4L142.5,1265.5L140.6,1259.6L138.8,1253.8L137.2,1247.9L135.7,1242.1L134.3,1236.2L133,1230.4L131.8,1224.7L130.7,1218.9L129.8,1213.2L128.9,1207.5L128.2,1201.9L127.6,1196.3L127.2,1190.7L126.8,1185.2L126.6,1179.8L126.5,1174.4L126.5,1169.1L126.7,1163.8L126.9,1158.6L127.3,1153.5L127.8,1148.5L128.4,1143.5L129.2,1138.7L130,1133.9L131,1129.2L132.1,1124.6L133.3,1120.1L134.6,1115.7L136.1,1111.4L137.6,1107.3L139.3,1103.2L141.1,1099.2L143,1095.4L145,1091.6L147.1,1088L149.4,1084.5L151.7,1081.2L154.1,1077.9L156.7,1074.8L159.3,1071.9L162,1069L164.9,1066.3L167.8,1063.7L170.8,1061.3L173.9,1059L177.1,1056.9L180.4,1054.9L183.8,1053L187.2,1051.3L190.8,1049.7L194.4,1048.3L198,1047L201.8,1045.9L205.6,1045L209.5,1044.1L213.5,1043.5L217.5,1043L221.6,1042.6L225.7,1042.4L229.9,1042.4L234.1,1042.5L238.4,1042.7L242.7,1043.2L247.1,1043.7L251.5,1044.4L256,1045.3L260.4,1046.3L264.9,1047.5L269.5,1048.8L274,1050.3L278.6,1051.9L283.2,1053.7L287.8,1055.6L292.4,1057.7L297,1059.9L301.7,1062.2L306.3,1064.7L310.9,1067.3L315.5,1070.1L320.2,1073L324.8,1076L329.3,1079.2L333.9,1082.5L338.5,1085.9L343,1089.4L347.5,1093.1L352,1096.8L356.4,1100.7L360.8,1104.7L365.1,1108.9L369.5,1113.1L373.7,1117.4L378,1121.8L382.1,1126.4L386.2,1131L390.3,1135.7L394.3,1140.5L398.2,1145.4L402.1,1150.4L405.9,1155.5L409.7,1160.6L413.3,1165.8L416.9,1171.1L420.4,1176.4L423.8,1181.9L427.2,1187.3L430.4,1192.8L433.6,1198.4L436.7,1204L439.7,1209.7L442.6,1215.4L445.4,1221.1L448.1,1226.9L450.7,1232.7L453.2,1238.5L455.6,1244.3L457.9,1250.2L460.1,1256L462.2,1261.9L464.2,1267.8L466.1,1273.6L467.8,1279.5L469.5,1285.4L471,1291.2L472.4,1297L473.7,1302.8L474.9,1308.6L475.9,1314.4L476.9,1320.1L477.7,1325.8L478.4,1331.4L479,1337L479.5,1342.6L479.8,1348.1L480.1,1353.5L480.2,1358.9L480.1,1364.2L480,1369.4L479.7,1374.6L479.4,1379.7L478.9,1384.8L478.2,1389.7L477.5,1394.6L476.6,1399.4L475.7,1404L474.6,1408.6L473.4,1413.1L472,1417.5L470.6,1421.8L469,1426L467.3,1430.1L465.6,1434L463.7,1437.9L461.6,1441.6L459.5,1445.2L457.3,1448.7L455,1452.1L452.5,1455.3L450,1458.4L447.4,1461.4L444.6,1464.2L441.8,1467L438.9,1469.5L435.9,1472L432.7,1474.2L429.5,1476.4L426.3,1478.4Z" stroke="#363636" stroke-width="2.1" fill="none"/>
<path d="M432.4,1474.8L429.1,1476.7L425.6,1478.4L422.1,1480L418.5,1481.4L414.8,1482.6L411.1,1483.7L407.3,1484.7L403.4,1485.5L399.5,1486.2L395.5,1486.7L391.4,1487L387.3,1487.2L383.1,1487.3L378.9,1487.1L374.6,1486.9L370.3,1486.5L365.9,1485.9L361.5,1485.2L357.1,1484.3L352.7,1483.3L348.2,1482.1L343.6,1480.8L339.1,1479.3L334.5,1477.6L329.9,1475.9L325.4,1474L320.7,1471.9L316.1,1469.7L311.5,1467.3L306.9,1464.8L302.3,1462.2L297.7,1459.5L293.1,1456.6L288.5,1453.5L283.9,1450.4L279.3,1447.1L274.8,1443.7L270.3,1440.1L265.8,1436.5L261.3,1432.7L256.9,1428.8L252.5,1424.8L248.1,1420.7L243.8,1416.4L239.5,1412.1L235.3,1407.7L231.2,1403.1L227,1398.5L223,1393.8L219,1389L215,1384.1L211.2,1379.1L207.4,1374.1L203.6,1368.9L200,1363.7L196.4,1358.4L192.9,1353.1L189.4,1347.7L186.1,1342.2L182.8,1336.7L179.7,1331.1L176.6,1325.5L173.6,1319.9L170.7,1314.2L167.9,1308.4L165.1,1302.7L162.5,1296.9L160,1291.1L157.6,1285.3L155.3,1279.4L153.1,1273.6L151,1267.7L149,1261.8L147.2,1256L145.4,1250.1L143.7,1244.2L142.2,1238.4L140.8,1232.6L139.5,1226.8L138.3,1221L137.2,1215.3L136.3,1209.5L135.4,1203.9L134.7,1198.2L134.1,1192.6L133.6,1187.1L133.3,1181.6L133,1176.2L132.9,1170.8L132.9,1165.5L133,1160.2L133.3,1155.1L133.7,1150L134.1,1144.9L134.8,1140L135.5,1135.1L136.3,1130.4L137.3,1125.7L138.4,1121.1L139.6,1116.6L140.9,1112.2L142.3,1107.9L143.9,1103.8L145.5,1099.7L147.3,1095.7L149.2,1091.9L151.2,1088.2L153.3,1084.6L155.5,1081.1L157.8,1077.7L160.2,1074.5L162.8,1071.4L165.4,1068.4L168.1,1065.6L170.9,1062.9L173.8,1060.3L176.8,1057.9L179.9,1055.6L183.1,1053.5L186.4,1051.5L189.7,1049.6L193.2,1047.9L196.7,1046.3L200.3,1044.9L204,1043.7L207.7,1042.6L211.5,1041.6L215.4,1040.8L219.3,1040.1L223.3,1039.6L227.4,1039.3L231.5,1039.1L235.7,1039.1L239.9,1039.2L244.2,1039.4L248.5,1039.9L252.8,1040.4L257.2,1041.1L261.7,1042L266.1,1043.1L270.6,1044.2L275.2,1045.6L279.7,1047L284.3,1048.7L288.8,1050.4L293.4,1052.4L298,1054.4L302.7,1056.6L307.3,1059L311.9,1061.5L316.5,1064.1L321.1,1066.9L325.7,1069.7L330.3,1072.8L334.9,1075.9L339.5,1079.2L344,1082.6L348.5,1086.2L353,1089.8L357.5,1093.6L361.9,1097.5L366.3,1101.5L370.7,1105.6L375,1109.9L379.2,1114.2L383.5,1118.6L387.6,1123.2L391.7,1127.8L395.8,1132.5L399.8,1137.3L403.7,1142.2L407.6,1147.2L411.4,1152.3L415.2,1157.4L418.8,1162.6L422.4,1167.9L425.9,1173.2L429.3,1178.6L432.7,1184.1L436,1189.6L439.1,1195.2L442.2,1200.8L445.2,1206.4L448.1,1212.1L450.9,1217.9L453.6,1223.6L456.3,1229.4L458.8,1235.2L461.2,1241.1L463.5,1246.9L465.7,1252.8L467.8,1258.6L469.8,1264.5L471.6,1270.4L473.4,1276.2L475.1,1282.1L476.6,1287.9L478,1293.7L479.3,1299.5L480.5,1305.3L481.6,1311.1L482.5,1316.8L483.4,1322.4L484.1,1328.1L484.7,1333.7L485.2,1339.2L485.5,1344.7L485.8,1350.1L485.9,1355.5L485.9,1360.8L485.8,1366.1L485.5,1371.3L485.1,1376.4L484.6,1381.4L484,1386.3L483.3,1391.2L482.5,1396L481.5,1400.6L480.4,1405.2L479.2,1409.7L477.9,1414.1L476.5,1418.4L474.9,1422.6L473.3,1426.6L471.5,1430.6L469.6,1434.4L467.6,1438.2L465.5,1441.8L463.3,1445.2L461,1448.6L458.6,1451.8L456,1454.9L453.4,1457.9L450.7,1460.7L447.9,1463.4L445,1466L442,1468.4L438.9,1470.7L435.7,1472.8L432.4,1474.8Z" stroke="#363636" stroke-width="2.1" fill="none"/>
<path d="M438.6,1471.3L435.2,1473.1L431.8,1474.8L428.3,1476.4L424.7,1477.8L421.1,1479L417.3,1480.2L413.5,1481.1L409.7,1481.9L405.7,1482.6L401.8,1483.1L397.7,1483.4L393.6,1483.6L389.4,1483.6L385.2,1483.5L381,1483.2L376.7,1482.8L372.3,1482.2L367.9,1481.5L363.5,1480.6L359.1,1479.6L354.6,1478.4L350.1,1477.1L345.5,1475.6L341,1474L336.4,1472.2L331.8,1470.3L327.2,1468.2L322.6,1466L318,1463.6L313.4,1461.1L308.8,1458.5L304.2,1455.8L299.6,1452.9L295,1449.8L290.4,1446.7L285.9,1443.4L281.3,1440L276.8,1436.4L272.3,1432.7L267.9,1429L263.5,1425.1L259.1,1421.1L254.7,1416.9L250.4,1412.7L246.2,1408.4L241.9,1404L237.8,1399.4L233.7,1394.8L229.6,1390.1L225.6,1385.3L221.7,1380.4L217.8,1375.4L214,1370.3L210.3,1365.2L206.6,1360L203,1354.7L199.5,1349.4L196.1,1344L192.7,1338.5L189.5,1333L186.3,1327.4L183.2,1321.8L180.2,1316.2L177.3,1310.5L174.5,1304.7L171.7,1299L169.1,1293.2L166.6,1287.4L164.2,1281.6L161.9,1275.7L159.7,1269.9L157.6,1264L155.6,1258.1L153.7,1252.3L151.9,1246.4L150.3,1240.6L148.7,1234.7L147.3,1228.9L146,1223.1L144.8,1217.4L143.7,1211.6L142.7,1205.9L141.9,1200.2L141.2,1194.6L140.6,1189L140.1,1183.5L139.7,1178L139.4,1172.6L139.3,1167.2L139.3,1161.9L139.4,1156.6L139.7,1151.5L140,1146.4L140.5,1141.4L141.1,1136.4L141.8,1131.6L142.6,1126.8L143.6,1122.1L144.7,1117.6L145.8,1113.1L147.2,1108.7L148.6,1104.4L150.1,1100.2L151.7,1096.2L153.5,1092.2L155.4,1088.4L157.4,1084.7L159.4,1081.1L161.6,1077.6L163.9,1074.3L166.3,1071L168.8,1067.9L171.5,1065L174.2,1062.1L177,1059.5L179.9,1056.9L182.9,1054.5L185.9,1052.2L189.1,1050.1L192.4,1048.1L195.7,1046.2L199.1,1044.5L202.6,1043L206.2,1041.6L209.9,1040.3L213.6,1039.2L217.4,1038.3L221.2,1037.5L225.2,1036.8L229.2,1036.3L233.2,1036L237.3,1035.8L241.5,1035.7L245.7,1035.9L249.9,1036.1L254.3,1036.6L258.6,1037.1L263,1037.9L267.4,1038.7L271.9,1039.8L276.3,1041L280.8,1042.3L285.4,1043.8L289.9,1045.4L294.5,1047.2L299.1,1049.1L303.7,1051.2L308.3,1053.4L312.9,1055.7L317.5,1058.2L322.1,1060.8L326.7,1063.6L331.3,1066.5L335.9,1069.5L340.5,1072.7L345,1076L349.6,1079.4L354.1,1083L358.6,1086.6L363,1090.4L367.5,1094.3L371.8,1098.3L376.2,1102.4L380.5,1106.6L384.8,1111L389,1115.4L393.1,1119.9L397.3,1124.6L401.3,1129.3L405.3,1134.1L409.2,1139L413.1,1144L416.9,1149L420.7,1154.2L424.3,1159.4L427.9,1164.7L431.4,1170L434.9,1175.4L438.2,1180.9L441.5,1186.4L444.6,1191.9L447.7,1197.6L450.7,1203.2L453.6,1208.9L456.5,1214.6L459.2,1220.4L461.8,1226.2L464.3,1232L466.7,1237.8L469,1243.6L471.2,1249.5L473.3,1255.4L475.3,1261.2L477.2,1267.1L479,1272.9L480.6,1278.8L482.2,1284.6L483.6,1290.4L484.9,1296.2L486.1,1302L487.2,1307.7L488.2,1313.5L489,1319.1L489.8,1324.8L490.4,1330.3L490.9,1335.9L491.2,1341.4L491.5,1346.8L491.6,1352.2L491.6,1357.5L491.5,1362.7L491.3,1367.9L490.9,1373L490.4,1378L489.8,1382.9L489.1,1387.8L488.3,1392.6L487.3,1397.2L486.3,1401.8L485.1,1406.3L483.8,1410.7L482.4,1414.9L480.8,1419.1L479.2,1423.2L477.4,1427.1L475.5,1431L473.6,1434.7L471.5,1438.3L469.3,1441.8L467,1445.1L464.6,1448.3L462.1,1451.4L459.5,1454.4L456.8,1457.2L454,1459.9L451.1,1462.5L448.1,1464.9L445,1467.2L441.8,1469.3L438.6,1471.3Z" stroke="#363636" stroke-width="2.1" fill="none"/>
<path d="M444.7,1467.7L441.4,1469.6L438,1471.3L434.5,1472.8L430.9,1474.2L427.3,1475.5L423.6,1476.6L419.8,1477.5L415.9,1478.3L412,1478.9L408.1,1479.4L404,1479.8L399.9,1480L395.8,1480L391.6,1479.9L387.3,1479.6L383,1479.2L378.7,1478.6L374.3,1477.8L369.9,1477L365.5,1475.9L361,1474.7L356.5,1473.4L352,1471.9L347.5,1470.3L342.9,1468.5L338.3,1466.6L333.7,1464.5L329.1,1462.3L324.5,1459.9L319.9,1457.4L315.3,1454.8L310.7,1452L306.1,1449.1L301.6,1446.1L297,1442.9L292.4,1439.6L287.9,1436.2L283.4,1432.7L278.9,1429L274.5,1425.2L270.1,1421.3L265.7,1417.3L261.3,1413.2L257,1409L252.8,1404.7L248.6,1400.2L244.4,1395.7L240.3,1391.1L236.2,1386.3L232.2,1381.5L228.3,1376.6L224.4,1371.7L220.6,1366.6L216.9,1361.5L213.2,1356.3L209.6,1351L206.1,1345.6L202.7,1340.2L199.3,1334.8L196.1,1329.3L192.9,1323.7L189.8,1318.1L186.8,1312.4L183.9,1306.8L181.1,1301L178.3,1295.3L175.7,1289.5L173.2,1283.7L170.8,1277.9L168.5,1272L166.3,1266.2L164.1,1260.3L162.2,1254.5L160.3,1248.6L158.5,1242.8L156.8,1236.9L155.3,1231.1L153.8,1225.3L152.5,1219.5L151.3,1213.7L150.2,1208L149.2,1202.3L148.4,1196.6L147.6,1191L147,1185.4L146.5,1179.9L146.1,1174.4L145.9,1169L145.7,1163.6L145.7,1158.3L145.8,1153.1L146,1147.9L146.4,1142.8L146.8,1137.8L147.4,1132.9L148.1,1128L148.9,1123.3L149.9,1118.6L150.9,1114L152.1,1109.6L153.4,1105.2L154.8,1100.9L156.3,1096.7L158,1092.7L159.7,1088.7L161.6,1084.9L163.5,1081.2L165.6,1077.6L167.8,1074.1L170.1,1070.8L172.5,1067.6L174.9,1064.5L177.5,1061.5L180.2,1058.7L183,1056L185.9,1053.5L188.9,1051.1L191.9,1048.8L195.1,1046.7L198.3,1044.7L201.7,1042.8L205.1,1041.1L208.6,1039.6L212.1,1038.2L215.8,1037L219.5,1035.9L223.3,1034.9L227.1,1034.1L231,1033.5L235,1033L239,1032.6L243.1,1032.5L247.3,1032.4L251.5,1032.5L255.7,1032.8L260,1033.3L264.3,1033.8L268.7,1034.6L273.1,1035.5L277.6,1036.5L282,1037.7L286.5,1039L291.1,1040.5L295.6,1042.1L300.2,1043.9L304.7,1045.8L309.3,1047.9L313.9,1050.1L318.5,1052.5L323.1,1055L327.7,1057.6L332.3,1060.4L336.9,1063.3L341.5,1066.3L346.1,1069.5L350.6,1072.8L355.1,1076.2L359.6,1079.7L364.1,1083.4L368.6,1087.2L373,1091.1L377.4,1095.1L381.7,1099.2L386,1103.4L390.3,1107.8L394.5,1112.2L398.7,1116.7L402.8,1121.4L406.8,1126.1L410.8,1130.9L414.8,1135.8L418.6,1140.8L422.4,1145.8L426.2,1151L429.8,1156.2L433.4,1161.4L436.9,1166.8L440.4,1172.2L443.7,1177.6L447,1183.1L450.2,1188.7L453.3,1194.3L456.3,1200L459.2,1205.7L462,1211.4L464.7,1217.1L467.3,1222.9L469.9,1228.7L472.3,1234.5L474.6,1240.4L476.8,1246.2L478.9,1252.1L480.9,1257.9L482.8,1263.8L484.6,1269.7L486.2,1275.5L487.8,1281.3L489.2,1287.1L490.6,1292.9L491.8,1298.7L492.9,1304.4L493.8,1310.1L494.7,1315.8L495.4,1321.4L496,1327L496.5,1332.5L496.9,1338L497.2,1343.5L497.3,1348.8L497.3,1354.1L497.2,1359.4L497,1364.5L496.7,1369.6L496.2,1374.6L495.6,1379.5L494.9,1384.4L494.1,1389.1L493.2,1393.8L492.1,1398.4L490.9,1402.9L489.7,1407.2L488.2,1411.5L486.7,1415.7L485.1,1419.7L483.3,1423.7L481.5,1427.5L479.5,1431.2L477.5,1434.8L475.3,1438.3L473,1441.6L470.6,1444.8L468.1,1447.9L465.5,1450.9L462.8,1453.7L460,1456.4L457.2,1458.9L454.2,1461.3L451.1,1463.6L448,1465.7L444.7,1467.7Z" stroke="#363636" stroke-width="2.1" fill="none"/>
<path d="M450.2,1464.6L446.9,1466.4L443.5,1468.1L440,1469.6L436.4,1471L432.8,1472.3L429.1,1473.4L425.4,1474.3L421.5,1475.1L417.6,1475.7L413.6,1476.2L409.6,1476.6L405.5,1476.7L401.4,1476.8L397.2,1476.6L393,1476.4L388.7,1475.9L384.4,1475.3L380,1474.6L375.6,1473.7L371.2,1472.7L366.7,1471.5L362.2,1470.1L357.7,1468.6L353.2,1467L348.6,1465.2L344.1,1463.3L339.5,1461.2L334.9,1459L330.3,1456.6L325.7,1454.1L321.1,1451.5L316.5,1448.7L312,1445.8L307.4,1442.8L302.8,1439.6L298.3,1436.3L293.8,1432.9L289.3,1429.4L284.8,1425.7L280.3,1421.9L275.9,1418L271.5,1414L267.2,1409.9L262.9,1405.7L258.6,1401.3L254.4,1396.9L250.3,1392.4L246.2,1387.7L242.1,1383L238.1,1378.2L234.2,1373.3L230.3,1368.3L226.5,1363.3L222.8,1358.1L219.1,1352.9L215.5,1347.7L212,1342.3L208.6,1336.9L205.2,1331.5L202,1326L198.8,1320.4L195.7,1314.8L192.7,1309.1L189.8,1303.5L186.9,1297.7L184.2,1292L181.6,1286.2L179.1,1280.4L176.6,1274.6L174.3,1268.8L172.1,1262.9L170,1257.1L168,1251.2L166.1,1245.3L164.3,1239.5L162.6,1233.7L161.1,1227.8L159.6,1222L158.3,1216.2L157.1,1210.5L156,1204.7L155,1199L154.1,1193.4L153.4,1187.8L152.7,1182.2L152.2,1176.7L151.8,1171.2L151.6,1165.8L151.4,1160.4L151.4,1155.1L151.5,1149.9L151.7,1144.7L152,1139.6L152.5,1134.6L153.1,1129.7L153.7,1124.9L154.6,1120.1L155.5,1115.5L156.5,1110.9L157.7,1106.4L159,1102L160.4,1097.8L161.9,1093.6L163.5,1089.6L165.2,1085.6L167.1,1081.8L169,1078.1L171.1,1074.5L173.2,1071.1L175.5,1067.7L177.9,1064.5L180.4,1061.4L182.9,1058.5L185.6,1055.7L188.4,1053L191.3,1050.4L194.2,1048L197.3,1045.8L200.4,1043.6L203.7,1041.7L207,1039.8L210.4,1038.1L213.8,1036.6L217.4,1035.2L221,1034L224.7,1032.9L228.5,1031.9L232.3,1031.1L236.2,1030.5L240.2,1030L244.2,1029.7L248.3,1029.5L252.4,1029.5L256.6,1029.6L260.9,1029.9L265.1,1030.3L269.5,1030.9L273.8,1031.6L278.2,1032.5L282.6,1033.6L287.1,1034.8L291.6,1036.1L296.1,1037.6L300.6,1039.2L305.2,1041L309.8,1042.9L314.3,1045L318.9,1047.2L323.5,1049.6L328.1,1052.1L332.7,1054.7L337.3,1057.5L341.9,1060.4L346.5,1063.4L351,1066.6L355.6,1069.9L360.1,1073.3L364.6,1076.9L369.1,1080.5L373.5,1084.3L377.9,1088.2L382.3,1092.2L386.6,1096.3L390.9,1100.6L395.2,1104.9L399.4,1109.3L403.6,1113.9L407.7,1118.5L411.7,1123.2L415.7,1128L419.6,1132.9L423.5,1137.9L427.3,1143L431.1,1148.1L434.7,1153.3L438.3,1158.6L441.8,1163.9L445.3,1169.3L448.6,1174.8L451.9,1180.3L455.1,1185.8L458.2,1191.4L461.2,1197.1L464.1,1202.8L466.9,1208.5L469.6,1214.3L472.2,1220L474.8,1225.8L477.2,1231.7L479.5,1237.5L481.7,1243.3L483.9,1249.2L485.9,1255L487.8,1260.9L489.5,1266.7L491.2,1272.6L492.8,1278.4L494.2,1284.2L495.6,1290L496.8,1295.8L497.9,1301.5L498.9,1307.2L499.7,1312.9L500.5,1318.5L501.1,1324.1L501.6,1329.6L502,1335.1L502.3,1340.5L502.4,1345.8L502.4,1351.1L502.3,1356.4L502.1,1361.5L501.8,1366.6L501.4,1371.6L500.8,1376.5L500.1,1381.4L499.3,1386.1L498.4,1390.8L497.3,1395.4L496.2,1399.8L494.9,1404.2L493.5,1408.5L492,1412.6L490.4,1416.7L488.6,1420.6L486.8,1424.4L484.8,1428.1L482.8,1431.7L480.6,1435.2L478.3,1438.5L476,1441.7L473.5,1444.8L470.9,1447.8L468.2,1450.6L465.4,1453.3L462.6,1455.8L459.6,1458.2L456.6,1460.5L453.4,1462.6L450.2,1464.6Z" stroke="#363636" stroke-width="2.1" fill="none"/>
<path d="M455,1461.8L451.7,1463.6L448.3,1465.3L444.8,1466.9L441.3,1468.2L437.7,1469.5L434,1470.6L430.2,1471.5L426.4,1472.3L422.5,1472.9L418.5,1473.4L414.5,1473.7L410.5,1473.9L406.3,1473.9L402.2,1473.8L397.9,1473.5L393.7,1473.1L389.3,1472.5L385,1471.8L380.6,1470.9L376.2,1469.8L371.7,1468.6L367.3,1467.3L362.7,1465.8L358.2,1464.1L353.7,1462.4L349.1,1460.4L344.5,1458.3L340,1456.1L335.4,1453.8L330.8,1451.3L326.2,1448.6L321.6,1445.9L317,1443L312.5,1439.9L307.9,1436.7L303.4,1433.4L298.9,1430L294.4,1426.5L289.9,1422.8L285.5,1419L281.1,1415.1L276.7,1411.1L272.3,1407L268,1402.8L263.8,1398.4L259.6,1394L255.4,1389.5L251.3,1384.8L247.3,1380.1L243.3,1375.3L239.3,1370.4L235.5,1365.4L231.7,1360.4L227.9,1355.2L224.3,1350L220.7,1344.8L217.2,1339.4L213.7,1334L210.4,1328.6L207.1,1323.1L203.9,1317.5L200.8,1311.9L197.8,1306.3L194.9,1300.6L192.1,1294.9L189.4,1289.1L186.7,1283.3L184.2,1277.5L181.8,1271.7L179.4,1265.9L177.2,1260L175.1,1254.2L173.1,1248.3L171.2,1242.5L169.4,1236.6L167.7,1230.8L166.1,1225L164.7,1219.2L163.4,1213.4L162.1,1207.6L161,1201.9L160,1196.2L159.2,1190.6L158.4,1184.9L157.8,1179.4L157.2,1173.8L156.8,1168.4L156.6,1163L156.4,1157.6L156.4,1152.3L156.5,1147.1L156.7,1141.9L157,1136.9L157.4,1131.9L158,1126.9L158.7,1122.1L159.5,1117.4L160.4,1112.7L161.4,1108.1L162.6,1103.7L163.8,1099.3L165.2,1095.1L166.7,1090.9L168.3,1086.9L170,1082.9L171.9,1079.1L173.8,1075.4L175.9,1071.8L178,1068.4L180.3,1065L182.6,1061.8L185.1,1058.8L187.7,1055.8L190.3,1053L193.1,1050.3L196,1047.8L198.9,1045.4L202,1043.1L205.1,1041L208.3,1039L211.6,1037.2L215,1035.5L218.5,1034L222,1032.6L225.6,1031.4L229.3,1030.3L233.1,1029.3L236.9,1028.5L240.8,1027.9L244.7,1027.4L248.8,1027.1L252.8,1026.9L256.9,1026.9L261.1,1027L265.3,1027.3L269.6,1027.8L273.9,1028.3L278.3,1029.1L282.7,1030L287.1,1031L291.5,1032.2L296,1033.6L300.5,1035.1L305.1,1036.7L309.6,1038.5L314.2,1040.4L318.7,1042.5L323.3,1044.7L327.9,1047.1L332.5,1049.6L337.1,1052.2L341.7,1055L346.2,1057.9L350.8,1060.9L355.4,1064.1L359.9,1067.4L364.4,1070.8L368.9,1074.4L373.4,1078L377.8,1081.8L382.2,1085.7L386.6,1089.7L390.9,1093.8L395.2,1098.1L399.5,1102.4L403.7,1106.8L407.9,1111.4L412,1116L416,1120.7L420,1125.5L423.9,1130.4L427.8,1135.4L431.6,1140.5L435.3,1145.6L439,1150.8L442.6,1156.1L446.1,1161.4L449.5,1166.8L452.9,1172.3L456.2,1177.8L459.3,1183.3L462.4,1188.9L465.5,1194.6L468.4,1200.3L471.2,1206L473.9,1211.7L476.6,1217.5L479.1,1223.3L481.5,1229.1L483.8,1235L486.1,1240.8L488.2,1246.6L490.2,1252.5L492.1,1258.3L493.9,1264.2L495.6,1270L497.1,1275.8L498.6,1281.7L499.9,1287.4L501.1,1293.2L502.3,1298.9L503.2,1304.6L504.1,1310.3L504.9,1315.9L505.5,1321.5L506,1327L506.4,1332.5L506.7,1337.9L506.9,1343.2L506.9,1348.5L506.8,1353.7L506.6,1358.9L506.3,1364L505.9,1369L505.3,1373.9L504.6,1378.7L503.8,1383.5L502.9,1388.1L501.9,1392.7L500.7,1397.2L499.4,1401.5L498.1,1405.8L496.6,1409.9L495,1414L493.2,1417.9L491.4,1421.7L489.5,1425.4L487.4,1429L485.3,1432.5L483,1435.8L480.6,1439L478.2,1442.1L475.6,1445L472.9,1447.8L470.2,1450.5L467.3,1453.1L464.4,1455.5L461.3,1457.7L458.2,1459.8L455,1461.8Z" stroke="#363636" stroke-width="2.1" fill="none"/>
<path d="M458.4,1459.8L455.1,1461.7L451.7,1463.3L448.3,1464.9L444.7,1466.3L441.1,1467.5L437.4,1468.6L433.7,1469.5L429.9,1470.3L426,1470.9L422,1471.4L418,1471.7L414,1471.9L409.8,1471.9L405.7,1471.8L401.5,1471.5L397.2,1471.1L392.9,1470.5L388.5,1469.7L384.2,1468.8L379.8,1467.8L375.3,1466.6L370.8,1465.2L366.3,1463.7L361.8,1462.1L357.3,1460.3L352.7,1458.4L348.2,1456.3L343.6,1454.1L339,1451.7L334.4,1449.2L329.8,1446.6L325.3,1443.8L320.7,1440.9L316.1,1437.8L311.6,1434.7L307,1431.4L302.5,1428L298,1424.4L293.6,1420.7L289.1,1417L284.7,1413.1L280.3,1409.1L276,1404.9L271.7,1400.7L267.5,1396.4L263.3,1391.9L259.1,1387.4L255,1382.8L250.9,1378L247,1373.2L243,1368.3L239.2,1363.4L235.4,1358.3L231.6,1353.2L228,1348L224.4,1342.7L220.9,1337.4L217.4,1332L214.1,1326.5L210.8,1321L207.6,1315.4L204.5,1309.8L201.5,1304.2L198.6,1298.5L195.7,1292.8L193,1287.1L190.4,1281.3L187.9,1275.5L185.4,1269.7L183.1,1263.8L180.9,1258L178.7,1252.1L176.7,1246.3L174.8,1240.4L173,1234.6L171.3,1228.8L169.8,1223L168.3,1217.2L167,1211.4L165.7,1205.6L164.6,1199.9L163.6,1194.2L162.8,1188.5L162,1182.9L161.3,1177.4L160.8,1171.8L160.4,1166.4L160.1,1161L160,1155.6L159.9,1150.3L160,1145.1L160.2,1140L160.5,1134.9L160.9,1129.9L161.5,1125L162.2,1120.1L163,1115.4L163.9,1110.7L164.9,1106.2L166,1101.7L167.3,1097.4L168.7,1093.1L170.2,1089L171.8,1084.9L173.5,1081L175.3,1077.2L177.2,1073.5L179.3,1069.9L181.4,1066.4L183.7,1063.1L186,1059.9L188.5,1056.8L191.1,1053.9L193.7,1051.1L196.5,1048.4L199.3,1045.9L202.3,1043.5L205.3,1041.2L208.4,1039.1L211.6,1037.1L214.9,1035.3L218.3,1033.6L221.8,1032.1L225.3,1030.7L228.9,1029.5L232.6,1028.4L236.3,1027.5L240.1,1026.7L244,1026.1L248,1025.6L252,1025.2L256.1,1025.1L260.2,1025.1L264.3,1025.2L268.6,1025.5L272.8,1025.9L277.1,1026.5L281.5,1027.3L285.8,1028.2L290.3,1029.2L294.7,1030.4L299.2,1031.7L303.7,1033.2L308.2,1034.9L312.7,1036.7L317.3,1038.6L321.9,1040.7L326.4,1042.9L331,1045.3L335.6,1047.8L340.2,1050.4L344.8,1053.2L349.3,1056.1L353.9,1059.1L358.4,1062.3L363,1065.6L367.5,1069L372,1072.6L376.5,1076.2L380.9,1080L385.3,1083.9L389.7,1087.9L394,1092L398.3,1096.3L402.6,1100.6L406.8,1105L410.9,1109.6L415,1114.2L419.1,1118.9L423.1,1123.7L427,1128.6L430.9,1133.6L434.7,1138.7L438.4,1143.8L442.1,1149L445.6,1154.3L449.2,1159.6L452.6,1165L456,1170.5L459.2,1176L462.4,1181.5L465.5,1187.1L468.5,1192.8L471.4,1198.5L474.3,1204.2L477,1209.9L479.6,1215.7L482.2,1221.5L484.6,1227.3L486.9,1233.1L489.2,1239L491.3,1244.8L493.3,1250.7L495.2,1256.5L497,1262.4L498.7,1268.2L500.2,1274L501.7,1279.8L503,1285.6L504.3,1291.4L505.4,1297.1L506.4,1302.8L507.3,1308.4L508,1314L508.7,1319.6L509.2,1325.1L509.6,1330.6L509.9,1336L510,1341.4L510.1,1346.7L510,1351.9L509.8,1357L509.5,1362.1L509.1,1367.1L508.5,1372L507.8,1376.8L507,1381.6L506.1,1386.2L505.1,1390.8L504,1395.3L502.7,1399.6L501.3,1403.9L499.8,1408L498.2,1412.1L496.5,1416L494.7,1419.8L492.8,1423.5L490.7,1427.1L488.6,1430.5L486.3,1433.9L484,1437.1L481.5,1440.1L479,1443.1L476.3,1445.9L473.5,1448.6L470.7,1451.1L467.8,1453.5L464.7,1455.7L461.6,1457.9L458.4,1459.8Z" stroke="#363636" stroke-width="1.7" fill="none"/>
<path d="M460.4,1458.6L457.2,1460.5L453.8,1462.1L450.3,1463.7L446.8,1465.1L443.2,1466.3L439.5,1467.4L435.8,1468.3L432,1469.1L428.1,1469.7L424.1,1470.2L420.1,1470.5L416.1,1470.7L412,1470.7L407.8,1470.6L403.6,1470.3L399.3,1469.8L395,1469.2L390.7,1468.5L386.3,1467.6L381.9,1466.6L377.4,1465.4L373,1464L368.5,1462.5L364,1460.9L359.4,1459.1L354.9,1457.1L350.3,1455.1L345.7,1452.8L341.2,1450.5L336.6,1448L332,1445.3L327.4,1442.6L322.9,1439.7L318.3,1436.6L313.8,1433.4L309.2,1430.1L304.7,1426.7L300.2,1423.2L295.8,1419.5L291.3,1415.7L286.9,1411.8L282.5,1407.8L278.2,1403.7L273.9,1399.5L269.7,1395.1L265.5,1390.7L261.3,1386.2L257.2,1381.5L253.2,1376.8L249.2,1372L245.2,1367.1L241.4,1362.1L237.6,1357.1L233.8,1351.9L230.2,1346.7L226.6,1341.5L223.1,1336.1L219.6,1330.7L216.3,1325.3L213,1319.8L209.8,1314.2L206.7,1308.6L203.7,1303L200.8,1297.3L198,1291.6L195.2,1285.8L192.6,1280L190,1274.2L187.6,1268.4L185.3,1262.6L183.1,1256.8L180.9,1250.9L178.9,1245.1L177,1239.2L175.2,1233.4L173.5,1227.6L172,1221.7L170.5,1215.9L169.1,1210.2L167.9,1204.4L166.8,1198.7L165.8,1193L164.9,1187.3L164.1,1181.7L163.5,1176.2L163,1170.6L162.6,1165.2L162.3,1159.8L162.1,1154.4L162.1,1149.1L162.1,1143.9L162.3,1138.8L162.6,1133.7L163.1,1128.7L163.6,1123.8L164.3,1118.9L165.1,1114.2L166,1109.6L167,1105L168.1,1100.5L169.4,1096.2L170.8,1091.9L172.2,1087.8L173.8,1083.7L175.5,1079.8L177.4,1076L179.3,1072.3L181.3,1068.7L183.5,1065.3L185.7,1062L188.1,1058.8L190.5,1055.7L193.1,1052.8L195.7,1049.9L198.5,1047.3L201.3,1044.7L204.3,1042.3L207.3,1040.1L210.4,1038L213.6,1036L216.9,1034.2L220.3,1032.5L223.7,1031L227.3,1029.6L230.9,1028.4L234.5,1027.3L238.3,1026.4L242.1,1025.6L246,1024.9L249.9,1024.5L253.9,1024.1L258,1024L262.1,1024L266.3,1024.1L270.5,1024.4L274.7,1024.8L279,1025.4L283.4,1026.2L287.8,1027.1L292.2,1028.1L296.6,1029.3L301.1,1030.7L305.6,1032.1L310.1,1033.8L314.6,1035.6L319.2,1037.5L323.7,1039.6L328.3,1041.8L332.9,1044.2L337.5,1046.7L342.1,1049.3L346.6,1052.1L351.2,1055L355.8,1058.1L360.3,1061.2L364.8,1064.5L369.3,1067.9L373.8,1071.5L378.3,1075.2L382.7,1078.9L387.1,1082.8L391.5,1086.9L395.9,1091L400.1,1095.2L404.4,1099.5L408.6,1104L412.8,1108.5L416.9,1113.1L420.9,1117.9L424.9,1122.7L428.8,1127.6L432.7,1132.5L436.5,1137.6L440.2,1142.7L443.9,1147.9L447.5,1153.2L451,1158.5L454.4,1163.9L457.8,1169.4L461.1,1174.9L464.3,1180.5L467.4,1186.1L470.4,1191.7L473.3,1197.4L476.1,1203.1L478.8,1208.8L481.5,1214.6L484,1220.4L486.4,1226.2L488.8,1232.1L491,1237.9L493.1,1243.7L495.1,1249.6L497.1,1255.4L498.8,1261.3L500.5,1267.1L502.1,1272.9L503.6,1278.7L504.9,1284.5L506.2,1290.3L507.3,1296L508.3,1301.7L509.1,1307.3L509.9,1312.9L510.6,1318.5L511.1,1324L511.5,1329.5L511.8,1334.9L512,1340.2L512,1345.5L511.9,1350.8L511.7,1355.9L511.4,1361L511,1366L510.4,1370.9L509.8,1375.7L509,1380.5L508.1,1385.1L507.1,1389.7L505.9,1394.1L504.7,1398.5L503.3,1402.7L501.8,1406.9L500.2,1410.9L498.5,1414.8L496.7,1418.7L494.8,1422.3L492.7,1425.9L490.6,1429.4L488.3,1432.7L486,1435.9L483.5,1439L481,1441.9L478.3,1444.7L475.6,1447.4L472.7,1449.9L469.8,1452.3L466.8,1454.6L463.6,1456.7L460.4,1458.6Z" stroke="#363636" stroke-width="1.7" fill="none"/>
<path d="M462.1,1457.7L458.9,1459.5L455.5,1461.2L452,1462.7L448.5,1464.1L444.9,1465.3L441.3,1466.4L437.5,1467.3L433.7,1468.1L429.8,1468.7L425.9,1469.2L421.9,1469.5L417.8,1469.7L413.7,1469.7L409.6,1469.6L405.3,1469.3L401.1,1468.8L396.8,1468.2L392.5,1467.5L388.1,1466.6L383.7,1465.5L379.2,1464.3L374.8,1463L370.3,1461.5L365.8,1459.8L361.2,1458.1L356.7,1456.1L352.1,1454L347.6,1451.8L343,1449.4L338.4,1446.9L333.8,1444.3L329.2,1441.5L324.7,1438.6L320.1,1435.6L315.6,1432.4L311,1429.1L306.5,1425.7L302,1422.1L297.6,1418.5L293.1,1414.7L288.7,1410.8L284.4,1406.8L280,1402.6L275.8,1398.4L271.5,1394.1L267.3,1389.6L263.1,1385.1L259,1380.5L255,1375.8L251,1371L247.1,1366.1L243.2,1361.1L239.4,1356L235.7,1350.9L232,1345.7L228.4,1340.4L224.9,1335.1L221.5,1329.7L218.1,1324.2L214.8,1318.7L211.6,1313.2L208.5,1307.6L205.5,1301.9L202.6,1296.2L199.8,1290.5L197.1,1284.8L194.4,1279L191.9,1273.2L189.4,1267.4L187.1,1261.6L184.9,1255.7L182.8,1249.9L180.7,1244L178.8,1238.2L177,1232.4L175.3,1226.5L173.8,1220.7L172.3,1214.9L171,1209.1L169.7,1203.4L168.6,1197.7L167.6,1192L166.7,1186.3L165.9,1180.7L165.3,1175.1L164.8,1169.6L164.4,1164.2L164.1,1158.8L163.9,1153.4L163.8,1148.1L163.9,1142.9L164.1,1137.8L164.4,1132.7L164.8,1127.7L165.4,1122.8L166,1118L166.8,1113.2L167.7,1108.6L168.7,1104L169.9,1099.6L171.1,1095.2L172.5,1091L174,1086.8L175.6,1082.8L177.3,1078.8L179.1,1075L181,1071.3L183,1067.8L185.2,1064.3L187.4,1061L189.8,1057.8L192.2,1054.7L194.8,1051.8L197.4,1049L200.2,1046.3L203,1043.8L205.9,1041.4L209,1039.1L212.1,1037L215.3,1035.1L218.6,1033.2L221.9,1031.6L225.4,1030L228.9,1028.7L232.5,1027.4L236.2,1026.4L239.9,1025.4L243.7,1024.6L247.6,1024L251.5,1023.5L255.5,1023.2L259.6,1023L263.7,1023L267.9,1023.2L272.1,1023.5L276.3,1023.9L280.6,1024.5L285,1025.2L289.3,1026.1L293.8,1027.2L298.2,1028.4L302.7,1029.7L307.2,1031.2L311.7,1032.9L316.2,1034.7L320.7,1036.6L325.3,1038.7L329.9,1040.9L334.5,1043.3L339,1045.8L343.6,1048.4L348.2,1051.2L352.7,1054.1L357.3,1057.2L361.9,1060.3L366.4,1063.6L370.9,1067L375.4,1070.6L379.8,1074.3L384.3,1078L388.7,1081.9L393.1,1086L397.4,1090.1L401.7,1094.3L405.9,1098.6L410.1,1103.1L414.3,1107.6L418.4,1112.2L422.4,1117L426.4,1121.8L430.4,1126.7L434.2,1131.6L438,1136.7L441.8,1141.8L445.4,1147L449,1152.3L452.5,1157.6L456,1163L459.3,1168.5L462.6,1174L465.8,1179.6L468.9,1185.2L471.9,1190.8L474.8,1196.5L477.6,1202.2L480.4,1207.9L483,1213.7L485.6,1219.5L488,1225.3L490.3,1231.2L492.5,1237L494.7,1242.8L496.7,1248.7L498.6,1254.5L500.4,1260.4L502.1,1266.2L503.7,1272L505.1,1277.8L506.5,1283.6L507.7,1289.3L508.8,1295.1L509.8,1300.8L510.7,1306.4L511.5,1312L512.1,1317.6L512.7,1323.1L513.1,1328.6L513.4,1334L513.5,1339.3L513.6,1344.6L513.5,1349.8L513.3,1355L513,1360L512.6,1365L512.1,1369.9L511.4,1374.8L510.6,1379.5L509.7,1384.2L508.7,1388.7L507.6,1393.2L506.3,1397.5L504.9,1401.8L503.5,1405.9L501.9,1410L500.2,1413.9L498.3,1417.7L496.4,1421.4L494.4,1425L492.2,1428.4L490,1431.7L487.7,1434.9L485.2,1438L482.7,1440.9L480,1443.7L477.3,1446.4L474.4,1448.9L471.5,1451.3L468.5,1453.6L465.3,1455.7L462.1,1457.7Z" stroke="#363636" stroke-width="1.7" fill="none"/>
<path d="M463.9,1456.7L460.6,1458.5L457.2,1460.2L453.8,1461.7L450.2,1463.1L446.7,1464.3L443,1465.4L439.2,1466.3L435.4,1467.1L431.6,1467.7L427.6,1468.2L423.6,1468.5L419.6,1468.7L415.5,1468.7L411.3,1468.5L407.1,1468.3L402.9,1467.8L398.6,1467.2L394.2,1466.5L389.9,1465.6L385.5,1464.5L381,1463.3L376.6,1462L372.1,1460.5L367.6,1458.8L363,1457L358.5,1455.1L353.9,1453L349.4,1450.8L344.8,1448.4L340.2,1445.9L335.6,1443.3L331.1,1440.5L326.5,1437.6L321.9,1434.5L317.4,1431.4L312.9,1428.1L308.4,1424.6L303.9,1421.1L299.4,1417.4L295,1413.6L290.6,1409.7L286.2,1405.7L281.9,1401.6L277.6,1397.4L273.3,1393L269.1,1388.6L265,1384.1L260.9,1379.4L256.8,1374.7L252.8,1369.9L248.9,1365L245,1360L241.2,1355L237.5,1349.9L233.8,1344.7L230.3,1339.4L226.7,1334.1L223.3,1328.7L219.9,1323.2L216.7,1317.7L213.5,1312.1L210.4,1306.5L207.4,1300.9L204.4,1295.2L201.6,1289.5L198.9,1283.8L196.2,1278L193.7,1272.2L191.3,1266.4L188.9,1260.6L186.7,1254.7L184.6,1248.9L182.6,1243L180.6,1237.2L178.8,1231.3L177.2,1225.5L175.6,1219.7L174.1,1213.9L172.8,1208.1L171.5,1202.4L170.4,1196.7L169.4,1191L168.5,1185.3L167.7,1179.7L167.1,1174.1L166.6,1168.6L166.1,1163.2L165.8,1157.8L165.7,1152.4L165.6,1147.1L165.7,1141.9L165.9,1136.8L166.2,1131.7L166.6,1126.7L167.1,1121.8L167.8,1117L168.6,1112.2L169.5,1107.6L170.5,1103L171.6,1098.6L172.9,1094.2L174.2,1090L175.7,1085.8L177.3,1081.8L179,1077.9L180.8,1074.1L182.7,1070.4L184.8,1066.8L186.9,1063.4L189.1,1060L191.5,1056.8L193.9,1053.8L196.5,1050.8L199.1,1048L201.8,1045.4L204.7,1042.8L207.6,1040.5L210.6,1038.2L213.7,1036.1L216.9,1034.1L220.2,1032.3L223.6,1030.6L227,1029.1L230.6,1027.7L234.1,1026.5L237.8,1025.4L241.6,1024.5L245.4,1023.7L249.2,1023.1L253.2,1022.6L257.2,1022.3L261.2,1022.1L265.3,1022.1L269.5,1022.3L273.7,1022.5L277.9,1023L282.2,1023.6L286.6,1024.3L290.9,1025.2L295.3,1026.3L299.8,1027.5L304.2,1028.8L308.7,1030.3L313.2,1032L317.8,1033.8L322.3,1035.7L326.9,1037.8L331.4,1040L336,1042.4L340.6,1044.9L345.2,1047.5L349.7,1050.3L354.3,1053.2L358.9,1056.3L363.4,1059.4L367.9,1062.7L372.4,1066.2L376.9,1069.7L381.4,1073.4L385.8,1077.2L390.2,1081.1L394.6,1085.1L398.9,1089.2L403.2,1093.4L407.5,1097.8L411.7,1102.2L415.8,1106.7L419.9,1111.4L424,1116.1L428,1120.9L431.9,1125.8L435.8,1130.8L439.6,1135.8L443.3,1140.9L447,1146.1L450.5,1151.4L454.1,1156.7L457.5,1162.1L460.9,1167.6L464.1,1173.1L467.3,1178.7L470.4,1184.3L473.4,1189.9L476.4,1195.6L479.2,1201.3L481.9,1207L484.6,1212.8L487.1,1218.6L489.5,1224.4L491.9,1230.2L494.1,1236.1L496.2,1241.9L498.2,1247.8L500.2,1253.6L502,1259.5L503.6,1265.3L505.2,1271.1L506.7,1276.9L508,1282.7L509.3,1288.4L510.4,1294.1L511.4,1299.8L512.3,1305.5L513.1,1311.1L513.7,1316.7L514.2,1322.2L514.7,1327.6L515,1333L515.1,1338.4L515.2,1343.7L515.1,1348.9L514.9,1354L514.6,1359.1L514.2,1364.1L513.7,1369L513,1373.8L512.2,1378.6L511.3,1383.2L510.3,1387.8L509.2,1392.2L507.9,1396.6L506.6,1400.8L505.1,1405L503.5,1409L501.8,1412.9L500,1416.7L498.1,1420.4L496,1424L493.9,1427.4L491.7,1430.8L489.3,1434L486.9,1437L484.3,1440L481.7,1442.8L479,1445.4L476.1,1448L473.2,1450.3L470.2,1452.6L467.1,1454.7L463.9,1456.7Z" stroke="#363636" stroke-width="5.5" fill="none"/>
<path d="M189.6,1059.4L193.7,1054.1L198.1,1049.1L202.7,1044.6L207.7,1040.4L212.9,1036.7L218.4,1033.3L224.1,1030.4L230,1027.9L236.2,1025.9L242.5,1024.3L249.1,1023.1L255.8,1022.4L238,1064.3L229.6,1062.2L221.3,1060.7L213.2,1059.6L205.2,1059L197.3,1059L189.7,1059.5Z" stroke="#363636" stroke-width="0" fill="#111" stroke-opacity="0"/>
<path d="M501.2,1414.2L498.1,1420.5L494.6,1426.4L490.8,1431.9L486.8,1437.1L482.5,1442L477.9,1446.4L473,1450.5L467.9,1454.2L462.5,1457.4L456.9,1460.3L451.1,1462.8L445,1464.8L438.8,1466.4L432.4,1467.6L425.8,1468.4L427.4,1466.1L431.3,1459.8L435,1453.2L438.3,1446.2L441.2,1438.8L443.8,1431.1L446,1423.1L447.9,1414.8Z" stroke="#363636" stroke-width="0" fill="#111" stroke-opacity="0"/>
</g></g></g>
<ellipse cx="273" cy="1284" rx="245" ry="150" transform="rotate(60 273 1284)" stroke="#363636" stroke-width="2.6" fill="none"/>
<ellipse cx="267" cy="1290.8" rx="231.5" ry="139" transform="rotate(61.5 267 1290.8)" stroke="#363636" stroke-width="2.6" fill="none"/>
<ellipse cx="302.7" cy="1266.3" rx="127" ry="77.5" transform="rotate(60.7 302.7 1266.3)" stroke="#363636" stroke-width="2.6" fill="none"/>
<ellipse cx="305.7" cy="1264.6" rx="124" ry="75.5" transform="rotate(60.7 305.7 1264.6)" stroke="#363636" stroke-width="2.6" fill="none"/>
<path d="M262.4,1149.9L265.9,1149.7L269.5,1149.7L273.2,1149.9L277,1150.3L280.8,1150.9L284.6,1151.8L288.5,1152.9L292.4,1154.2L296.3,1155.7L300.3,1157.4L304.2,1159.3L308.2,1161.4L312.1,1163.8L316.1,1166.3L320,1169L323.9,1171.9L327.7,1174.9L331.5,1178.2L335.2,1181.6L338.9,1185.1L342.6,1188.8L346.1,1192.7L349.6,1196.7L353,1200.8L356.3,1205.1L359.5,1209.4L362.6,1213.9L365.5,1218.5L368.4,1223.1L371.1,1227.9L373.8,1232.7L376.2,1237.5L378.6,1242.5L380.8,1247.4L382.9,1252.4L384.8,1257.5L386.5,1262.5L388.1,1267.6L389.6,1272.6L390.9,1277.6L392,1282.6L392.9,1287.6L393.7,1292.5L394.3,1297.4L394.7,1302.2L395,1307L395.1,1311.6L395,1316.2L394.8,1320.7L394.4,1325.1L393.8,1329.3L393,1333.5L392.1,1337.5L391,1341.4L389.7,1345.1L388.3,1348.7L386.7,1352.1L385,1355.3L383.1,1358.4L381,1361.3L378.8,1364L376.5,1366.6L374,1368.9L371.4,1371.1L368.7,1373L365.9,1374.7L362.9,1376.3L359.8,1377.6" stroke="#363636" stroke-width="4.2" fill="none"/>
<clipPath id="c4"><ellipse cx="304.3" cy="1266.5" rx="27" ry="16.5" transform="rotate(60 304.3 1266.5)"/></clipPath>
<ellipse cx="304.3" cy="1266.5" rx="27" ry="16.5" transform="rotate(60 304.3 1266.5)" stroke="#363636" stroke-width="2.6" fill="none"/>
<g clip-path="url(#c4)">
<ellipse cx="311.3" cy="1264.5" rx="27" ry="16.5" transform="rotate(60 311.3 1264.5)" stroke="#363636" stroke-width="2.6" fill="none"/>
</g>
<clipPath id="c5"><ellipse cx="305.5" cy="1216.8" rx="18.5" ry="10.5" transform="rotate(58 305.5 1216.8)"/></clipPath>
<ellipse cx="305.5" cy="1216.8" rx="18.5" ry="10.5" transform="rotate(58 305.5 1216.8)" stroke="#363636" stroke-width="2.6" fill="none"/>
<g clip-path="url(#c5)">
<ellipse cx="311" cy="1215.3" rx="18.5" ry="10.5" transform="rotate(58 311 1215.3)" stroke="#363636" stroke-width="2.6" fill="none"/>
</g>
<clipPath id="c6"><ellipse cx="260.8" cy="1242.5" rx="18.5" ry="10.5" transform="rotate(58 260.8 1242.5)"/></clipPath>
<ellipse cx="260.8" cy="1242.5" rx="18.5" ry="10.5" transform="rotate(58 260.8 1242.5)" stroke="#363636" stroke-width="2.6" fill="none"/>
<g clip-path="url(#c6)">
<ellipse cx="266.3" cy="1241" rx="18.5" ry="10.5" transform="rotate(58 266.3 1241)" stroke="#363636" stroke-width="2.6" fill="none"/>
</g>
<clipPath id="c7"><ellipse cx="348.6" cy="1292.9" rx="18.5" ry="10.5" transform="rotate(58 348.6 1292.9)"/></clipPath>
<ellipse cx="348.6" cy="1292.9" rx="18.5" ry="10.5" transform="rotate(58 348.6 1292.9)" stroke="#363636" stroke-width="2.6" fill="none"/>
<g clip-path="url(#c7)">
<ellipse cx="354.1" cy="1291.4" rx="18.5" ry="10.5" transform="rotate(58 354.1 1291.4)" stroke="#363636" stroke-width="2.6" fill="none"/>
</g>
<clipPath id="c8"><ellipse cx="305.4" cy="1318" rx="18.5" ry="10.5" transform="rotate(58 305.4 1318)"/></clipPath>
<ellipse cx="305.4" cy="1318" rx="18.5" ry="10.5" transform="rotate(58 305.4 1318)" stroke="#363636" stroke-width="2.6" fill="none"/>
<g clip-path="url(#c8)">
<ellipse cx="310.9" cy="1316.5" rx="18.5" ry="10.5" transform="rotate(58 310.9 1316.5)" stroke="#363636" stroke-width="2.6" fill="none"/>
</g>
<clipPath id="c9"><ellipse cx="237.5" cy="1116.2" rx="35" ry="12" transform="rotate(35 237.5 1116.2)"/></clipPath>
<ellipse cx="237.5" cy="1116.2" rx="35" ry="12" transform="rotate(35 237.5 1116.2)" stroke="#363636" stroke-width="2.6" fill="none"/>
<g clip-path="url(#c9)">
<ellipse cx="245.3" cy="1114.2" rx="35" ry="12" transform="rotate(35 245.3 1114.2)" stroke="#363636" stroke-width="2.6" fill="none"/>
</g>
<clipPath id="c10"><ellipse cx="169.5" cy="1155.2" rx="36" ry="21" transform="rotate(30 169.5 1155.2)"/></clipPath>
<ellipse cx="169.5" cy="1155.2" rx="36" ry="21" transform="rotate(30 169.5 1155.2)" stroke="#363636" stroke-width="2.6" fill="none"/>
<g clip-path="url(#c10)">
<ellipse cx="177.3" cy="1153.2" rx="36" ry="21" transform="rotate(30 177.3 1153.2)" stroke="#363636" stroke-width="2.6" fill="none"/>
<line x1="181.4" y1="1138" x2="181.4" y2="1180" stroke="#363636" stroke-width="2.3"/>
</g>
<clipPath id="c11"><ellipse cx="169.5" cy="1266.5" rx="34.5" ry="27" transform="rotate(36 169.5 1266.5)"/></clipPath>
<ellipse cx="169.5" cy="1266.5" rx="34.5" ry="27" transform="rotate(36 169.5 1266.5)" stroke="#363636" stroke-width="2.6" fill="none"/>
<g clip-path="url(#c11)">
<ellipse cx="177.3" cy="1264.5" rx="34.5" ry="27" transform="rotate(36 177.3 1264.5)" stroke="#363636" stroke-width="2.6" fill="none"/>
</g>
<clipPath id="c12"><ellipse cx="237.2" cy="1384.6" rx="35" ry="28" transform="rotate(75 237.2 1384.6)"/></clipPath>
<ellipse cx="237.2" cy="1384.6" rx="35" ry="28" transform="rotate(75 237.2 1384.6)" stroke="#363636" stroke-width="2.6" fill="none"/>
<g clip-path="url(#c12)">
<ellipse cx="245.9" cy="1382.3" rx="35" ry="28" transform="rotate(75 245.9 1382.3)" stroke="#363636" stroke-width="2.6" fill="none"/>
</g>
<clipPath id="c13"><ellipse cx="333.4" cy="1439.7" rx="36" ry="21" transform="rotate(80 333.4 1439.7)"/></clipPath>
<ellipse cx="333.4" cy="1439.7" rx="36" ry="21" transform="rotate(80 333.4 1439.7)" stroke="#363636" stroke-width="2.6" fill="none"/>
<g clip-path="url(#c13)">
<ellipse cx="341.2" cy="1437.7" rx="36" ry="21" transform="rotate(80 341.2 1437.7)" stroke="#363636" stroke-width="2.6" fill="none"/>
<line x1="323.5" y1="1420" x2="356" y2="1438" stroke="#363636" stroke-width="2.3"/>
</g>
<clipPath id="c14"><ellipse cx="402" cy="1401.8" rx="34" ry="11" transform="rotate(80 402 1401.8)"/></clipPath>
<ellipse cx="402" cy="1401.8" rx="34" ry="11" transform="rotate(80 402 1401.8)" stroke="#363636" stroke-width="2.6" fill="none"/>
<g clip-path="url(#c14)">
<ellipse cx="406.9" cy="1400.5" rx="34" ry="11" transform="rotate(80 406.9 1400.5)" stroke="#363636" stroke-width="2.6" fill="none"/>
</g>
<clipPath id="c15"><ellipse cx="402" cy="1290" rx="31" ry="10" transform="rotate(65 402 1290)"/></clipPath>
<ellipse cx="402" cy="1290" rx="31" ry="10" transform="rotate(65 402 1290)" stroke="#363636" stroke-width="2.6" fill="none"/>
<g clip-path="url(#c15)">
<ellipse cx="406.9" cy="1288.8" rx="31" ry="10" transform="rotate(65 406.9 1288.8)" stroke="#363636" stroke-width="2.6" fill="none"/>
</g>
<clipPath id="c16"><ellipse cx="333.5" cy="1170.7" rx="33" ry="8.5" transform="rotate(50 333.5 1170.7)"/></clipPath>
<ellipse cx="333.5" cy="1170.7" rx="33" ry="8.5" transform="rotate(50 333.5 1170.7)" stroke="#363636" stroke-width="2.6" fill="none"/>
<g clip-path="url(#c16)">
<ellipse cx="337.4" cy="1169.7" rx="33" ry="8.5" transform="rotate(50 337.4 1169.7)" stroke="#363636" stroke-width="2.6" fill="none"/>
</g>
<path d="M90.4,1428.2L130.7,1405L130.7,1405L131.4,1404.7L132.1,1404.5L132.9,1404.4L133.7,1404.4L134.6,1404.5L135.4,1404.8L136.3,1405.2L137.2,1405.6L138.1,1406.2L138.9,1406.9L139.8,1407.6L140.6,1408.5L141.3,1409.4L142,1410.4L142.7,1411.4L143.2,1412.5L143.7,1413.6L144.1,1414.7L144.5,1415.8L144.7,1416.9L144.8,1417.9L144.9,1419L144.9,1420L144.8,1420.9L144.5,1421.8L144.2,1422.6L143.8,1423.4L143.4,1424L142.8,1424.5L142.2,1425L142.2,1425L101.9,1448.2Z" stroke="#363636" stroke-width="2.6" fill="#fff"/>
<path d="M97.5,1465.1L96.5,1465.5L95.4,1465.9L94.3,1466.1L93.2,1466.2L91.9,1466.2L90.7,1466L89.4,1465.7L88.1,1465.2L86.8,1464.6L85.4,1463.9L84.1,1463.1L82.8,1462.2L81.4,1461.1L80.2,1459.9L78.9,1458.7L77.7,1457.4L76.5,1455.9L75.4,1454.4L74.4,1452.9L73.4,1451.3L72.5,1449.6L71.7,1448L70.9,1446.2L70.3,1444.5L69.7,1442.8L69.3,1441.1L68.9,1439.4L68.7,1437.8L68.5,1436.1L68.5,1434.6L68.5,1433.1L68.7,1431.6L69,1430.3L69.3,1429L69.8,1427.8L70.4,1426.7L71,1425.7L71.8,1424.9L72.6,1424.2L73.5,1423.5L76.6,1421.8L77.6,1421.3L78.6,1420.9L79.8,1420.7L80.9,1420.6L82.2,1420.7L83.4,1420.9L84.7,1421.2L86,1421.6L87.3,1422.2L88.7,1422.9L90,1423.7L91.3,1424.7L92.7,1425.7L93.9,1426.9L95.2,1428.1L96.4,1429.5L97.6,1430.9L98.7,1432.4L99.7,1433.9L100.7,1435.5L101.6,1437.2L102.4,1438.9L103.2,1440.6L103.8,1442.3L104.4,1444L104.8,1445.7L105.2,1447.4L105.4,1449.1L105.6,1450.7L105.6,1452.3L105.6,1453.8L105.4,1455.2L105.1,1456.6L104.8,1457.8L104.3,1459L103.7,1460.1L103.1,1461.1L102.3,1461.9L101.5,1462.7L100.6,1463.3Z" stroke="#363636" stroke-width="0" fill="#fff" stroke-opacity="0"/>
<path d="M77.7,1421.2L78.8,1420.9L79.9,1420.7L81.1,1420.6L82.3,1420.7L83.6,1420.9L84.8,1421.2L86.2,1421.7L87.5,1422.3L88.8,1423L90.2,1423.8L91.5,1424.8L92.8,1425.8L94.1,1427L95.3,1428.3L96.5,1429.6L97.7,1431L98.8,1432.5L99.8,1434.1L100.8,1435.7L101.7,1437.4L102.5,1439.1L103.2,1440.8L103.9,1442.5L104.4,1444.2L104.9,1445.9L105.2,1447.6L105.5,1449.2L105.6,1450.9L105.6,1452.4L105.6,1453.9L105.4,1455.4L105.1,1456.7L104.7,1458L104.2,1459.1L103.7,1460.2L103,1461.2L102.2,1462L101.4,1462.7L100.5,1463.3L99.5,1463.8" stroke="#363636" stroke-width="4.2" fill="none"/>
<ellipse cx="85.5" cy="1444.3" rx="24" ry="14" transform="rotate(60 85.5 1444.3)" stroke="#363636" stroke-width="2.9" fill="#fff"/>
<path d="M59.7,1440.5L69.4,1434.9L80.1,1433.7L90.3,1445.5L90.7,1458.2L81,1463.8L70,1466.2L59.3,1453.1Z" stroke="#363636" stroke-width="2.6" fill="#fff"/>
<path d="M59.7,1440.5L70.4,1439.3L80.6,1451.1L81,1463.8L70,1466.2L59.3,1453.1Z" stroke="#363636" stroke-width="2.6" fill="none"/>
<line x1="70.4" y1="1439.3" x2="80.1" y2="1433.7" stroke="#363636" stroke-width="2.6"/>
<line x1="80.6" y1="1451.1" x2="90.3" y2="1445.5" stroke="#363636" stroke-width="2.6"/>
<line x1="670.7" y1="1055" x2="724.4" y2="1025" stroke="#363636" stroke-width="1.8"/>
<line x1="778" y1="993.6" x2="848.6" y2="952.9" stroke="#363636" stroke-width="1.8"/>
<line x1="935.7" y1="902.9" x2="1008.2" y2="860.8" stroke="#363636" stroke-width="1.8"/>
<line x1="143" y1="1411" x2="349" y2="1295" stroke="#363636" stroke-width="1.8"/>
<line x1="484" y1="1212.5" x2="571.7" y2="1164.2" stroke="#363636" stroke-width="1.8"/>
<path d="M1424.2,372.6L1424.2,397.4L1418.8,397.4L1418.8,380.8L1411,384.2L1411,379.2L1420,372.6Z" fill="#111"/>
<text x="1283.5" y="476" font-family="Liberation Sans, sans-serif" font-weight="bold" font-size="36" text-anchor="start" fill="#111" style="will-change:transform">6</text>
<text x="982.5" y="623" font-family="Liberation Sans, sans-serif" font-weight="bold" font-size="36" text-anchor="start" fill="#111" style="will-change:transform">3</text>
<text x="666" y="722.5" font-family="Liberation Sans, sans-serif" font-weight="bold" font-size="36" text-anchor="start" fill="#111" style="will-change:transform">8</text>
<text x="613" y="910.5" font-family="Liberation Sans, sans-serif" font-weight="bold" font-size="36" text-anchor="start" fill="#111" style="will-change:transform">5</text>
<text x="405.5" y="998.5" font-family="Liberation Sans, sans-serif" font-weight="bold" font-size="36" text-anchor="start" fill="#111" style="will-change:transform">4</text>
<text x="122.6" y="992.5" font-family="Liberation Sans, sans-serif" font-weight="bold" font-size="36" text-anchor="start" fill="#111" style="will-change:transform">9</text>
<text x="1119.4" y="1024.5" font-family="Liberation Sans, sans-serif" font-weight="bold" font-size="36" text-anchor="start" fill="#111" style="will-change:transform">2</text>
<text x="1000.3" y="1092" font-family="Liberation Sans, sans-serif" font-weight="bold" font-size="36" text-anchor="start" fill="#111" style="will-change:transform">6</text>
<text x="1318" y="1047" font-family="Liberation Sans, sans-serif" font-weight="bold" font-size="36" text-anchor="start" fill="#111" style="will-change:transform">7</text>
<path d="M171.2,1496.6L171.2,1522.7L165.8,1522.7L165.8,1504.8L158,1508.2L158,1503.2L167,1496.6Z" fill="#111"/>
<text x="178.6" y="1523" font-family="Liberation Sans, sans-serif" font-weight="bold" font-size="36" text-anchor="start" fill="#111" style="will-change:transform">0</text>
<line x1="1429.5" y1="394.2" x2="1462.4" y2="427.1" stroke="#111" stroke-width="3"/>
<path d="M1482.2,446.9L1455.1,431.6L1466.9,419.8Z" stroke="#111" stroke-width="0.8" fill="#111"/>
<line x1="1307" y1="475" x2="1339.1" y2="506.6" stroke="#111" stroke-width="3"/>
<path d="M1359,526.3L1331.8,511.1L1343.5,499.3Z" stroke="#111" stroke-width="0.8" fill="#111"/>
<line x1="1006" y1="617.3" x2="1038.8" y2="651" stroke="#111" stroke-width="3"/>
<path d="M1058.4,671L1031.5,655.3L1043.4,643.7Z" stroke="#111" stroke-width="0.8" fill="#111"/>
<line x1="690.2" y1="717.5" x2="722.4" y2="750.2" stroke="#111" stroke-width="3"/>
<path d="M742,770.2L715.1,754.6L726.9,743Z" stroke="#111" stroke-width="0.8" fill="#111"/>
<line x1="634.7" y1="908.5" x2="666.5" y2="939.8" stroke="#111" stroke-width="3"/>
<path d="M686.4,959.5L659.2,944.3L670.9,932.5Z" stroke="#111" stroke-width="0.8" fill="#111"/>
<line x1="430.4" y1="996" x2="463.1" y2="1029.1" stroke="#111" stroke-width="3"/>
<path d="M482.8,1049L455.8,1033.5L467.6,1021.8Z" stroke="#111" stroke-width="0.8" fill="#111"/>
<line x1="147.1" y1="990" x2="179.5" y2="1022.3" stroke="#111" stroke-width="3"/>
<path d="M199.3,1042.1L172.2,1026.8L183.9,1015Z" stroke="#111" stroke-width="0.8" fill="#111"/>
<line x1="1116.6" y1="1015" x2="1084.1" y2="983.4" stroke="#111" stroke-width="3"/>
<path d="M1064,963.9L1091.3,978.9L1079.7,990.8Z" stroke="#111" stroke-width="0.8" fill="#111"/>
<line x1="993.5" y1="1088.5" x2="961.3" y2="1055.8" stroke="#111" stroke-width="3"/>
<path d="M941.7,1035.8L968.6,1051.4L956.8,1063Z" stroke="#111" stroke-width="0.8" fill="#111"/>
<line x1="1315.2" y1="1038" x2="1282.7" y2="1005.5" stroke="#111" stroke-width="3"/>
<path d="M1262.9,985.7L1290,1001L1278.2,1012.8Z" stroke="#111" stroke-width="0.8" fill="#111"/>
<line x1="153.6" y1="1517.5" x2="120.9" y2="1485.2" stroke="#111" stroke-width="3"/>
<path d="M101,1465.5L128.2,1480.7L116.5,1492.5Z" stroke="#111" stroke-width="0.8" fill="#111"/>
<rect x="1102.3" y="968.2" width="50.5" height="83.8" fill="none" stroke="#fe0f0f" stroke-width="8.3"/>
<rect x="1435.5" y="1947.5" width="155.5" height="53.5" fill="none" stroke="#1a1a1a" stroke-width="3"/>
<text x="1444" y="1984.8" font-family="Liberation Sans, sans-serif" font-weight="bold" font-size="35.6" text-anchor="start" fill="#111" style="will-change:transform">fa920ga</text>
</svg>
</body></html>
